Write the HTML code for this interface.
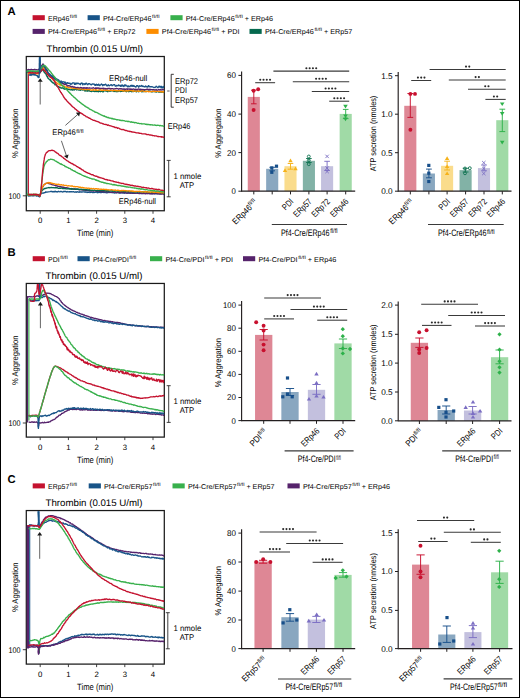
<!DOCTYPE html><html><head><meta charset="utf-8"><style>html,body{margin:0;padding:0;background:#fff}svg{display:block}text{font-family:"Liberation Sans",sans-serif;text-rendering:geometricPrecision}</style></head><body><svg width="520" height="698" viewBox="0 0 520 698"><rect width="520" height="698" fill="#fff"/><rect x="0" y="0" width="520" height="1" fill="#000"/>
<rect x="0" y="697" width="520" height="1" fill="#000"/>
<rect x="0" y="0" width="1" height="698" fill="#000"/>
<rect x="519" y="0" width="1" height="698" fill="#000"/>
<text x="7.4" y="15.2" font-size="11.3" font-weight="bold">A</text>
<text x="7.6" y="255.9" font-size="11.3" font-weight="bold">B</text>
<text x="7.4" y="483.3" font-size="11.3" font-weight="bold">C</text>
<rect x="32.6" y="15.2" width="12.2" height="5" fill="#c4122f"/>
<text x="48" y="20.5" font-size="7" textLength="21.25" lengthAdjust="spacingAndGlyphs">ERp46</text>
<text x="69.85" y="17.5" font-size="4.6" textLength="7.25" lengthAdjust="spacingAndGlyphs">fl/fl</text>
<rect x="87.6" y="15.2" width="12.2" height="5" fill="#185488"/>
<text x="103" y="20.5" font-size="7" textLength="48.44" lengthAdjust="spacingAndGlyphs">Pf4-Cre/ERp46</text>
<text x="152.05" y="17.5" font-size="4.6" textLength="7.45" lengthAdjust="spacingAndGlyphs">fl/fl</text>
<rect x="170.4" y="15.2" width="12.2" height="5" fill="#38b04c"/>
<text x="185.8" y="20.5" font-size="7" textLength="48.84" lengthAdjust="spacingAndGlyphs">Pf4-Cre/ERp46</text>
<text x="235.26" y="17.5" font-size="4.6" textLength="7.51" lengthAdjust="spacingAndGlyphs">fl/fl</text>
<text x="242.77" y="20.5" font-size="7" textLength="30.23" lengthAdjust="spacingAndGlyphs">&#160;+&#160;ERp46</text>
<rect x="32.6" y="28.9" width="12.2" height="5" fill="#56236c"/>
<text x="48" y="34.2" font-size="7" textLength="49.01" lengthAdjust="spacingAndGlyphs">Pf4-Cre/ERp46</text>
<text x="97.63" y="31.2" font-size="4.6" textLength="7.54" lengthAdjust="spacingAndGlyphs">fl/fl</text>
<text x="105.16" y="34.2" font-size="7" textLength="30.34" lengthAdjust="spacingAndGlyphs">&#160;+&#160;ERp72</text>
<rect x="146.4" y="28.9" width="12.2" height="5" fill="#fd8d00"/>
<text x="161.8" y="34.2" font-size="7" textLength="49.17" lengthAdjust="spacingAndGlyphs">Pf4-Cre/ERp46</text>
<text x="211.59" y="31.2" font-size="4.6" textLength="7.56" lengthAdjust="spacingAndGlyphs">fl/fl</text>
<text x="219.15" y="34.2" font-size="7" textLength="20.35" lengthAdjust="spacingAndGlyphs">&#160;+&#160;PDI</text>
<rect x="249.5" y="28.9" width="12.2" height="5" fill="#05694e"/>
<text x="264.9" y="34.2" font-size="7" textLength="48.95" lengthAdjust="spacingAndGlyphs">Pf4-Cre/ERp46</text>
<text x="314.47" y="31.2" font-size="4.6" textLength="7.53" lengthAdjust="spacingAndGlyphs">fl/fl</text>
<text x="322" y="34.2" font-size="7" textLength="30.3" lengthAdjust="spacingAndGlyphs">&#160;+&#160;ERp57</text>
<rect x="32.7" y="256.2" width="12.2" height="5" fill="#c4122f"/>
<text x="48.1" y="261.5" font-size="7" textLength="11.67" lengthAdjust="spacingAndGlyphs">PDI</text>
<text x="60.37" y="258.5" font-size="4.6" textLength="7.3" lengthAdjust="spacingAndGlyphs">fl/fl</text>
<rect x="77.5" y="256.2" width="12.2" height="5" fill="#185488"/>
<text x="92.9" y="261.5" font-size="7" textLength="35.89" lengthAdjust="spacingAndGlyphs">Pf4-Cre/PDI</text>
<text x="129.36" y="258.5" font-size="4.6" textLength="6.94" lengthAdjust="spacingAndGlyphs">fl/fl</text>
<rect x="150" y="256.2" width="12.2" height="5" fill="#38b04c"/>
<text x="165.4" y="261.5" font-size="7" textLength="39.07" lengthAdjust="spacingAndGlyphs">Pf4-Cre/PDI</text>
<text x="205.09" y="258.5" font-size="4.6" textLength="7.56" lengthAdjust="spacingAndGlyphs">fl/fl</text>
<text x="212.65" y="261.5" font-size="7" textLength="20.35" lengthAdjust="spacingAndGlyphs">&#160;+&#160;PDI</text>
<rect x="243" y="256.2" width="12.2" height="5" fill="#56236c"/>
<text x="258.4" y="261.5" font-size="7" textLength="39.18" lengthAdjust="spacingAndGlyphs">Pf4-Cre/PDI</text>
<text x="298.21" y="258.5" font-size="4.6" textLength="7.58" lengthAdjust="spacingAndGlyphs">fl/fl</text>
<text x="305.79" y="261.5" font-size="7" textLength="30.51" lengthAdjust="spacingAndGlyphs">&#160;+&#160;ERp46</text>
<rect x="32.7" y="483.4" width="12.2" height="5" fill="#c4122f"/>
<text x="48.1" y="488.7" font-size="7" textLength="21.18" lengthAdjust="spacingAndGlyphs">ERp57</text>
<text x="69.88" y="485.7" font-size="4.6" textLength="7.22" lengthAdjust="spacingAndGlyphs">fl/fl</text>
<rect x="88.7" y="483.4" width="12.2" height="5" fill="#185488"/>
<text x="104.1" y="488.7" font-size="7" textLength="48.35" lengthAdjust="spacingAndGlyphs">Pf4-Cre/ERp57</text>
<text x="153.06" y="485.7" font-size="4.6" textLength="7.44" lengthAdjust="spacingAndGlyphs">fl/fl</text>
<rect x="172.5" y="483.4" width="12.2" height="5" fill="#38b04c"/>
<text x="187.9" y="488.7" font-size="7" textLength="48.5" lengthAdjust="spacingAndGlyphs">Pf4-Cre/ERp57</text>
<text x="237.02" y="485.7" font-size="4.6" textLength="7.46" lengthAdjust="spacingAndGlyphs">fl/fl</text>
<text x="244.48" y="488.7" font-size="7" textLength="30.02" lengthAdjust="spacingAndGlyphs">&#160;+&#160;ERp57</text>
<rect x="287.5" y="483.4" width="12.2" height="5" fill="#56236c"/>
<text x="302.9" y="488.7" font-size="7" textLength="48.78" lengthAdjust="spacingAndGlyphs">Pf4-Cre/ERp57</text>
<text x="352.3" y="485.7" font-size="4.6" textLength="7.5" lengthAdjust="spacingAndGlyphs">fl/fl</text>
<text x="359.8" y="488.7" font-size="7" textLength="30.2" lengthAdjust="spacingAndGlyphs">&#160;+&#160;ERp46</text>
<rect x="26.3" y="56.5" width="138" height="154.25" fill="none" stroke="#1a1a1a" stroke-width="1.25"/>
<text x="46.6" y="52" font-size="9.6" textLength="96.4" lengthAdjust="spacingAndGlyphs">Thrombin (0.015 U/ml)</text>
<line x1="40.2" y1="210.75" x2="40.2" y2="213.75" stroke="#2b2b2b" stroke-width="0.9"/>
<text x="40.2" y="223.45" font-size="7.8" text-anchor="middle">0</text>
<line x1="68.4" y1="210.75" x2="68.4" y2="213.75" stroke="#2b2b2b" stroke-width="0.9"/>
<text x="68.4" y="223.45" font-size="7.8" text-anchor="middle">1</text>
<line x1="96.6" y1="210.75" x2="96.6" y2="213.75" stroke="#2b2b2b" stroke-width="0.9"/>
<text x="96.6" y="223.45" font-size="7.8" text-anchor="middle">2</text>
<line x1="124.8" y1="210.75" x2="124.8" y2="213.75" stroke="#2b2b2b" stroke-width="0.9"/>
<text x="124.8" y="223.45" font-size="7.8" text-anchor="middle">3</text>
<line x1="153" y1="210.75" x2="153" y2="213.75" stroke="#2b2b2b" stroke-width="0.9"/>
<text x="153" y="223.45" font-size="7.8" text-anchor="middle">4</text>
<text x="77.1" y="236.45" font-size="9.2" textLength="36.3" lengthAdjust="spacingAndGlyphs">Time (min)</text>
<text x="17.6" y="133.3" font-size="8.4" text-anchor="middle" textLength="49.5" lengthAdjust="spacingAndGlyphs" transform="rotate(-90 17.6 133.3)">% Aggregation</text>
<rect x="26.3" y="283.45" width="138" height="153.65" fill="none" stroke="#1a1a1a" stroke-width="1.25"/>
<text x="45.5" y="278.95" font-size="9.6" textLength="97" lengthAdjust="spacingAndGlyphs">Thrombin (0.015 U/ml)</text>
<line x1="40.2" y1="437.1" x2="40.2" y2="440.1" stroke="#2b2b2b" stroke-width="0.9"/>
<text x="40.2" y="449.8" font-size="7.8" text-anchor="middle">0</text>
<line x1="68.4" y1="437.1" x2="68.4" y2="440.1" stroke="#2b2b2b" stroke-width="0.9"/>
<text x="68.4" y="449.8" font-size="7.8" text-anchor="middle">1</text>
<line x1="96.6" y1="437.1" x2="96.6" y2="440.1" stroke="#2b2b2b" stroke-width="0.9"/>
<text x="96.6" y="449.8" font-size="7.8" text-anchor="middle">2</text>
<line x1="124.8" y1="437.1" x2="124.8" y2="440.1" stroke="#2b2b2b" stroke-width="0.9"/>
<text x="124.8" y="449.8" font-size="7.8" text-anchor="middle">3</text>
<line x1="153" y1="437.1" x2="153" y2="440.1" stroke="#2b2b2b" stroke-width="0.9"/>
<text x="153" y="449.8" font-size="7.8" text-anchor="middle">4</text>
<text x="77.1" y="462.8" font-size="9.2" textLength="36.3" lengthAdjust="spacingAndGlyphs">Time (min)</text>
<text x="17.6" y="360.25" font-size="8.4" text-anchor="middle" textLength="49.5" lengthAdjust="spacingAndGlyphs" transform="rotate(-90 17.6 360.25)">% Aggregation</text>
<rect x="26.3" y="510.55" width="138" height="153.55" fill="none" stroke="#1a1a1a" stroke-width="1.25"/>
<text x="45.5" y="506.05" font-size="9.6" textLength="97" lengthAdjust="spacingAndGlyphs">Thrombin (0.015 U/ml)</text>
<line x1="40.2" y1="664.1" x2="40.2" y2="667.1" stroke="#2b2b2b" stroke-width="0.9"/>
<text x="40.2" y="676.8" font-size="7.8" text-anchor="middle">0</text>
<line x1="68.4" y1="664.1" x2="68.4" y2="667.1" stroke="#2b2b2b" stroke-width="0.9"/>
<text x="68.4" y="676.8" font-size="7.8" text-anchor="middle">1</text>
<line x1="96.6" y1="664.1" x2="96.6" y2="667.1" stroke="#2b2b2b" stroke-width="0.9"/>
<text x="96.6" y="676.8" font-size="7.8" text-anchor="middle">2</text>
<line x1="124.8" y1="664.1" x2="124.8" y2="667.1" stroke="#2b2b2b" stroke-width="0.9"/>
<text x="124.8" y="676.8" font-size="7.8" text-anchor="middle">3</text>
<line x1="153" y1="664.1" x2="153" y2="667.1" stroke="#2b2b2b" stroke-width="0.9"/>
<text x="153" y="676.8" font-size="7.8" text-anchor="middle">4</text>
<text x="77.1" y="689.8" font-size="9.2" textLength="36.3" lengthAdjust="spacingAndGlyphs">Time (min)</text>
<text x="17.6" y="587.35" font-size="8.4" text-anchor="middle" textLength="49.5" lengthAdjust="spacingAndGlyphs" transform="rotate(-90 17.6 587.35)">% Aggregation</text>
<defs><clipPath id="cA"><rect x="26.3" y="57.1" width="138" height="153"/></clipPath><clipPath id="cB"><rect x="26.3" y="284.1" width="138" height="152.4"/></clipPath><clipPath id="cC"><rect x="26.3" y="511.2" width="138" height="152.3"/></clipPath></defs>
<g clip-path="url(#cA)">
<line x1="26.9" y1="71" x2="26.9" y2="195" stroke="#05694e" stroke-width="1.1"/>
<line x1="28.4" y1="72.6" x2="28.4" y2="194.6" stroke="#c4122f" stroke-width="1.1"/>
<polyline points="28.0,195.8 28.4,195.8 28.8,196.1 29.4,195.8 30.0,195.8 30.7,195.8 31.4,195.5 32.1,195.8 32.9,195.8 33.7,195.9 34.4,195.4 35.2,195.6 35.9,195.4 36.5,196.0 37.1,195.9 37.6,195.5 38.0,196.1 39.2,196.5 39.4,196.8 39.6,196.9 39.9,196.2 40.0,195.6 40.3,195.2 40.6,194.2 41.0,193.8 41.4,193.5 41.9,193.1 42.5,193.2 43.1,193.0 43.7,193.1 44.4,192.7 45.0,192.6 45.4,192.3 45.6,192.3 45.7,192.0 45.9,191.8 46.2,192.2 47.0,192.1 48.2,191.9 50.0,191.7 50.4,191.5 50.7,191.4 51.1,191.4 51.6,191.3 52.0,191.8 52.5,191.5 52.9,191.8 53.4,191.5 54.0,191.9 54.5,191.8 55.0,191.2 55.6,191.4 56.1,191.9 56.7,191.6 57.3,192.0 57.9,191.6 58.5,191.3 59.2,191.7 59.8,191.8 60.4,191.5 61.1,191.4 61.7,191.6 62.4,192.0 63.1,191.9 63.8,191.4 64.4,191.5 65.1,191.5 65.8,191.4 66.5,192.0 67.2,191.5 67.8,191.8 68.5,191.8 69.2,191.6 69.9,192.0 70.6,191.6 71.3,191.9 71.9,191.6 72.6,191.8 73.3,191.7 73.9,191.7 74.6,192.2 75.2,192.1 75.8,191.8 76.5,192.2 77.1,191.7 77.7,191.9 78.3,192.2 78.9,192.1 79.4,191.7 80.0,192.3 80.7,191.8 81.3,191.9 81.9,192.2 82.5,191.9 83.1,191.9 83.6,191.8 84.2,191.8 84.7,192.1 85.2,191.9 85.7,192.2 86.2,192.0 86.7,192.1 87.1,192.5 87.6,192.1 88.1,192.2 88.5,192.4 89.0,191.9 89.5,191.9 90.0,192.5 90.4,192.4 90.9,192.0 91.4,192.0 91.9,192.4 92.5,192.6 93.0,192.0 93.6,192.6 94.1,192.5 94.7,192.4 95.3,192.3 96.0,192.0 96.6,192.0 97.3,192.7 98.0,192.2 98.8,192.5 99.6,192.2 100.4,192.6 101.2,192.5 102.1,192.3 103.0,192.2 104.0,192.6 105.0,192.2 105.4,192.3 105.9,192.6 106.3,192.8 106.8,192.6 107.3,192.4 107.8,192.8 108.3,192.4 108.8,192.2 109.4,192.4 109.9,192.6 110.4,192.3 111.0,192.4 111.6,192.5 112.2,192.7 112.7,192.4 113.3,192.6 114.0,192.9 114.6,193.0 115.2,192.8 115.8,192.8 116.5,192.8 117.1,192.5 117.8,192.4 118.4,192.4 119.1,193.1 119.7,192.9 120.4,193.1 121.1,192.5 121.8,192.9 122.5,192.8 123.2,193.0 123.9,192.7 124.6,193.2 125.3,192.6 126.0,192.9 126.7,193.1 127.4,193.2 128.1,193.1 128.8,193.1 129.6,193.2 130.3,193.3 131.0,192.9 131.7,193.1 132.4,193.3 133.2,193.3 133.9,193.0 134.6,193.3 135.3,193.3 136.1,193.1 136.8,193.2 137.5,193.0 138.2,193.2 138.9,193.2 139.6,192.9 140.4,193.3 141.1,193.5 141.8,193.5 142.5,193.4 143.2,193.1 143.8,193.4 144.5,193.3 145.2,193.2 145.9,193.5 146.6,193.0 147.2,193.5 147.9,193.0 148.5,193.4 149.2,193.3 149.8,193.1 150.5,193.5 151.1,193.4 151.7,193.5 152.3,193.7 152.9,193.2 153.5,193.1 154.1,193.3 154.6,193.6 155.2,193.2 155.8,193.2 156.3,193.7 156.8,193.6 157.4,193.4 157.9,193.8 158.4,193.4 158.9,193.6 159.3,193.3 159.8,193.5 160.2,193.7 160.7,193.8 161.1,193.8 161.5,193.5 161.9,193.6 162.3,193.4 162.7,193.3 163.0,193.6 163.4,193.8 163.7,193.8 164.0,193.7" fill="none" stroke="#185488" stroke-width="1.35" stroke-linejoin="round" stroke-linecap="round"/>
<polyline points="28.0,195.1 28.4,195.2 28.8,195.2 29.4,194.9 30.0,194.8 30.7,195.0 31.4,194.9 32.1,195.2 32.9,195.1 33.7,195.1 34.4,195.0 35.2,195.1 35.9,194.8 36.5,195.0 37.1,194.9 37.6,195.3 38.0,194.9 39.2,195.8 39.4,196.0 39.6,196.4 39.8,195.9 40.1,195.4 40.3,195.0 40.5,193.9 40.7,193.1 41.0,192.7 41.2,192.0 41.3,191.2 41.5,191.0 41.7,190.4 41.8,189.3 42.0,188.8 42.2,188.0 42.5,187.5 42.7,187.1 43.0,186.3 43.4,186.0 43.8,185.1 44.2,184.7 44.6,184.5 45.1,183.9 45.7,183.5 46.3,183.4 47.0,183.2 47.5,183.1 47.9,183.0 48.4,183.4 48.9,183.7 49.5,183.9 50.0,183.9 50.6,184.0 51.2,184.2 51.9,184.7 52.6,184.9 53.3,184.9 54.1,185.2 55.0,185.4 55.5,185.6 55.9,185.9 56.4,185.8 56.9,185.7 57.4,186.2 57.9,186.1 58.4,186.3 58.9,186.3 59.5,186.5 60.0,186.6 60.6,186.9 61.1,186.7 61.7,187.1 62.3,187.0 62.9,187.4 63.6,187.2 64.2,187.4 64.9,187.6 65.6,187.9 66.2,187.7 67.0,188.0 67.7,188.0 68.4,188.2 69.2,188.4 70.0,188.7 70.5,188.6 71.0,188.9 71.5,188.5 72.0,189.0 72.5,188.8 73.0,188.7 73.6,189.1 74.1,189.2 74.6,188.8 75.2,189.0 75.7,189.4 76.3,189.2 76.8,189.2 77.4,189.2 78.0,189.2 78.6,189.6 79.2,189.8 79.7,189.9 80.3,189.7 80.9,189.5 81.6,189.8 82.2,190.0 82.8,190.1 83.4,190.1 84.1,189.9 84.7,190.2 85.3,190.2 86.0,190.3 86.6,190.2 87.3,190.6 88.0,190.6 88.7,190.3 89.3,190.4 90.0,190.8 90.7,190.6 91.4,190.9 92.1,190.8 92.8,190.9 93.5,191.0 94.3,190.8 95.0,190.9 95.5,190.9 96.0,191.2 96.6,191.2 97.1,191.0 97.7,191.4 98.2,191.2 98.8,191.1 99.3,191.3 99.9,191.6 100.5,191.4 101.0,191.5 101.6,191.7 102.2,191.7 102.8,191.7 103.4,191.5 104.0,191.7 104.6,191.9 105.2,191.8 105.8,191.8 106.4,191.7 107.0,191.7 107.6,192.0 108.2,191.9 108.8,191.7 109.4,192.1 110.1,192.2 110.7,192.2 111.3,192.3 111.9,192.3 112.6,192.1 113.2,192.3 113.8,192.1 114.5,192.0 115.1,192.2 115.7,192.2 116.4,192.6 117.0,192.5 117.6,192.4 118.2,192.5 118.9,192.3 119.5,192.5 120.1,192.6 120.8,192.5 121.4,192.5 122.0,192.6 122.7,192.6 123.3,192.8 123.9,192.5 124.5,192.5 125.1,192.7 125.8,192.9 126.4,193.0 127.0,192.9 127.6,193.1 128.2,192.9 128.8,192.7 129.4,193.0 130.0,193.0 130.6,192.9 131.3,193.1 131.9,193.0 132.5,193.0 133.2,193.0 133.9,193.4 134.5,192.9 135.2,193.1 135.9,193.1 136.6,193.1 137.3,193.2 138.0,193.2 138.7,193.5 139.4,193.3 140.1,193.5 140.8,193.2 141.5,193.4 142.2,193.5 142.9,193.6 143.6,193.3 144.3,193.5 145.0,193.7 145.7,193.7 146.4,193.4 147.1,193.6 147.8,193.7 148.5,193.6 149.2,193.7 149.9,193.7 150.5,193.9 151.2,193.7 151.9,193.8 152.5,193.6 153.2,193.8 153.8,193.7 154.4,193.8 155.0,193.7 155.6,193.7 156.2,193.6 156.8,193.7 157.4,193.9 157.9,193.7 158.5,193.6 159.0,194.0 159.5,193.8 160.0,194.1 160.5,194.0 160.9,193.9 161.4,194.1 161.8,194.1 162.2,193.9 162.6,193.8 163.0,194.0 163.4,194.2 163.7,194.0 164.0,194.1" fill="none" stroke="#56236c" stroke-width="1.35" stroke-linejoin="round" stroke-linecap="round"/>
<polyline points="28.0,194.7 28.4,194.9 28.8,194.9 29.4,195.0 30.0,194.6 30.7,194.6 31.4,194.5 32.1,194.6 32.9,194.9 33.7,194.5 34.4,194.7 35.2,194.5 35.9,194.6 36.5,194.7 37.1,194.9 37.6,194.8 38.0,194.5 39.2,195.2 39.4,195.7 39.6,196.2 39.8,195.9 40.0,195.4 40.1,194.8 40.3,194.1 40.5,193.5 40.7,192.7 41.0,191.9 41.3,191.7 41.7,191.0 42.0,190.7 42.4,190.2 42.9,189.7 43.4,189.2 44.0,189.0 44.4,188.7 44.8,188.4 45.1,188.6 45.5,188.4 45.9,188.4 46.4,188.1 47.1,187.9 47.9,187.9 48.8,187.5 50.0,187.8 50.4,187.7 50.8,187.5 51.2,187.5 51.7,187.7 52.1,187.6 52.6,187.7 53.1,187.8 53.5,187.7 54.0,187.6 54.6,187.8 55.1,187.7 55.6,187.7 56.2,187.7 56.7,187.9 57.3,187.7 57.9,188.1 58.5,188.3 59.1,188.0 59.7,188.3 60.4,188.4 61.0,188.0 61.7,188.1 62.4,188.5 63.1,188.6 63.8,188.5 64.5,188.3 65.3,188.5 66.0,188.8 66.8,188.8 67.6,188.8 68.4,188.5 69.2,189.0 70.0,188.7 70.5,189.0 71.0,188.6 71.4,189.2 71.9,189.0 72.4,189.1 72.9,188.8 73.4,189.1 73.9,189.1 74.4,189.1 74.9,189.0 75.4,189.3 75.9,189.1 76.4,189.1 76.9,189.0 77.4,189.4 77.9,189.1 78.4,189.2 79.0,189.1 79.5,189.5 80.0,189.5 80.6,189.5 81.1,189.2 81.7,189.5 82.2,189.5 82.8,189.4 83.3,189.3 83.9,190.0 84.5,189.5 85.1,189.6 85.6,189.7 86.2,189.9 86.8,189.6 87.4,189.9 88.1,189.9 88.7,190.2 89.3,189.7 89.9,190.0 90.6,190.1 91.2,190.4 91.9,190.2 92.5,190.2 93.2,190.3 93.9,190.2 94.6,190.0 95.2,190.3 95.9,190.6 96.6,190.6 97.4,190.3 98.1,190.6 98.8,190.7 99.6,190.4 100.3,190.6 101.1,190.5 101.8,190.5 102.6,190.6 103.4,190.6 104.2,190.7 105.0,190.5 105.5,190.8 106.0,190.6 106.5,191.0 107.0,190.9 107.5,190.6 108.1,191.1 108.6,190.8 109.2,190.9 109.7,191.0 110.3,190.9 110.9,190.9 111.5,191.0 112.1,190.8 112.7,191.3 113.3,190.9 113.9,191.3 114.5,191.0 115.2,191.0 115.8,191.1 116.5,190.9 117.1,191.0 117.8,191.2 118.4,191.2 119.1,191.5 119.8,191.6 120.5,191.1 121.1,191.4 121.8,191.2 122.5,191.6 123.2,191.3 123.9,191.7 124.6,191.5 125.3,191.3 126.0,191.2 126.7,191.4 127.4,191.8 128.1,191.4 128.8,191.6 129.6,191.5 130.3,191.5 131.0,191.8 131.7,191.5 132.4,191.8 133.1,191.8 133.8,192.0 134.6,191.8 135.3,192.0 136.0,191.8 136.7,191.9 137.4,191.9 138.1,192.1 138.8,192.1 139.5,191.7 140.2,191.7 140.9,192.0 141.6,192.2 142.3,192.0 143.0,191.9 143.6,192.3 144.3,191.9 145.0,191.8 145.6,191.8 146.3,191.8 147.0,192.3 147.6,191.9 148.2,192.3 148.9,192.4 149.5,192.5 150.1,192.4 150.7,192.2 151.4,192.3 152.0,192.5 152.5,192.4 153.1,192.2 153.7,192.5 154.3,192.1 154.8,192.2 155.4,192.7 155.9,192.4 156.4,192.2 157.0,192.6 157.5,192.4 158.0,192.1 158.5,192.2 158.9,192.3 159.4,192.4 159.9,192.7 160.3,192.3 160.7,192.7 161.1,192.7 161.5,192.5 161.9,192.8 162.3,192.7 162.7,192.6 163.0,192.4 163.4,192.6 163.7,192.8 164.0,192.6" fill="none" stroke="#05694e" stroke-width="1.35" stroke-linejoin="round" stroke-linecap="round"/>
<polyline points="28.0,194.5 28.4,194.8 28.8,194.8 29.4,194.9 30.0,194.5 30.7,194.5 31.4,194.8 32.1,194.7 32.9,194.5 33.7,194.7 34.4,194.5 35.2,194.8 35.9,194.4 36.5,194.5 37.1,194.9 37.6,194.6 38.0,194.6 39.2,195.4 39.4,196.0 39.6,195.8 39.8,195.8 40.0,195.4 40.2,194.6 40.4,194.2 40.6,193.2 40.8,192.6 41.0,191.7 41.2,191.3 41.3,191.2 41.5,190.2 41.6,189.9 41.8,188.9 42.0,188.4 42.2,187.9 42.4,187.2 42.7,186.3 43.0,186.1 43.4,185.6 43.9,184.8 44.4,184.3 44.9,184.4 45.5,183.8 46.1,183.3 46.7,183.1 47.3,182.8 48.0,183.0 48.5,182.7 49.0,182.5 49.5,183.0 50.1,182.6 50.6,182.9 51.2,182.9 51.8,183.5 52.5,183.3 53.2,183.7 54.1,183.6 55.0,184.0 55.4,184.2 55.9,184.2 56.4,184.2 56.8,184.3 57.3,184.3 57.8,184.5 58.3,184.2 58.9,184.5 59.4,184.5 59.9,184.9 60.5,185.0 61.1,184.6 61.7,184.7 62.3,185.1 62.9,185.1 63.5,184.9 64.2,185.4 64.8,185.6 65.5,185.4 66.2,185.4 66.9,185.7 67.7,186.0 68.4,185.7 69.2,185.8 70.0,185.8 70.5,186.1 71.0,186.1 71.5,186.0 72.0,186.2 72.5,186.0 73.0,186.3 73.6,186.7 74.1,186.6 74.6,186.4 75.2,186.9 75.7,186.6 76.3,186.6 76.8,186.6 77.4,186.7 78.0,186.8 78.6,186.9 79.2,187.4 79.7,187.1 80.3,187.1 80.9,187.4 81.6,187.7 82.2,187.4 82.8,187.7 83.4,187.6 84.1,187.8 84.7,187.8 85.3,188.1 86.0,188.1 86.6,188.0 87.3,188.3 88.0,188.1 88.7,188.1 89.3,188.6 90.0,188.4 90.7,188.6 91.4,188.4 92.1,188.8 92.8,188.7 93.5,188.5 94.3,189.0 95.0,188.8 95.5,188.7 96.0,188.7 96.6,188.7 97.1,188.8 97.7,189.1 98.2,188.8 98.8,189.0 99.3,189.1 99.9,189.2 100.5,189.1 101.0,189.4 101.6,189.2 102.2,189.3 102.8,189.3 103.4,189.2 104.0,189.3 104.6,189.3 105.2,189.7 105.8,189.4 106.4,189.7 107.0,189.5 107.6,189.8 108.2,189.8 108.8,189.7 109.4,190.1 110.1,189.9 110.7,189.9 111.3,189.7 111.9,189.9 112.6,189.9 113.2,190.0 113.8,190.3 114.5,190.3 115.1,189.9 115.7,190.3 116.4,190.5 117.0,190.3 117.6,190.1 118.2,190.6 118.9,190.3 119.5,190.7 120.1,190.7 120.8,190.7 121.4,190.8 122.0,190.3 122.7,190.8 123.3,190.5 123.9,190.4 124.5,190.6 125.1,190.8 125.8,190.5 126.4,190.8 127.0,191.0 127.6,190.9 128.2,190.9 128.8,190.8 129.4,191.2 130.0,190.8 130.6,191.1 131.3,191.2 131.9,190.8 132.5,191.4 133.2,191.0 133.9,191.5 134.5,191.5 135.2,191.5 135.9,191.5 136.6,191.3 137.3,191.4 138.0,191.3 138.7,191.7 139.4,191.2 140.1,191.3 140.8,191.8 141.5,191.8 142.2,191.8 142.9,192.0 143.6,191.7 144.3,191.9 145.0,191.7 145.7,192.1 146.4,191.6 147.1,191.8 147.8,192.0 148.5,192.1 149.2,191.9 149.9,192.1 150.5,192.3 151.2,192.0 151.9,191.9 152.5,191.9 153.2,192.4 153.8,192.2 154.4,192.2 155.0,192.3 155.6,192.1 156.2,192.2 156.8,192.2 157.4,192.2 157.9,192.6 158.5,192.3 159.0,192.2 159.5,192.7 160.0,192.5 160.5,192.2 160.9,192.7 161.4,192.7 161.8,192.7 162.2,192.8 162.6,192.6 163.0,192.5 163.4,192.8 163.7,192.8 164.0,192.8" fill="none" stroke="#fd8d00" stroke-width="1.35" stroke-linejoin="round" stroke-linecap="round"/>
<polyline points="27.0,194.8 27.4,194.2 27.8,194.6 28.3,194.3 28.9,194.8 29.5,194.2 30.2,194.7 30.9,194.5 31.7,194.6 32.4,194.7 33.2,194.2 33.9,194.3 34.6,194.5 35.3,194.3 36.0,194.3 36.6,194.3 37.1,194.6 37.6,194.7 38.0,194.7 39.3,194.9 39.5,196.0 39.6,196.0 39.9,195.8 40.1,195.7 40.3,194.9 40.6,193.2 40.7,193.2 40.7,192.6 40.8,192.3 40.8,192.0 40.9,191.3 40.9,190.6 41.0,190.2 41.1,189.7 41.1,188.8 41.2,188.4 41.2,187.1 41.3,186.5 41.4,185.9 41.4,185.6 41.5,184.8 41.6,184.1 41.6,183.2 41.7,182.6 41.8,182.2 41.8,181.0 41.9,180.4 42.0,179.7 42.1,179.4 42.2,178.9 42.2,178.1 42.3,177.4 42.4,176.8 42.5,175.9 42.6,175.7 42.6,174.7 42.7,173.9 42.8,173.3 42.9,172.9 43.0,172.0 43.1,171.7 43.2,170.7 43.3,170.2 43.4,169.3 43.5,169.3 43.6,168.6 43.7,167.9 43.8,167.2 43.9,166.9 44.0,166.4 44.3,165.8 44.5,165.1 44.8,164.3 45.1,163.5 45.4,162.9 45.7,162.9 46.0,162.6 46.3,161.7 46.6,161.6 47.0,161.2 47.5,161.0 48.1,160.0 48.7,159.7 49.4,159.8 50.0,159.5 50.6,159.2 51.2,159.4 51.8,159.3 52.5,159.5 53.1,159.6 53.7,159.8 54.3,160.1 55.0,160.7 55.5,161.1 56.0,161.2 56.5,161.5 57.0,161.9 57.5,162.3 58.1,162.5 58.7,162.7 59.3,163.3 60.0,163.7 60.4,164.0 60.9,164.2 61.4,163.9 61.9,164.6 62.4,164.7 62.9,165.0 63.5,165.3 64.0,165.4 64.6,165.8 65.1,166.5 65.7,166.4 66.3,167.0 66.9,167.2 67.4,167.3 68.0,167.6 68.5,168.0 69.0,168.4 69.5,168.4 70.0,168.5 70.6,168.9 71.1,169.6 71.6,169.8 72.1,169.7 72.7,170.4 73.2,170.6 73.7,170.7 74.3,171.3 74.8,171.2 75.4,171.4 75.9,171.9 76.5,172.4 77.0,172.5 77.5,172.8 78.1,173.3 78.7,173.3 79.2,173.8 79.8,173.6 80.4,174.4 80.9,174.3 81.5,174.8 82.1,175.2 82.6,175.4 83.2,175.6 83.8,175.9 84.3,176.2 84.9,176.2 85.4,176.4 86.0,176.8 86.5,177.0 87.1,177.0 87.8,177.5 88.4,177.6 89.0,177.7 89.5,178.2 90.1,178.4 90.7,178.3 91.3,178.7 91.9,179.0 92.5,179.0 93.1,179.0 93.7,179.1 94.3,179.2 95.0,179.5 95.5,180.1 96.0,179.7 96.5,180.4 97.0,180.5 97.5,180.7 98.0,180.5 98.5,181.0 99.0,181.0 99.5,181.5 100.1,181.7 100.7,181.9 101.3,182.0 101.9,182.4 102.6,182.2 103.4,182.4 104.1,183.0 105.0,182.7 105.5,183.1 105.9,183.2 106.4,183.5 107.0,183.3 107.5,183.6 108.0,183.6 108.6,183.7 109.2,183.8 109.7,183.9 110.3,184.1 110.9,184.1 111.5,184.2 112.2,184.6 112.8,184.8 113.4,184.5 114.1,185.0 114.7,184.5 115.3,184.8 116.0,185.3 116.7,185.0 117.3,185.4 118.0,185.7 118.6,185.5 119.3,185.6 119.9,185.4 120.6,185.8 121.2,185.9 121.9,186.2 122.5,186.0 123.1,186.4 123.8,186.2 124.4,186.5 125.0,186.7 125.6,186.4 126.2,187.0 126.8,186.8 127.4,186.9 128.0,187.3 128.6,187.1 129.3,187.2 129.9,187.1 130.5,187.2 131.1,187.6 131.7,187.6 132.3,187.7 132.9,187.9 133.5,187.9 134.1,187.8 134.8,188.2 135.4,188.1 136.0,188.0 136.6,188.5 137.2,188.6 137.8,188.2 138.4,188.8 139.0,188.8 139.6,188.6 140.2,188.9 140.8,189.2 141.4,188.8 142.0,189.2 142.6,189.0 143.2,189.0 143.8,189.6 144.4,189.7 145.0,189.6 145.6,189.8 146.3,189.6 147.0,189.7 147.6,189.9 148.3,190.1 149.0,190.2 149.7,190.1 150.4,190.3 151.2,190.3 151.9,190.6 152.6,190.7 153.3,190.8 154.0,190.6 154.7,190.7 155.4,191.2 156.1,190.9 156.8,191.2 157.4,190.9 158.1,191.0 158.7,191.2 159.3,191.5 159.9,191.3 160.5,191.6 161.0,191.4 161.5,191.8 162.0,191.9 162.5,191.7 162.9,191.7 163.3,191.8 163.7,192.0 164.0,191.8" fill="none" stroke="#38b04c" stroke-width="1.35" stroke-linejoin="round" stroke-linecap="round"/>
<polyline points="28.4,194.5 28.8,194.6 29.2,194.5 29.7,194.6 30.3,194.5 31.0,194.6 31.6,194.4 32.4,194.6 33.1,194.3 33.8,194.4 34.6,194.4 35.3,194.3 35.9,194.6 36.6,194.4 37.1,194.7 37.6,194.8 38.0,194.5 39.1,195.3 39.4,195.9 39.6,196.1 39.9,195.6 40.1,195.5 40.4,194.9 40.6,193.4 40.7,193.0 40.7,192.6 40.8,192.1 40.8,191.9 40.9,191.1 41.0,190.6 41.0,190.1 41.1,189.6 41.2,188.7 41.2,187.9 41.3,187.7 41.3,187.0 41.4,186.3 41.5,185.4 41.5,184.6 41.6,183.9 41.7,183.3 41.7,182.7 41.8,181.8 41.9,181.5 41.9,181.0 42.0,180.0 42.0,179.9 42.0,179.1 42.1,178.7 42.1,177.9 42.2,177.4 42.2,176.6 42.3,176.1 42.3,175.4 42.4,174.5 42.4,173.9 42.5,173.3 42.5,172.8 42.6,172.2 42.6,171.6 42.7,171.1 42.7,170.3 42.8,169.7 42.9,169.2 42.9,168.8 43.0,168.1 43.1,167.4 43.2,166.8 43.2,165.8 43.3,165.1 43.4,164.4 43.5,163.7 43.6,163.0 43.7,162.6 43.8,162.1 43.9,161.0 44.0,160.6 44.1,160.1 44.2,159.4 44.3,158.5 44.4,158.1 44.5,157.4 44.6,156.8 44.8,156.3 44.9,156.0 45.0,155.8 45.3,154.5 45.7,153.7 46.0,153.3 46.4,152.6 46.8,152.4 47.2,152.2 47.6,151.8 48.0,151.3 48.6,150.9 49.3,150.6 49.9,150.6 50.6,150.6 51.3,150.3 52.0,150.1 52.6,150.3 53.1,150.6 53.7,150.7 54.3,151.0 54.9,151.5 55.4,152.1 56.0,152.2 56.5,152.8 56.9,153.1 57.3,153.2 57.8,153.4 58.2,153.8 58.7,154.4 59.3,154.9 60.0,155.5 60.4,155.4 60.8,155.9 61.2,156.0 61.7,156.5 62.2,156.9 62.7,157.2 63.2,157.5 63.7,158.4 64.2,158.5 64.8,159.0 65.3,159.4 65.8,159.8 66.4,160.2 66.9,160.6 67.5,160.9 68.0,161.1 68.5,161.7 69.0,162.0 69.5,162.4 70.0,162.5 70.6,162.9 71.1,163.3 71.6,163.6 72.1,163.5 72.7,164.0 73.2,164.2 73.7,164.8 74.3,164.9 74.8,165.2 75.4,165.4 75.9,165.8 76.5,166.3 77.0,166.6 77.5,166.7 78.0,167.1 78.6,167.5 79.1,167.6 79.6,168.3 80.2,168.2 80.7,168.9 81.2,169.0 81.8,169.7 82.3,169.9 82.9,170.0 83.4,170.5 83.9,171.0 84.4,171.3 85.0,171.5 85.5,171.8 86.0,172.2 86.5,172.5 87.1,172.6 87.7,172.9 88.2,173.3 88.8,173.4 89.4,173.5 89.9,173.9 90.4,174.0 91.0,174.4 91.5,174.6 92.1,174.9 92.7,174.7 93.2,174.9 93.8,175.6 94.4,175.7 95.0,176.0 95.5,176.2 96.0,176.4 96.5,176.2 97.0,176.4 97.5,176.8 98.0,177.1 98.5,176.9 99.0,177.5 99.5,177.4 100.0,177.5 100.6,177.9 101.2,177.9 101.9,178.1 102.6,178.3 103.3,178.5 104.1,178.8 105.0,179.3 105.4,179.5 105.9,179.6 106.4,179.5 106.9,179.8 107.4,179.7 107.9,180.2 108.5,180.1 109.1,180.1 109.6,180.4 110.2,180.4 110.8,180.8 111.4,180.8 112.0,180.8 112.6,181.0 113.2,181.1 113.9,181.7 114.5,181.6 115.1,181.9 115.8,182.0 116.4,182.0 117.1,182.4 117.7,182.4 118.4,182.3 119.0,182.9 119.7,182.8 120.3,183.1 120.9,183.1 121.6,183.5 122.2,183.3 122.8,183.3 123.4,183.5 124.0,183.8 124.6,184.1 125.2,184.1 125.8,184.4 126.4,184.2 127.0,184.7 127.7,184.4 128.3,184.9 128.9,184.7 129.5,185.0 130.1,185.1 130.7,185.4 131.3,185.2 131.9,185.6 132.5,185.3 133.1,185.8 133.7,185.7 134.3,185.8 134.9,186.2 135.5,185.9 136.1,186.2 136.7,186.3 137.3,186.2 137.9,186.3 138.5,186.5 139.1,186.5 139.7,186.8 140.3,186.8 140.8,186.7 141.4,187.1 142.0,187.3 142.6,187.3 143.2,187.2 143.8,187.3 144.4,187.7 145.0,187.6 145.6,187.8 146.2,187.6 146.9,188.1 147.5,188.2 148.2,188.0 148.8,188.1 149.5,188.4 150.2,188.6 150.9,188.7 151.6,188.4 152.3,188.5 153.0,189.0 153.7,188.9 154.3,189.2 155.0,189.1 155.7,189.4 156.4,189.2 157.0,189.6 157.7,189.5 158.3,189.3 158.9,189.5 159.5,189.5 160.0,189.8 160.6,190.1 161.1,190.2 161.6,190.3 162.1,190.1 162.5,190.3 163.0,190.4 163.3,190.5 163.7,190.6 164.0,190.6" fill="none" stroke="#c4122f" stroke-width="1.35" stroke-linejoin="round" stroke-linecap="round"/>
<polyline points="27.0,71.4 27.3,72.0 27.8,72.0 28.2,71.8 28.8,71.5 29.4,72.2 30.0,72.2 30.7,71.9 31.4,71.9 32.1,71.6 32.8,71.4 33.5,71.8 34.3,72.1 35.0,71.5 35.7,72.3 36.4,71.6 37.0,71.6 37.6,71.4 38.1,72.5 38.6,72.1 39.0,72.3 40.0,71.6 40.7,70.4 41.1,70.2 41.3,69.8 41.6,69.0 42.0,69.9 42.4,69.4 42.8,69.5 43.2,70.8 43.6,70.5 44.1,72.1 44.5,72.3 45.0,73.1 45.3,73.2 45.6,73.8 45.9,73.9 46.2,74.2 46.5,75.7 46.8,75.5 47.1,76.7 47.5,76.5 47.9,78.0 48.3,78.4 48.7,78.8 49.2,79.3 49.6,79.5 50.0,80.1 50.4,79.7 50.8,80.6 51.2,81.4 51.7,81.1 52.1,82.4 52.6,82.8 53.1,82.7 53.6,83.1 54.1,83.6 54.6,83.9 55.1,85.0 55.6,84.7 56.1,84.6 56.5,85.0 57.0,86.1 57.5,86.7 58.1,86.4 58.6,86.7 59.1,87.1 59.6,87.5 60.0,87.1 60.5,87.8 61.1,87.9 61.6,88.2 62.2,87.8 62.8,88.0 63.5,88.3 64.2,89.2 65.0,88.6 65.5,89.0 66.0,88.7 66.5,88.5 67.0,88.5 67.6,89.5 68.1,89.5 68.7,89.1 69.3,89.5 69.9,89.5 70.5,89.8 71.1,89.9 71.7,89.3 72.4,90.0 73.0,90.0 73.7,89.6 74.3,90.0 75.0,89.5 75.6,89.4 76.2,89.3 76.9,90.1 77.5,89.2 78.2,89.2 78.8,90.1 79.4,90.1 80.0,89.8 80.6,90.3 81.1,89.4 81.7,89.7 82.2,89.8 82.7,90.0 83.2,89.7 83.6,89.7 84.1,90.1 84.6,90.8 85.0,91.0 85.5,90.8 86.0,90.5 86.5,90.3 87.0,91.2 87.6,90.8 88.1,91.1 88.7,90.3 89.3,90.6 90.0,91.4 90.7,91.4 91.5,91.5 92.3,91.2 93.1,91.0 94.0,91.3 95.0,91.6 95.4,91.0 95.9,91.3 96.3,91.0 96.8,91.6 97.3,90.7 97.8,91.5 98.3,91.8 98.8,90.7 99.3,91.4 99.9,91.4 100.4,91.7 101.0,91.4 101.5,91.0 102.1,91.2 102.7,91.8 103.2,91.8 103.8,90.8 104.4,90.8 105.0,90.8 105.6,90.7 106.2,91.2 106.9,90.8 107.5,91.7 108.1,91.5 108.7,90.8 109.4,91.3 110.0,91.0 110.7,91.2 111.3,90.9 112.0,90.8 112.6,90.9 113.3,91.1 113.9,91.5 114.6,91.3 115.2,90.7 115.9,91.5 116.6,91.7 117.2,91.5 117.9,91.6 118.5,90.6 119.2,91.2 119.9,90.7 120.5,91.5 121.2,90.8 121.8,91.4 122.5,90.9 123.1,91.4 123.8,91.0 124.4,90.6 125.1,91.0 125.7,91.0 126.3,91.7 127.0,90.9 127.6,91.2 128.2,91.2 128.8,91.7 129.4,90.7 130.0,91.3 130.6,91.2 131.3,91.5 131.9,91.8 132.5,91.0 133.2,91.5 133.9,91.3 134.5,91.3 135.2,90.7 135.9,91.6 136.6,91.9 137.3,91.1 138.0,91.1 138.7,91.9 139.4,90.9 140.1,90.8 140.8,90.8 141.5,91.7 142.2,91.7 142.9,91.3 143.6,91.5 144.3,90.8 145.0,91.6 145.7,91.4 146.4,91.5 147.1,91.3 147.8,91.4 148.5,91.2 149.2,91.0 149.9,91.4 150.5,91.2 151.2,91.8 151.9,91.9 152.5,91.8 153.2,91.5 153.8,91.3 154.4,91.5 155.0,91.6 155.6,91.8 156.2,92.2 156.8,91.2 157.4,91.6 157.9,91.7 158.5,91.9 159.0,92.2 159.5,92.0 160.0,91.9 160.5,92.0 160.9,91.9 161.4,92.2 161.8,92.0 162.2,92.0 162.6,91.5 163.0,92.3 163.4,91.7 163.7,91.9 164.0,92.2" fill="none" stroke="#05694e" stroke-width="1.35" stroke-linejoin="round" stroke-linecap="round"/>
<polyline points="28.4,73.6 28.8,72.9 29.2,72.8 29.7,73.7 30.3,73.0 31.0,73.0 31.6,73.6 32.4,73.3 33.1,73.9 33.9,73.3 34.6,74.0 35.4,73.5 36.1,73.7 36.8,74.0 37.4,73.7 38.0,73.8 38.5,73.5 39.0,72.8 39.6,73.2 40.1,72.5 40.5,71.7 40.8,71.0 41.1,70.9 41.4,70.0 41.6,69.7 41.8,69.0 42.0,68.7 42.2,67.9 42.5,67.8 43.0,67.5 43.5,67.4 43.9,68.5 44.4,68.6 45.0,69.8 45.3,70.3 45.6,70.4 45.8,70.4 46.1,71.4 46.4,71.8 46.8,71.9 47.1,72.3 47.5,73.3 47.9,73.4 48.3,74.8 48.7,74.9 49.2,75.5 49.6,75.8 50.0,76.5 50.4,77.1 50.8,77.0 51.2,77.6 51.7,78.2 52.1,78.4 52.6,79.2 53.1,79.6 53.6,80.0 54.1,80.7 54.6,81.0 55.1,81.0 55.6,82.2 56.1,82.1 56.5,82.5 57.0,82.8 57.5,83.7 58.1,84.1 58.6,84.0 59.1,84.2 59.6,84.2 60.0,85.2 60.5,84.8 61.1,85.4 61.6,85.5 62.2,85.7 62.8,85.9 63.5,86.0 64.2,86.1 65.0,86.7 65.5,87.1 66.0,87.1 66.5,86.8 67.0,87.3 67.6,86.9 68.1,87.3 68.7,87.8 69.3,87.9 69.9,87.6 70.5,88.1 71.1,87.8 71.7,87.9 72.4,88.1 73.0,88.5 73.7,88.4 74.3,88.2 75.0,88.5 75.6,88.5 76.2,88.4 76.9,88.8 77.5,88.9 78.2,88.8 78.8,89.2 79.4,88.4 80.0,88.9 80.6,89.1 81.1,88.9 81.7,88.8 82.2,89.3 82.7,89.1 83.2,89.0 83.6,88.9 84.1,89.8 84.6,89.3 85.0,89.1 85.5,89.2 86.0,89.3 86.5,89.9 87.0,89.3 87.6,89.4 88.1,89.3 88.7,89.7 89.3,89.5 90.0,89.6 90.7,90.0 91.5,90.2 92.3,90.2 93.1,89.5 94.0,89.9 95.0,90.3 95.4,89.6 95.9,89.8 96.3,90.0 96.8,90.0 97.3,90.3 97.8,90.3 98.3,90.1 98.8,89.9 99.3,89.9 99.9,89.9 100.4,89.8 101.0,90.3 101.5,89.9 102.1,90.6 102.7,90.4 103.2,89.8 103.8,90.3 104.4,90.4 105.0,89.9 105.6,90.3 106.2,89.9 106.9,90.6 107.5,89.9 108.1,90.5 108.7,90.8 109.4,90.7 110.0,90.1 110.7,90.4 111.3,90.1 112.0,90.3 112.6,90.8 113.3,90.7 113.9,90.0 114.6,90.4 115.2,90.6 115.9,90.2 116.6,90.8 117.2,90.9 117.9,90.6 118.5,90.4 119.2,90.9 119.9,90.6 120.5,90.3 121.2,90.4 121.8,90.3 122.5,90.9 123.1,90.7 123.8,90.8 124.4,91.0 125.1,91.1 125.7,90.4 126.3,90.6 127.0,91.1 127.6,91.0 128.2,90.7 128.8,90.9 129.4,90.5 130.0,90.5 130.6,90.4 131.3,90.7 131.9,90.6 132.5,90.9 133.2,91.3 133.9,90.6 134.5,91.0 135.2,91.3 135.9,91.0 136.6,91.0 137.3,91.2 138.0,90.6 138.7,91.4 139.4,91.2 140.1,91.3 140.8,91.4 141.5,90.7 142.2,90.7 142.9,90.8 143.6,91.2 144.3,91.6 145.0,91.6 145.7,91.1 146.4,91.3 147.1,91.5 147.8,91.1 148.5,91.7 149.2,91.7 149.9,91.5 150.5,91.7 151.2,91.6 151.9,91.5 152.5,91.2 153.2,91.2 153.8,91.2 154.4,91.0 155.0,91.8 155.6,91.3 156.2,91.1 156.8,91.3 157.4,91.2 157.9,91.5 158.5,91.4 159.0,91.3 159.5,91.6 160.0,91.5 160.5,91.5 160.9,91.9 161.4,91.5 161.8,91.7 162.2,92.0 162.6,92.1 163.0,91.6 163.4,91.3 163.7,92.1 164.0,91.7" fill="none" stroke="#fd8d00" stroke-width="1.35" stroke-linejoin="round" stroke-linecap="round"/>
<polyline points="26.9,70.0 27.2,70.1 27.7,70.0 28.2,69.4 28.7,69.8 29.4,69.7 30.0,69.8 30.7,69.5 31.5,69.5 32.2,69.7 33.0,69.6 33.7,69.8 34.4,69.4 35.2,69.5 35.8,70.0 36.5,69.7 37.1,69.8 37.6,69.9 38.1,69.6 38.5,69.3 39.7,69.7 40.1,69.3 40.2,69.0 40.5,68.4 40.8,68.2 41.1,67.1 41.4,66.7 41.7,65.7 42.0,65.2 42.3,64.8 42.6,64.3 43.0,64.0 43.5,64.5 43.9,65.1 44.4,65.7 45.0,66.5 45.2,67.0 45.5,67.1 45.7,67.6 46.0,68.2 46.2,69.2 46.5,69.3 46.8,69.8 47.1,70.4 47.4,71.0 47.7,71.8 48.0,72.6 48.4,73.4 48.8,73.6 49.2,74.1 49.6,74.4 50.0,74.9 50.5,75.7 50.9,75.9 51.4,76.0 51.9,76.3 52.4,77.2 52.9,77.5 53.5,78.0 54.0,77.8 54.5,78.4 55.0,79.1 55.6,79.1 56.1,79.7 56.5,79.4 57.0,80.4 57.6,80.0 58.2,80.7 58.8,80.7 59.3,81.7 59.9,81.9 60.4,82.5 61.0,82.7 61.5,83.1 62.1,83.0 62.6,83.7 63.2,83.7 63.7,83.7 64.3,84.5 64.8,84.2 65.3,84.3 65.9,84.5 66.4,85.0 66.9,85.0 67.5,85.8 68.0,86.0 68.6,85.6 69.3,85.7 70.0,86.2 70.5,86.1 71.0,86.5 71.6,86.8 72.1,86.5 72.7,86.7 73.3,87.2 73.8,86.9 74.5,86.9 75.1,87.5 75.7,87.5 76.4,87.7 77.1,87.6 77.8,87.4 78.5,87.7 79.2,87.9 80.0,87.8 80.5,87.5 81.0,87.6 81.4,87.7 81.9,88.0 82.4,87.9 82.8,87.9 83.3,88.2 83.7,87.6 84.2,88.0 84.7,87.8 85.2,88.0 85.7,88.2 86.2,87.8 86.7,88.4 87.3,87.7 87.9,88.1 88.5,88.1 89.2,87.8 89.9,88.1 90.6,88.1 91.4,88.1 92.2,88.3 93.1,87.7 94.0,88.1 95.0,88.4 95.4,87.9 95.9,88.5 96.3,88.0 96.8,88.4 97.3,88.0 97.8,88.2 98.3,88.2 98.8,88.0 99.3,88.5 99.9,88.3 100.4,88.5 101.0,88.4 101.5,88.4 102.1,88.4 102.7,88.3 103.2,88.8 103.8,88.1 104.4,88.8 105.0,88.8 105.6,88.5 106.2,88.8 106.9,88.7 107.5,88.7 108.1,88.4 108.7,88.5 109.4,88.5 110.0,88.5 110.7,89.0 111.3,88.6 112.0,88.6 112.6,88.7 113.3,89.0 113.9,88.8 114.6,88.8 115.2,88.6 115.9,88.7 116.6,88.5 117.2,88.6 117.9,88.7 118.5,89.2 119.2,88.9 119.9,88.6 120.5,88.9 121.2,88.7 121.8,89.0 122.5,89.0 123.1,89.3 123.8,88.9 124.4,89.3 125.1,88.9 125.7,89.5 126.3,89.2 127.0,88.8 127.6,89.4 128.2,89.0 128.8,89.1 129.4,88.9 130.0,89.5 130.6,88.9 131.3,89.4 131.9,89.2 132.5,89.4 133.2,89.1 133.9,88.9 134.5,89.6 135.2,89.4 135.9,89.1 136.6,89.7 137.3,89.7 138.0,89.1 138.7,89.0 139.4,89.5 140.1,89.1 140.8,89.6 141.5,89.4 142.2,89.6 142.9,89.5 143.6,89.7 144.3,89.7 145.0,89.6 145.7,89.6 146.4,89.4 147.1,89.2 147.8,89.2 148.5,89.8 149.2,89.3 149.9,89.5 150.5,89.4 151.2,89.7 151.9,89.6 152.5,89.9 153.2,89.6 153.8,89.5 154.4,89.8 155.0,89.9 155.6,90.0 156.2,89.5 156.8,90.0 157.4,90.1 157.9,90.1 158.5,89.4 159.0,89.6 159.5,89.9 160.0,90.0 160.5,89.4 160.9,89.7 161.4,89.9 161.8,90.0 162.2,89.8 162.6,89.5 163.0,89.7 163.4,89.4 163.7,89.6 164.0,89.7" fill="none" stroke="#56236c" stroke-width="1.35" stroke-linejoin="round" stroke-linecap="round"/>
<polyline points="29.5,74.9 29.9,75.2 30.4,73.9 31.1,75.5 31.8,73.9 32.6,74.8 33.4,73.8 34.1,75.1 34.8,74.0 35.5,75.1 36.0,75.2 36.8,75.7 37.4,75.6 37.9,77.0 38.3,77.6 38.6,76.1 38.9,76.8 39.0,77.4 39.1,76.3 39.2,73.9 39.2,73.3 39.2,74.1 39.3,71.9 39.3,72.7 39.3,72.3 39.3,70.4 39.3,70.1 39.3,69.4 39.3,69.1 39.4,68.1 39.4,68.4 39.4,67.7 39.4,65.8 39.4,66.2 39.4,63.9 39.4,63.2 39.4,63.6 39.5,63.1 39.5,62.5 39.5,62.1 39.5,61.2 39.5,59.5 39.5,59.8 39.5,59.6 39.6,57.6 39.6,57.9 39.6,56.9 39.6,56.5 39.9,55.2 40.1,57.5 40.1,58.5 40.1,57.3 40.1,58.5 40.2,60.0 40.2,60.2 40.2,60.4 40.2,60.6 40.2,62.1 40.2,62.1 40.2,63.6 40.2,64.5 40.2,64.8 40.2,66.3 40.2,66.4 40.2,67.3 40.3,68.7 40.3,68.3 40.3,68.8 40.3,70.2 40.3,70.4 40.4,71.8 40.4,71.0 40.5,71.5 40.5,71.2 40.6,72.1 40.8,71.6 41.0,71.4 41.2,71.2 41.4,68.9 41.6,69.7 41.8,68.2 42.0,67.6 42.3,66.4 42.5,66.1 42.9,65.7 43.4,66.0 43.9,66.2 44.4,67.1 45.0,67.9 45.3,68.4 45.6,69.9 46.0,70.2 46.3,70.4 46.7,69.8 47.1,70.8 47.5,72.0 47.9,72.8 48.3,72.8 48.8,73.8 49.2,74.8 49.6,74.0 50.1,74.6 50.5,75.7 51.0,75.3 51.5,76.4 51.9,76.2 52.4,75.8 52.9,77.0 53.4,76.7 54.0,78.4 54.5,78.8 55.0,78.6 55.5,79.6 56.0,78.6 56.6,79.4 57.1,79.2 57.6,79.3 58.2,81.1 58.7,79.9 59.3,81.9 59.9,81.4 60.5,81.9 61.1,80.9 61.7,82.8 62.2,82.7 62.8,81.6 63.3,81.8 63.9,81.9 64.5,82.7 65.1,82.0 65.6,83.4 66.2,82.9 66.8,83.4 67.5,82.6 68.1,83.4 68.7,83.1 69.4,83.5 70.0,83.1 70.6,84.3 71.1,84.0 71.7,84.1 72.3,83.2 72.8,82.9 73.4,82.8 74.0,82.8 74.6,84.4 75.2,83.1 75.8,84.3 76.4,83.1 77.1,83.8 77.8,83.1 78.5,83.3 79.2,84.1 80.0,83.9 80.5,84.6 81.0,83.2 81.4,83.3 81.9,83.0 82.4,83.3 82.8,84.8 83.3,84.0 83.7,83.9 84.2,83.6 84.7,84.5 85.2,84.3 85.7,83.4 86.2,83.2 86.7,83.5 87.3,84.7 87.9,84.6 88.5,83.7 89.2,83.7 89.9,83.9 90.6,84.6 91.4,84.8 92.2,83.9 93.1,84.1 94.0,84.0 95.0,85.3 95.4,84.6 95.9,85.4 96.3,84.1 96.8,84.8 97.3,84.7 97.8,85.4 98.3,84.4 98.8,84.2 99.3,85.3 99.9,85.6 100.4,84.8 101.0,84.5 101.5,84.0 102.1,84.7 102.7,85.7 103.2,84.6 103.8,84.8 104.4,85.1 105.0,84.5 105.6,84.2 106.2,85.0 106.9,85.9 107.5,85.8 108.1,84.7 108.7,85.7 109.4,85.8 110.0,85.3 110.7,84.9 111.3,84.7 112.0,85.7 112.6,85.6 113.3,84.8 113.9,84.7 114.6,84.6 115.2,86.0 115.9,86.2 116.6,85.5 117.2,85.7 117.9,85.9 118.5,84.9 119.2,85.6 119.9,85.5 120.5,86.3 121.2,85.0 121.8,86.3 122.5,85.0 123.1,85.9 123.8,86.5 124.4,85.0 125.1,85.8 125.7,84.9 126.3,85.9 127.0,85.9 127.6,86.8 128.2,85.9 128.8,86.7 129.4,86.4 130.0,86.6 130.6,85.7 131.3,85.3 131.9,86.3 132.5,85.4 133.2,86.4 133.9,85.5 134.5,86.4 135.2,86.7 135.9,87.1 136.6,85.7 137.3,85.6 138.0,86.1 138.7,87.2 139.4,85.8 140.1,86.3 140.8,86.1 141.5,85.5 142.2,86.5 142.9,86.0 143.6,86.4 144.3,86.9 145.0,86.8 145.7,86.0 146.4,86.8 147.1,86.6 147.8,87.1 148.5,85.6 149.2,86.2 149.9,86.9 150.5,86.7 151.2,86.7 151.9,86.7 152.5,86.9 153.2,87.2 153.8,87.4 154.4,87.3 155.0,87.5 155.6,86.9 156.2,86.2 156.8,86.6 157.4,87.5 157.9,87.3 158.5,87.1 159.0,86.2 159.5,86.2 160.0,87.2 160.5,86.8 160.9,86.3 161.4,87.8 161.8,86.4 162.2,87.8 162.6,87.2 163.0,87.8 163.4,87.5 163.7,86.4 164.0,86.5" fill="none" stroke="#185488" stroke-width="1.35" stroke-linejoin="round" stroke-linecap="round"/>
<polyline points="26.9,70.9 27.2,71.2 27.7,71.2 28.2,70.9 28.7,71.2 29.3,71.1 30.0,70.8 30.6,71.3 31.4,71.0 32.1,71.0 32.8,71.1 33.6,71.2 34.3,71.0 35.0,71.3 35.7,71.3 36.4,71.2 37.0,71.3 37.6,71.2 38.1,71.3 38.6,70.9 39.0,70.9 40.0,70.7 40.5,70.0 40.6,69.9 40.7,69.1 41.0,68.3 41.4,68.1 41.7,67.4 42.1,66.6 42.5,66.0 43.0,65.7 43.4,65.2 44.0,65.4 44.3,65.5 44.7,65.5 45.1,66.1 45.4,66.0 45.8,66.5 46.3,67.2 46.7,67.4 47.1,68.0 47.6,68.6 48.1,69.1 48.6,69.8 49.2,70.4 49.5,70.8 49.9,70.9 50.2,71.7 50.6,71.9 50.9,72.2 51.3,72.9 51.7,73.6 52.1,74.0 52.5,74.4 52.9,74.9 53.3,75.3 53.7,76.0 54.1,76.4 54.5,76.8 54.9,77.3 55.4,77.8 55.8,78.6 56.2,79.2 56.6,79.6 56.9,79.8 57.3,80.2 57.7,81.0 58.1,81.2 58.6,81.6 59.0,82.3 59.5,82.8 59.9,83.2 60.3,83.5 60.8,83.9 61.2,84.4 61.6,84.8 62.0,85.3 62.4,85.6 62.9,86.0 63.3,86.7 63.7,86.6 64.1,87.4 64.6,87.6 65.0,88.2 65.4,88.6 65.8,89.0 66.2,89.4 66.7,89.7 67.1,90.0 67.5,90.8 67.9,91.0 68.4,91.3 68.8,92.1 69.2,92.5 69.6,92.6 70.0,93.3 70.5,93.5 70.9,94.3 71.3,94.4 71.7,95.2 72.1,95.4 72.6,95.6 73.0,96.2 73.5,96.9 73.9,97.1 74.3,97.3 74.8,97.8 75.2,98.2 75.7,98.5 76.1,99.1 76.6,99.6 77.0,99.8 77.5,100.3 77.9,100.9 78.4,101.3 78.9,101.3 79.3,101.6 79.8,102.4 80.3,102.5 80.8,102.8 81.3,103.5 81.8,103.6 82.2,104.2 82.7,104.5 83.2,104.7 83.7,105.1 84.2,105.4 84.7,106.0 85.2,106.1 85.7,106.4 86.2,107.1 86.8,107.1 87.3,107.5 87.8,107.9 88.4,108.0 88.9,108.4 89.4,109.0 90.0,109.4 90.5,109.4 91.0,109.8 91.5,109.8 92.1,110.3 92.6,110.6 93.1,110.9 93.7,111.1 94.2,111.4 94.8,112.0 95.3,112.2 95.9,112.2 96.4,112.4 97.0,112.6 97.5,112.9 98.1,113.2 98.6,113.7 99.2,113.9 99.7,113.9 100.3,114.6 100.8,114.7 101.4,115.0 102.0,115.3 102.5,115.3 103.0,115.8 103.6,116.0 104.1,116.2 104.6,116.0 105.1,116.6 105.7,116.9 106.2,116.7 106.8,117.3 107.4,117.5 108.0,117.3 108.6,117.8 109.3,118.0 110.0,118.2 110.7,118.1 111.5,118.7 112.0,118.4 112.5,118.5 113.0,119.1 113.5,119.0 114.1,118.9 114.6,119.1 115.2,119.4 115.8,119.3 116.4,119.7 117.0,119.7 117.6,119.7 118.3,119.8 118.9,119.8 119.5,120.3 120.2,120.1 120.8,120.5 121.4,120.4 122.1,120.5 122.7,120.5 123.4,120.7 124.0,120.6 124.7,120.9 125.3,121.1 125.9,121.3 126.5,121.1 127.1,121.2 127.7,121.6 128.3,121.3 128.9,121.5 129.5,121.7 130.0,121.8 130.7,122.2 131.3,121.8 131.9,122.3 132.6,122.2 133.2,122.2 133.8,122.3 134.3,122.8 134.9,122.5 135.5,122.7 136.1,122.6 136.6,122.9 137.2,123.1 137.8,123.3 138.3,123.2 138.9,123.3 139.5,123.6 140.0,123.7 140.6,123.6 141.2,123.5 141.8,124.0 142.4,123.8 143.0,123.9 143.7,123.8 144.3,123.9 145.0,124.0 145.6,124.3 146.1,124.2 146.8,124.6 147.4,124.3 148.0,124.6 148.7,124.4 149.4,124.6 150.1,125.0 150.8,124.7 151.5,124.8 152.2,124.7 152.9,125.2 153.7,125.1 154.4,125.0 155.1,125.2 155.8,125.2 156.5,125.5 157.2,125.4 157.8,125.2 158.5,125.4 159.1,125.4 159.8,125.8 160.3,125.5 160.9,125.7 161.5,125.8 162.0,125.6 162.4,125.9 162.9,126.0 163.3,126.2 163.7,126.2 164.0,126.2" fill="none" stroke="#38b04c" stroke-width="1.35" stroke-linejoin="round" stroke-linecap="round"/>
<polyline points="28.4,72.7 28.8,72.5 29.2,72.5 29.7,72.7 30.3,72.4 31.0,72.8 31.6,72.9 32.4,72.5 33.1,72.9 33.9,72.8 34.6,72.9 35.4,73.1 36.1,73.1 36.8,72.8 37.4,73.0 38.0,72.9 38.5,72.9 39.0,72.4 39.9,72.5 40.5,71.6 41.0,71.0 41.4,70.6 41.8,70.2 42.1,69.9 42.5,69.3 43.0,69.6 43.5,69.4 43.9,70.2 44.4,70.5 45.0,71.2 45.4,71.4 45.7,71.8 46.1,72.3 46.6,73.1 47.0,73.7 47.5,74.3 47.9,74.9 48.4,75.2 48.8,75.9 49.2,76.1 49.7,76.8 50.2,76.9 50.6,77.5 51.1,77.5 51.5,77.8 52.0,78.2 52.5,78.4 53.0,79.0 53.3,79.6 53.6,80.1 53.8,80.1 54.1,80.7 54.4,81.2 54.7,81.9 55.0,82.5 55.3,82.5 55.6,83.3 55.9,83.6 56.2,84.5 56.6,85.2 56.9,85.7 57.3,86.3 57.7,86.7 58.0,87.1 58.2,87.6 58.5,88.0 58.8,88.6 59.1,89.5 59.4,89.7 59.7,90.5 60.0,91.0 60.4,91.5 60.7,92.1 61.0,92.6 61.4,93.0 61.7,93.6 62.0,94.1 62.4,94.5 62.7,95.0 63.1,95.8 63.4,96.4 63.8,97.1 64.1,97.4 64.4,98.0 64.8,98.3 65.1,98.8 65.4,99.4 65.8,99.5 66.2,100.0 66.7,100.7 67.1,101.1 67.5,101.7 67.9,101.9 68.4,102.4 68.8,102.8 69.2,103.5 69.6,103.6 70.0,104.0 70.5,104.7 70.9,105.0 71.3,105.1 71.7,106.0 72.1,106.1 72.6,106.7 73.0,107.0 73.5,107.4 74.0,107.7 74.4,108.0 74.9,108.8 75.4,108.9 75.8,109.3 76.3,109.6 76.8,110.2 77.3,110.8 77.8,110.9 78.3,111.4 78.7,111.7 79.2,112.0 79.8,112.5 80.3,112.9 80.8,113.3 81.3,113.2 81.8,113.6 82.3,114.0 82.8,114.2 83.4,114.7 83.9,115.1 84.4,115.3 84.9,115.7 85.5,115.8 86.0,116.6 86.6,116.8 87.1,116.8 87.7,117.2 88.3,117.7 88.8,117.7 89.4,118.3 90.0,118.3 90.5,118.8 91.1,119.1 91.6,119.3 92.2,119.7 92.7,120.0 93.3,120.3 93.9,120.1 94.4,120.5 95.0,120.6 95.6,121.1 96.2,121.1 96.8,121.3 97.3,121.5 97.9,121.7 98.5,122.0 99.1,122.2 99.7,122.6 100.2,123.0 100.8,123.1 101.4,123.1 102.0,123.3 102.6,123.8 103.2,123.7 103.8,124.1 104.5,124.4 105.1,124.4 105.7,124.5 106.3,124.5 106.9,124.8 107.5,125.3 108.1,125.0 108.7,125.2 109.3,125.6 109.8,125.6 110.4,125.9 111.0,125.9 111.5,126.1 112.2,126.3 112.8,126.7 113.4,126.9 114.0,126.7 114.6,127.3 115.2,127.5 115.8,127.5 116.4,127.5 116.9,127.6 117.5,128.3 118.1,128.0 118.7,128.2 119.4,128.4 120.0,129.0 120.6,129.2 121.1,129.3 121.7,129.5 122.3,129.6 122.9,129.4 123.6,129.7 124.2,130.0 124.8,130.2 125.4,130.5 126.1,130.6 126.7,130.5 127.3,130.8 127.9,131.2 128.4,131.2 129.0,131.1 129.5,131.3 130.0,131.7 130.7,131.5 131.3,131.6 131.8,132.1 132.3,132.1 132.8,132.0 133.3,132.1 133.8,132.1 134.3,132.4 134.9,132.3 135.7,132.6 136.5,132.9 137.0,132.9 137.5,132.8 138.0,132.8 138.5,133.0 139.1,132.9 139.7,133.4 140.3,133.3 140.9,133.4 141.5,133.5 142.1,133.8 142.8,133.8 143.4,133.9 144.1,133.9 144.8,133.9 145.4,134.0 146.1,134.2 146.8,134.6 147.4,134.6 148.1,134.5 148.7,134.6 149.4,134.8 150.0,135.1 150.6,135.0 151.2,135.2 151.9,135.1 152.6,135.6 153.3,135.6 154.0,135.6 154.7,136.0 155.4,135.9 156.1,135.9 156.8,136.2 157.5,136.5 158.2,136.4 158.9,136.7 159.5,136.6 160.1,136.6 160.8,136.8 161.3,136.6 161.9,137.2 162.4,137.0 162.9,136.9 163.3,137.1 163.7,137.3 164.0,137.5" fill="none" stroke="#c4122f" stroke-width="1.35" stroke-linejoin="round" stroke-linecap="round"/>
<line x1="39.75" y1="57" x2="39.75" y2="73.5" stroke="#185488" stroke-width="1.7"/>
<line x1="40.2" y1="104.5" x2="40.2" y2="81.3" stroke="#555" stroke-width="0.9"/>
<polygon points="40.2,78.2 42.7,81.8 37.7,81.8" fill="#1a1a1a"/>
<line x1="65.4" y1="125.4" x2="77.88" y2="114.35" stroke="#555" stroke-width="0.9"/>
<polygon points="80.2,112.3 79.16,116.56 75.85,112.81" fill="#1a1a1a"/>
<line x1="61.4" y1="140.8" x2="66.41" y2="155.66" stroke="#555" stroke-width="0.9"/>
<polygon points="67.4,158.6 63.88,155.99 68.62,154.39" fill="#1a1a1a"/>
</g>
<g clip-path="url(#cB)">
<line x1="27.5" y1="296.6" x2="27.5" y2="422.4" stroke="#56236c" stroke-width="1.3"/>
<line x1="28.9" y1="298.9" x2="28.9" y2="420.5" stroke="#38b04c" stroke-width="1.1"/>
<polyline points="29.1,422.1 29.5,422.1 30.0,422.3 30.6,422.4 31.3,422.0 32.0,421.9 32.7,422.0 33.5,422.3 34.3,421.9 35.0,422.3 35.7,422.2 36.4,421.9 36.9,422.3 37.3,422.4 37.8,422.8 38.1,423.8 38.2,424.0 38.3,424.7 38.2,426.1 38.2,426.2 38.3,426.3 38.4,426.2 38.6,425.7 38.7,425.3 38.8,424.0 39.0,423.3 39.2,423.1 39.6,422.7 40.2,423.0 41.4,422.9 41.9,422.6 42.4,422.4 43.0,422.8 43.7,422.9 44.4,422.2 45.1,422.6 45.9,422.6 46.6,422.4 47.3,422.1 47.9,422.4 48.5,422.3 49.0,421.8 49.9,421.9 50.5,421.3 51.0,420.9 51.5,420.7 52.2,420.3 52.7,420.0 53.1,419.9 53.7,419.7 54.2,419.4 54.7,419.1 55.3,418.7 55.8,418.2 56.3,417.5 56.8,417.1 57.4,417.0 57.9,416.5 58.4,416.2 58.9,415.4 59.4,415.1 60.0,415.2 60.5,414.6 61.1,414.3 61.6,413.5 62.2,413.3 62.8,413.3 63.4,412.8 64.0,412.7 64.5,411.8 65.1,411.6 65.7,411.6 66.2,411.0 66.8,411.0 67.4,410.6 68.0,410.0 68.6,409.8 69.1,410.2 69.7,409.4 70.4,409.3 71.1,409.3 72.0,409.4 72.5,409.5 73.0,409.3 73.6,409.3 74.2,409.5 74.8,409.2 75.5,409.3 76.1,409.5 76.8,409.5 77.4,409.1 78.1,409.2 78.8,409.3 79.4,409.7 80.0,409.7 80.6,410.0 81.2,409.8 81.7,409.5 82.1,409.9 82.6,410.1 83.1,409.7 83.6,409.5 84.2,409.8 84.9,409.7 85.6,409.7 86.5,409.6 87.5,409.7 87.9,410.3 88.4,409.7 88.9,410.1 89.4,409.8 89.9,409.8 90.4,410.3 90.9,409.9 91.5,409.9 92.1,410.1 92.6,410.2 93.2,410.1 93.8,410.4 94.5,410.0 95.1,410.1 95.7,410.3 96.4,410.1 97.0,410.3 97.7,410.1 98.3,409.9 99.0,409.9 99.7,410.4 100.4,410.4 101.1,410.5 101.8,410.4 102.5,410.3 103.2,410.1 103.9,410.6 104.6,410.1 105.3,410.3 106.0,410.1 106.5,410.3 107.1,410.3 107.6,410.4 108.1,410.7 108.7,410.6 109.2,410.4 109.7,410.8 110.3,410.8 110.8,410.9 111.4,410.4 111.9,410.8 112.5,411.0 113.0,410.6 113.6,410.6 114.2,411.1 114.7,410.8 115.3,410.9 115.9,411.2 116.4,410.9 117.0,410.8 117.6,410.9 118.2,411.0 118.8,411.3 119.4,411.1 120.0,411.4 120.6,411.0 121.3,411.2 121.9,411.5 122.5,411.4 123.2,411.5 123.8,411.8 124.5,411.4 125.1,411.4 125.8,411.3 126.5,411.7 127.2,411.6 127.9,411.8 128.6,411.5 129.3,411.6 130.0,411.9 130.5,412.2 131.1,411.9 131.6,412.4 132.2,412.2 132.8,412.2 133.4,412.5 134.0,412.1 134.6,412.5 135.3,412.7 135.9,412.5 136.6,412.4 137.2,412.3 137.9,412.7 138.6,412.5 139.3,412.7 140.0,412.9 140.7,413.2 141.4,413.1 142.1,413.0 142.8,413.3 143.5,413.0 144.2,413.1 144.9,413.4 145.7,413.4 146.4,413.2 147.1,413.4 147.8,413.8 148.5,413.4 149.2,413.8 149.9,413.4 150.6,414.1 151.3,414.0 152.0,413.8 152.6,414.3 153.3,414.2 154.0,413.8 154.6,414.0 155.2,414.2 155.9,414.6 156.5,414.1 157.1,414.1 157.7,414.3 158.2,414.2 158.8,414.5 159.3,414.6 159.8,414.6 160.4,414.4 160.8,414.4 161.3,415.0 161.8,414.8 162.2,414.8 162.6,414.9 163.0,415.0 163.3,415.2 163.7,415.2 164.0,415.2" fill="none" stroke="#56236c" stroke-width="1.35" stroke-linejoin="round" stroke-linecap="round"/>
<polyline points="29.1,416.0 29.5,416.1 30.0,416.1 30.6,416.7 31.3,416.1 32.0,416.2 32.7,415.4 33.5,415.7 34.3,416.1 35.0,415.7 35.7,416.2 36.4,416.3 36.9,416.0 37.3,415.9 37.5,417.2 37.7,416.9 37.9,417.3 38.0,418.8 38.1,419.7 38.1,420.5 38.2,421.4 38.2,421.3 38.2,422.0 38.2,422.9 38.2,424.7 38.2,424.5 38.2,425.2 38.2,425.7 38.2,426.3 38.2,426.8 38.2,427.5 38.3,427.5 38.3,427.8 38.4,428.4 38.4,427.3 38.5,427.7 38.5,427.2 38.6,426.4 38.6,425.7 38.7,425.2 38.7,424.2 38.8,422.9 38.8,422.2 38.9,421.2 39.0,420.6 39.0,420.5 39.1,419.1 39.2,418.0 39.2,417.9 39.3,417.8 39.4,416.9 39.8,416.3 40.3,415.9 41.4,416.0 41.8,416.6 42.3,415.8 42.9,416.0 43.5,416.0 44.2,415.7 44.8,415.3 45.5,415.2 46.2,416.2 47.0,415.7 47.7,415.9 48.3,415.2 49.0,415.5 49.6,415.3 50.2,414.8 50.8,414.4 51.4,414.2 52.0,413.6 52.6,413.5 53.2,413.7 53.8,412.8 54.4,413.3 55.0,412.7 55.6,412.6 56.2,412.6 56.8,412.2 57.4,411.4 58.0,411.3 58.6,410.8 59.2,410.6 59.8,411.5 60.4,410.9 61.0,411.2 61.6,410.8 62.1,410.0 62.7,410.6 63.3,410.4 63.9,409.7 64.5,409.1 65.1,409.2 65.7,408.9 66.2,409.0 66.7,408.5 67.2,409.1 67.8,409.3 68.3,408.2 68.9,408.8 69.6,408.5 70.3,408.3 71.1,408.7 72.0,408.1 72.5,408.6 73.0,407.6 73.5,408.7 74.0,407.8 74.5,407.6 75.1,408.6 75.7,408.5 76.3,408.4 76.9,408.6 77.5,408.1 78.1,407.8 78.7,408.1 79.4,408.9 80.0,409.0 80.7,408.1 81.4,408.4 82.0,408.4 82.7,409.0 83.4,408.0 84.1,409.0 84.8,408.4 85.4,408.7 86.1,408.3 86.8,408.3 87.5,409.3 88.1,408.8 88.6,409.4 89.2,409.3 89.8,409.2 90.3,408.5 90.9,409.1 91.5,409.6 92.1,409.1 92.7,408.6 93.2,408.8 93.8,409.8 94.4,409.8 95.0,409.0 95.6,409.1 96.2,409.6 96.8,409.4 97.4,409.1 98.1,410.1 98.7,409.7 99.3,409.4 100.0,409.1 100.6,409.7 101.2,410.0 101.9,409.4 102.6,409.3 103.2,410.1 103.9,410.4 104.6,409.8 105.3,409.9 106.0,410.2 106.5,410.1 107.1,409.6 107.6,409.8 108.1,409.7 108.7,409.8 109.2,409.7 109.7,410.0 110.3,409.9 110.8,410.6 111.4,410.0 111.9,410.8 112.5,410.6 113.0,410.0 113.6,409.9 114.2,410.4 114.7,410.3 115.3,410.4 115.9,409.9 116.4,410.4 117.0,410.7 117.6,410.4 118.2,410.2 118.8,411.0 119.4,410.3 120.0,411.1 120.6,410.8 121.3,410.0 121.9,410.5 122.5,410.2 123.2,411.0 123.8,410.6 124.5,410.2 125.1,411.3 125.8,411.1 126.5,410.9 127.2,410.9 127.9,410.4 128.6,411.5 129.3,410.7 130.0,411.0 130.5,411.0 131.1,411.0 131.6,410.5 132.2,411.6 132.8,411.2 133.4,411.1 134.0,411.7 134.6,411.7 135.3,411.6 135.9,411.9 136.6,411.3 137.2,411.0 137.9,411.3 138.6,411.7 139.3,412.0 140.0,412.0 140.7,411.9 141.4,411.9 142.1,412.0 142.8,412.0 143.5,411.4 144.2,412.0 144.9,411.8 145.7,411.6 146.4,412.3 147.1,412.6 147.8,412.0 148.5,412.5 149.2,412.5 149.9,412.6 150.6,412.9 151.3,412.8 152.0,412.1 152.6,412.8 153.3,412.5 154.0,412.6 154.6,413.0 155.2,412.4 155.9,413.0 156.5,413.5 157.1,412.5 157.7,413.4 158.2,413.3 158.8,413.0 159.3,413.5 159.8,412.7 160.4,412.8 160.8,413.9 161.3,413.4 161.8,412.9 162.2,412.9 162.6,413.3 163.0,413.5 163.3,414.0 163.7,413.1 164.0,413.7" fill="none" stroke="#185488" stroke-width="1.35" stroke-linejoin="round" stroke-linecap="round"/>
<polyline points="29.1,415.5 29.5,415.5 30.0,415.7 30.6,415.7 31.3,415.7 32.1,415.4 32.9,415.7 33.6,415.4 34.4,415.3 35.2,415.1 35.9,415.4 36.5,415.2 37.1,415.3 37.5,415.6 38.4,416.6 38.3,417.2 38.5,416.5 38.6,415.9 38.8,415.3 39.0,414.7 39.2,414.0 39.3,413.5 39.5,413.1 39.6,412.5 39.8,412.0 40.0,411.2 40.2,410.7 40.3,410.0 40.5,409.5 40.8,408.8 41.0,408.0 41.1,407.5 41.3,407.0 41.4,406.4 41.6,406.2 41.7,405.5 41.9,405.0 42.1,404.4 42.3,403.5 42.4,402.8 42.6,402.3 42.8,402.0 43.0,401.3 43.1,400.5 43.3,400.1 43.5,399.2 43.7,398.9 43.8,397.8 44.0,397.6 44.2,397.2 44.3,396.3 44.5,395.7 44.7,394.9 44.8,394.4 45.0,393.8 45.2,393.3 45.3,392.5 45.5,392.1 45.7,391.4 45.8,391.1 46.0,390.4 46.2,389.7 46.3,389.6 46.5,388.6 46.7,388.2 46.8,387.8 47.0,387.2 47.2,386.7 47.4,385.8 47.5,385.4 47.7,384.3 47.9,384.1 48.1,383.2 48.3,382.6 48.4,382.2 48.6,381.6 48.8,380.8 49.0,380.2 49.2,379.6 49.3,379.4 49.5,378.6 49.7,377.9 49.8,377.5 50.0,376.7 50.2,376.2 50.5,375.6 50.7,375.2 50.9,374.5 51.1,373.7 51.3,373.2 51.5,372.3 51.7,372.1 51.9,371.7 52.1,370.7 52.3,370.7 52.5,370.3 52.8,369.1 53.1,368.7 53.4,368.3 53.7,367.3 53.9,367.1 54.2,366.9 54.9,366.4 55.6,366.0 56.1,366.3 56.6,366.4 57.3,366.7 58.0,366.9 58.5,367.2 59.0,367.4 59.6,367.6 60.2,367.9 60.8,368.2 61.4,368.6 62.0,369.0 62.5,369.3 63.1,369.4 63.6,369.9 64.1,370.5 64.6,370.5 65.3,371.3 66.0,371.7 66.4,371.8 66.9,371.9 67.4,372.6 67.9,373.0 68.4,373.0 68.9,373.5 69.5,373.9 70.1,374.2 70.6,374.3 71.2,374.7 71.8,375.4 72.4,375.7 73.0,376.1 73.5,376.2 74.0,376.8 74.5,377.1 75.0,377.2 75.5,377.8 76.1,377.7 76.6,378.2 77.2,378.5 77.7,379.1 78.2,379.4 78.8,379.3 79.3,379.9 79.9,379.9 80.4,380.5 81.0,380.8 81.5,380.9 82.1,380.8 82.6,381.2 83.2,381.3 83.7,381.7 84.3,381.6 84.8,381.9 85.4,382.1 85.9,382.7 86.5,382.7 87.1,383.1 87.6,383.3 88.2,383.3 88.8,383.6 89.4,383.6 90.0,383.9 90.5,383.8 91.0,384.1 91.5,384.1 92.0,384.5 92.5,384.9 93.0,385.1 93.5,385.1 94.0,384.9 94.5,385.6 95.1,385.5 95.7,385.8 96.3,385.8 96.9,386.2 97.6,386.2 98.4,386.3 99.1,386.7 100.0,386.8 100.5,387.0 100.9,387.1 101.4,387.6 101.9,387.7 102.4,387.6 102.9,388.0 103.5,387.8 104.0,388.5 104.6,388.3 105.2,388.6 105.8,388.7 106.4,389.2 107.0,389.1 107.6,389.1 108.2,389.7 108.8,389.7 109.5,389.7 110.1,390.2 110.7,390.5 111.4,390.6 112.0,390.8 112.6,390.8 113.3,390.9 113.9,391.0 114.5,391.6 115.2,391.4 115.8,391.7 116.4,392.1 117.0,391.9 117.6,392.6 118.2,392.5 118.8,392.5 119.4,393.0 120.0,393.1 120.6,392.9 121.2,393.3 121.8,393.7 122.5,393.6 123.1,393.8 123.7,394.3 124.3,394.1 124.9,394.3 125.6,394.4 126.2,394.8 126.8,395.0 127.4,395.1 128.1,395.1 128.7,395.3 129.3,395.9 129.9,396.0 130.5,396.3 131.1,396.0 131.7,396.7 132.3,396.7 132.9,396.8 133.4,397.1 134.0,396.8 134.6,397.2 135.1,397.2 135.7,397.2 136.2,397.7 136.7,397.4 137.2,397.9 137.7,397.7 138.2,398.1 138.7,397.7 139.5,398.1 140.3,398.5 141.0,398.2 141.7,398.3 142.3,398.2 142.9,398.2 143.5,398.1 144.1,397.9 144.6,397.9 145.2,398.1 145.8,397.7 146.3,397.9 146.9,397.9 147.4,397.8 148.0,397.7 148.7,397.6 149.3,397.4 150.0,397.2 150.6,396.9 151.2,396.8 151.8,396.9 152.4,396.9 153.1,396.9 153.8,396.5 154.5,396.8 155.2,396.6 155.9,396.5 156.6,396.2 157.4,396.6 158.1,396.5 158.7,396.4 159.4,395.9 160.1,395.8 160.7,396.3 161.3,396.0 161.8,396.1 162.4,395.7 162.8,395.9 163.3,395.5 163.7,395.4 164.0,395.7" fill="none" stroke="#c4122f" stroke-width="1.35" stroke-linejoin="round" stroke-linecap="round"/>
<polyline points="29.1,416.0 29.5,416.1 30.0,416.2 30.6,415.8 31.3,416.1 32.1,416.2 32.9,416.2 33.6,415.7 34.4,416.0 35.2,416.0 35.9,415.9 36.5,416.2 37.1,416.0 37.5,416.0 38.4,417.0 38.3,417.1 38.5,416.6 38.6,416.0 38.8,415.5 39.0,414.4 39.2,413.9 39.3,413.5 39.5,412.8 39.6,412.6 39.8,412.1 40.0,411.4 40.2,410.9 40.3,409.9 40.5,409.2 40.8,409.1 41.0,407.9 41.1,407.4 41.3,407.3 41.4,406.7 41.6,405.8 41.7,405.3 41.9,404.7 42.1,404.1 42.3,403.4 42.4,403.1 42.6,402.3 42.8,401.7 43.0,401.0 43.1,400.3 43.3,399.6 43.5,399.5 43.7,398.8 43.8,398.1 44.0,397.3 44.2,396.7 44.3,396.1 44.5,395.6 44.7,394.9 44.8,394.4 45.0,393.8 45.2,393.2 45.3,392.9 45.5,392.2 45.7,391.6 45.8,391.0 46.0,390.5 46.2,390.1 46.3,389.2 46.5,388.5 46.7,388.1 46.8,387.5 47.0,387.2 47.2,386.2 47.4,386.0 47.5,384.9 47.7,384.6 47.9,383.9 48.1,383.2 48.3,382.9 48.4,382.2 48.6,381.3 48.8,380.9 49.0,380.4 49.2,379.4 49.3,378.9 49.5,378.6 49.7,378.2 49.8,377.5 50.0,377.0 50.2,376.3 50.5,375.5 50.7,375.2 50.9,374.6 51.1,373.7 51.3,372.8 51.5,372.4 51.7,372.1 51.9,371.3 52.1,370.7 52.3,370.3 52.5,370.1 52.8,369.3 53.1,368.4 53.4,368.1 53.7,367.7 53.9,367.4 54.2,367.0 54.9,366.2 55.6,366.4 56.1,366.6 56.6,366.8 57.3,367.1 58.0,367.6 58.4,367.8 58.8,368.4 59.2,368.7 59.7,369.2 60.1,369.4 60.6,369.8 61.1,370.4 61.5,371.1 62.0,371.5 62.4,371.7 62.8,372.2 63.1,373.1 63.5,373.0 63.8,373.9 64.2,374.3 64.6,374.6 65.0,375.3 65.5,375.6 66.0,375.7 66.4,376.6 66.8,376.7 67.3,377.4 67.7,377.7 68.2,377.7 68.7,378.0 69.2,378.4 69.7,379.3 70.3,379.7 70.8,379.7 71.3,380.1 71.9,380.6 72.4,381.3 73.0,381.6 73.5,382.1 74.0,382.5 74.5,382.7 75.0,383.1 75.5,383.0 76.1,383.3 76.6,384.2 77.2,384.4 77.7,384.6 78.2,384.8 78.8,385.3 79.3,385.6 79.9,386.0 80.4,386.3 81.0,386.5 81.5,386.7 82.1,387.1 82.6,387.4 83.2,387.7 83.7,388.2 84.3,388.3 84.8,389.0 85.4,389.1 85.9,389.3 86.5,389.7 87.1,389.7 87.6,389.9 88.2,390.2 88.8,390.6 89.4,390.9 90.0,391.2 90.5,391.4 91.0,392.0 91.4,391.8 91.9,392.3 92.3,392.5 92.8,392.7 93.2,393.2 93.7,393.1 94.2,393.3 94.7,393.6 95.2,394.4 95.7,394.2 96.3,394.4 97.0,395.2 97.6,395.2 98.4,395.7 99.2,395.6 100.0,396.2 100.4,395.9 100.9,396.1 101.4,396.6 101.9,396.6 102.4,396.9 102.9,396.8 103.4,397.3 104.0,396.9 104.5,397.4 105.1,397.3 105.7,397.5 106.3,398.1 106.9,398.0 107.5,398.4 108.1,398.2 108.7,398.6 109.4,398.9 110.0,398.9 110.7,398.8 111.3,399.2 111.9,399.6 112.6,399.7 113.2,399.6 113.9,399.7 114.5,399.7 115.1,400.3 115.8,400.1 116.4,400.3 117.0,400.3 117.6,400.6 118.2,400.8 118.8,401.0 119.4,401.0 120.0,401.3 120.6,401.7 121.2,401.4 121.7,401.6 122.3,402.0 123.0,402.4 123.6,402.5 124.2,402.5 124.8,402.4 125.4,403.0 125.9,403.2 126.5,403.3 127.1,403.3 127.7,403.3 128.2,403.6 128.8,403.9 129.3,404.1 129.9,404.0 130.4,404.1 131.0,404.2 131.5,404.5 132.1,404.6 132.7,404.6 133.2,404.8 133.8,405.3 134.4,405.0 135.0,405.2 135.5,405.3 136.2,405.8 136.8,405.6 137.4,406.1 138.0,406.3 138.7,406.4 139.3,406.5 140.0,406.3 140.5,406.6 141.1,406.9 141.7,406.7 142.3,407.1 142.9,407.4 143.5,407.5 144.2,407.3 144.8,407.3 145.5,407.4 146.2,407.7 146.8,408.0 147.5,408.0 148.2,408.4 148.9,408.5 149.6,408.6 150.3,408.8 151.0,408.7 151.7,409.0 152.4,409.0 153.1,409.1 153.8,409.1 154.5,409.6 155.2,409.8 155.9,409.4 156.5,410.0 157.1,409.7 157.8,410.0 158.4,410.1 159.0,410.6 159.6,410.4 160.1,410.5 160.6,410.6 161.2,410.6 161.6,410.7 162.1,410.7 162.5,410.7 163.0,411.1 163.3,411.3 163.7,411.3 164.0,411.2" fill="none" stroke="#38b04c" stroke-width="1.35" stroke-linejoin="round" stroke-linecap="round"/>
<polyline points="27.5,296.6 27.9,296.7 28.4,296.7 28.9,296.8 29.6,296.5 30.3,296.8 31.0,296.7 31.7,296.8 32.4,296.8 33.1,296.8 33.7,296.5 34.2,296.5 35.1,296.6 35.8,296.3 36.4,296.2 36.9,295.8 37.5,296.0 38.1,295.7 38.6,296.3 39.2,296.4 40.0,296.2 40.5,296.3 41.0,295.9 41.6,295.7 42.3,295.4 43.0,295.0 43.6,294.7 44.2,294.3 44.8,294.4 45.3,293.8 46.0,293.5 46.6,293.2 47.0,293.4 47.5,293.1 48.2,293.2 48.7,293.4 49.2,293.3 49.8,293.5 50.4,293.7 51.0,293.9 51.6,294.3 52.2,294.7 52.8,294.8 53.4,295.2 54.0,295.5 54.6,295.8 55.2,296.1 55.9,296.4 56.5,296.6 57.0,297.0 57.6,297.5 58.0,297.7 58.6,298.2 59.0,298.5 59.3,299.0 59.6,299.3 60.0,300.1 60.3,300.5 60.6,300.6 60.9,301.3 61.2,301.6 61.5,302.4 61.9,302.6 62.4,303.1 63.0,304.0 63.4,304.2 63.8,304.3 64.2,304.8 64.7,305.4 65.1,305.5 65.6,306.1 66.2,306.3 66.7,306.8 67.2,307.1 67.8,307.4 68.3,307.9 68.9,308.3 69.4,308.7 70.0,309.0 70.5,309.2 71.0,309.6 71.6,309.8 72.1,310.3 72.6,310.3 73.1,310.8 73.7,310.8 74.2,311.2 74.8,311.4 75.4,311.7 76.0,312.0 76.6,312.3 77.2,312.3 77.8,312.9 78.5,313.1 79.0,313.0 79.5,313.5 80.1,313.7 80.6,313.8 81.2,314.2 81.7,314.1 82.3,314.4 82.9,314.5 83.5,315.0 84.1,315.0 84.7,315.2 85.3,315.7 85.9,315.6 86.5,315.9 87.1,316.2 87.7,316.1 88.2,316.6 88.8,316.7 89.4,316.8 90.0,317.1 90.6,317.3 91.2,317.2 91.8,317.7 92.5,317.7 93.1,318.0 93.7,318.1 94.4,318.4 95.0,318.5 95.6,318.5 96.2,318.6 96.9,318.9 97.5,319.0 98.1,319.1 98.7,319.4 99.3,319.5 99.9,319.6 100.4,319.9 101.0,319.7 101.5,320.0 102.2,320.1 102.9,320.3 103.5,320.6 104.1,320.6 104.7,320.4 105.3,320.8 105.8,320.8 106.4,320.9 107.0,321.1 107.5,321.0 108.1,321.3 108.7,321.2 109.4,321.3 110.0,321.5 110.6,321.4 111.2,321.6 111.8,322.0 112.4,321.7 113.0,321.9 113.6,322.1 114.3,322.1 114.9,322.3 115.5,322.4 116.2,322.5 116.8,322.5 117.5,322.5 118.1,322.5 118.7,322.9 119.4,322.7 120.0,323.0 120.6,323.0 121.2,323.3 121.8,323.3 122.4,323.3 123.0,323.6 123.5,323.6 124.1,323.8 124.7,323.9 125.3,324.2 125.9,324.3 126.5,324.3 127.1,324.5 127.8,324.6 128.5,324.9 129.2,324.8 130.0,325.1 130.5,324.9 131.0,325.0 131.5,325.3 132.1,325.2 132.6,325.2 133.2,325.3 133.7,325.4 134.3,325.4 134.9,325.6 135.4,325.9 136.0,325.6 136.6,325.7 137.2,325.8 137.9,325.8 138.5,326.1 139.1,325.9 139.7,326.0 140.4,326.1 141.0,326.0 141.7,326.2 142.3,326.2 143.0,326.3 143.6,326.3 144.3,326.6 145.0,326.5 145.6,326.6 146.1,326.5 146.8,326.4 147.4,326.5 148.0,326.7 148.7,326.5 149.4,326.6 150.1,327.0 150.8,326.7 151.5,326.7 152.2,327.0 152.9,326.8 153.7,327.0 154.4,327.0 155.1,327.0 155.8,326.9 156.5,327.2 157.2,327.0 157.8,327.3 158.5,327.4 159.1,327.1 159.8,327.4 160.3,327.4 160.9,327.1 161.5,327.2 162.0,327.5 162.4,327.5 162.9,327.2 163.3,327.3 163.7,327.5 164.0,327.2" fill="none" stroke="#56236c" stroke-width="1.35" stroke-linejoin="round" stroke-linecap="round"/>
<polyline points="30.0,300.1 30.4,300.7 30.9,300.8 31.5,300.8 32.1,300.7 32.8,300.9 33.6,300.1 34.4,300.8 35.1,300.5 35.9,300.9 36.6,300.6 37.3,300.7 37.9,300.6 38.4,300.5 38.8,300.6 39.2,300.4 39.5,299.4 39.6,299.3 39.6,298.9 39.6,297.8 39.5,296.9 39.4,296.5 39.3,295.9 39.3,294.8 39.3,294.0 39.3,294.0 39.3,293.0 39.4,292.9 39.4,291.6 39.4,291.3 39.4,290.4 39.4,290.2 39.4,288.7 39.4,288.7 39.4,287.6 39.4,286.9 39.4,286.1 39.5,285.8 39.5,285.6 39.5,285.2 39.5,284.7 39.5,284.1 39.6,282.3 39.8,284.0 39.8,284.5 39.8,284.6 39.8,285.7 39.9,285.4 39.9,286.2 39.9,286.8 39.9,287.4 39.9,288.0 39.9,288.9 39.9,289.8 40.0,291.0 40.0,291.4 40.0,292.2 40.0,292.6 40.0,293.1 40.1,294.1 40.1,294.8 40.1,294.8 40.2,295.8 40.2,295.7 40.4,297.6 40.8,297.6 41.3,297.4 41.7,297.3 42.3,297.5 42.9,296.9 43.5,296.1 44.2,296.7 44.8,296.1 45.4,296.2 46.0,296.1 46.7,296.6 47.4,297.1 48.2,297.8 48.7,297.4 49.2,297.9 49.7,297.8 50.3,298.6 50.8,298.6 51.4,299.0 51.9,299.2 52.5,300.0 53.0,300.5 53.5,300.0 54.0,300.6 54.7,300.6 55.2,301.5 55.8,301.9 56.3,301.5 56.8,302.3 57.4,302.3 58.0,302.9 58.4,303.3 58.8,303.5 59.2,304.2 59.7,304.3 60.1,305.0 60.5,305.3 61.0,305.8 61.5,306.1 62.0,306.7 62.5,306.9 63.0,307.8 63.5,308.0 64.0,308.3 64.4,309.0 65.0,308.7 65.5,309.3 66.0,309.7 66.6,310.0 67.1,310.4 67.7,310.3 68.2,311.1 68.8,311.2 69.4,310.9 70.0,311.7 70.5,311.9 71.0,312.5 71.6,312.6 72.1,312.8 72.6,313.0 73.1,313.3 73.7,313.3 74.2,313.6 74.8,313.9 75.4,313.7 76.0,314.4 76.6,314.6 77.2,314.8 77.8,315.2 78.5,315.5 79.0,315.5 79.5,315.8 80.1,315.7 80.6,316.6 81.2,316.5 81.7,316.7 82.3,316.9 82.9,316.5 83.5,316.8 84.1,317.2 84.7,317.4 85.3,317.6 85.9,317.8 86.5,318.1 87.1,318.4 87.7,318.5 88.2,318.4 88.8,319.0 89.4,319.1 90.0,319.4 90.6,318.7 91.2,319.4 91.7,319.2 92.3,319.9 92.8,320.1 93.4,320.0 93.9,319.8 94.5,320.5 95.0,320.3 95.6,320.6 96.2,320.2 96.7,320.3 97.4,321.0 98.0,321.2 98.6,320.9 99.3,320.7 100.0,321.1 100.7,321.7 101.5,321.2 102.0,321.8 102.5,321.5 103.0,322.1 103.5,321.7 104.1,322.3 104.6,322.0 105.2,321.6 105.7,322.1 106.3,322.2 106.9,322.0 107.5,322.0 108.1,322.5 108.7,322.8 109.3,322.9 109.9,322.6 110.5,322.5 111.2,322.9 111.8,323.2 112.4,322.8 113.0,323.5 113.7,323.7 114.3,323.2 114.9,323.1 115.6,323.5 116.2,323.2 116.9,324.0 117.5,323.8 118.1,323.7 118.8,324.2 119.4,324.2 120.0,324.2 120.6,323.7 121.2,324.0 121.7,324.1 122.3,324.6 122.9,324.1 123.5,324.0 124.1,324.4 124.7,324.3 125.2,324.7 125.8,324.5 126.4,324.4 127.0,324.9 127.6,325.2 128.2,325.1 128.8,325.0 129.4,324.6 130.0,324.8 130.6,325.3 131.2,325.6 131.8,325.2 132.4,325.7 133.0,325.0 133.6,325.2 134.2,325.3 134.8,325.7 135.5,325.5 136.1,325.8 136.7,325.3 137.4,325.9 138.0,326.0 138.7,325.6 139.3,325.6 140.0,325.9 140.6,326.0 141.1,326.1 141.7,326.6 142.3,325.9 143.0,326.4 143.6,326.3 144.3,326.5 144.9,326.2 145.6,326.7 146.3,326.8 147.0,326.2 147.7,326.5 148.4,326.3 149.1,326.9 149.8,327.1 150.5,326.8 151.2,327.4 151.9,327.3 152.6,327.2 153.2,326.8 153.9,327.0 154.6,327.5 155.3,327.3 155.9,327.1 156.6,326.9 157.2,327.7 157.8,327.3 158.4,327.2 159.0,327.6 159.6,327.8 160.1,327.8 160.7,327.3 161.2,328.1 161.7,327.7 162.1,327.9 162.6,327.7 163.0,327.8 163.3,327.6 163.7,328.2 164.0,327.7" fill="none" stroke="#185488" stroke-width="1.35" stroke-linejoin="round" stroke-linecap="round"/>
<polyline points="29.1,299.0 29.4,298.6 29.9,299.0 30.4,299.2 31.0,299.2 31.6,299.0 32.3,299.1 33.0,298.9 33.7,299.1 34.5,298.8 35.2,299.3 35.9,299.2 36.7,298.9 37.3,299.0 38.0,299.2 38.6,298.9 39.1,299.2 39.6,299.1 40.0,298.9 40.6,297.9 41.0,297.3 41.2,296.9 41.4,296.2 41.4,295.8 41.4,295.2 41.4,294.3 41.5,293.7 41.6,293.2 42.0,291.8 42.3,291.4 42.6,290.6 43.0,290.4 43.5,290.2 44.1,291.3 44.7,292.3 45.0,292.1 45.3,293.0 45.6,293.2 46.0,294.0 46.3,294.5 46.7,295.7 47.0,296.2 47.3,296.8 47.6,296.8 47.9,297.6 48.2,298.1 48.5,298.5 48.9,299.5 49.2,300.1 49.4,300.3 49.5,301.1 49.7,301.4 49.8,301.7 50.0,302.5 50.1,302.6 50.3,303.5 50.4,304.2 50.6,304.4 50.8,305.6 51.0,305.8 51.2,306.9 51.4,307.4 51.7,307.9 52.0,309.4 52.2,309.1 52.4,309.7 52.6,310.5 52.8,310.8 53.0,311.5 53.3,312.0 53.5,312.6 53.8,313.1 54.0,313.5 54.3,314.0 54.5,315.0 54.8,315.3 55.1,316.0 55.4,316.9 55.6,316.8 55.9,317.6 56.2,318.4 56.5,318.6 56.8,319.7 57.1,320.0 57.4,320.6 57.6,321.0 57.9,322.2 58.2,322.1 58.5,323.3 58.8,323.7 59.0,324.4 59.3,324.8 59.6,325.0 59.9,325.8 60.2,326.6 60.4,326.4 60.7,327.6 61.0,328.1 61.3,328.2 61.6,329.4 61.9,329.4 62.2,329.7 62.5,330.5 62.8,331.2 63.1,331.4 63.4,332.4 63.7,332.8 64.0,333.2 64.3,334.1 64.6,334.5 64.9,335.3 65.2,335.8 65.6,336.3 65.9,336.8 66.2,337.3 66.5,337.5 66.9,337.7 67.2,338.5 67.6,339.2 67.9,340.0 68.3,340.2 68.6,340.7 69.0,340.8 69.3,341.8 69.7,341.8 70.1,342.4 70.4,342.8 70.8,343.8 71.2,344.5 71.5,344.7 71.9,344.8 72.3,345.8 72.7,345.8 73.0,346.7 73.4,347.1 73.8,347.8 74.2,347.6 74.6,348.1 75.0,348.6 75.4,348.9 75.8,350.0 76.3,350.2 76.7,350.3 77.1,351.0 77.6,351.1 78.0,352.2 78.4,352.2 78.9,352.3 79.3,353.3 79.7,353.4 80.2,354.1 80.6,354.6 81.1,354.4 81.6,355.1 82.0,355.9 82.5,355.7 83.0,356.1 83.5,356.8 84.0,356.7 84.6,357.6 85.1,358.0 85.6,358.5 86.2,358.8 86.7,358.9 87.1,359.1 87.6,359.4 88.1,359.8 88.6,360.4 89.1,360.0 89.6,360.6 90.1,360.9 90.6,361.0 91.1,361.3 91.7,362.1 92.2,362.2 92.7,362.6 93.3,362.5 93.8,363.0 94.4,363.0 94.9,363.3 95.5,363.5 96.1,364.2 96.6,364.6 97.2,364.6 97.8,365.1 98.4,364.7 99.0,365.3 99.6,365.3 100.2,365.8 100.9,365.8 101.5,366.0 102.0,366.7 102.6,366.6 103.1,366.5 103.7,366.8 104.2,366.8 104.8,367.4 105.4,367.2 106.0,367.7 106.5,367.6 107.1,367.8 107.7,367.8 108.3,367.9 109.0,367.6 109.6,368.3 110.2,368.3 110.8,368.1 111.4,368.4 112.0,368.9 112.7,368.7 113.3,368.7 113.9,368.8 114.5,368.5 115.1,369.0 115.7,369.0 116.4,369.3 117.0,369.1 117.6,369.1 118.2,369.7 118.8,369.3 119.4,369.4 120.0,369.7 120.6,370.2 121.1,370.1 121.7,369.7 122.3,369.8 123.0,370.2 123.6,370.0 124.2,370.2 124.8,370.2 125.4,370.9 126.0,371.0 126.6,371.1 127.2,371.1 127.7,370.7 128.3,370.9 128.9,371.5 129.5,370.9 130.0,371.4 130.6,371.7 131.2,371.4 131.8,371.6 132.4,371.9 133.0,372.0 133.5,371.7 134.2,372.3 134.8,371.8 135.4,371.9 136.0,372.1 136.6,372.1 137.3,372.4 137.9,372.4 138.6,372.8 139.3,373.0 140.0,373.0 140.5,373.1 141.1,372.7 141.7,373.1 142.3,373.3 142.9,373.4 143.5,373.1 144.2,373.6 144.8,373.2 145.5,373.7 146.2,373.6 146.8,373.2 147.5,373.9 148.2,373.9 148.9,373.7 149.6,374.1 150.3,374.1 151.0,374.1 151.7,374.2 152.4,374.2 153.1,373.8 153.8,374.2 154.5,373.8 155.2,374.3 155.9,374.0 156.5,374.5 157.1,374.7 157.8,374.2 158.4,374.6 159.0,374.4 159.6,375.0 160.1,374.7 160.6,374.4 161.2,374.9 161.6,374.8 162.1,374.8 162.5,374.8 163.0,374.6 163.3,374.6 163.7,375.1 164.0,374.7" fill="none" stroke="#38b04c" stroke-width="1.35" stroke-linejoin="round" stroke-linecap="round"/>
<polyline points="30.3,300.9 30.8,301.0 31.5,301.1 32.3,301.3 33.1,301.4 33.8,301.3 34.3,300.9 34.5,300.5 34.6,300.1 34.6,299.5 34.6,298.8 34.6,298.1 34.6,297.4 34.5,296.7 34.5,296.0 34.5,295.4 34.5,294.8 34.6,294.3 34.9,293.6 35.4,293.1 35.9,292.7 36.3,292.2 36.7,291.4 36.8,290.9 36.9,290.3 37.0,289.7 37.1,289.0 37.1,288.3 37.2,287.5 37.2,286.8 37.3,286.1 37.3,285.4 37.4,284.9 37.4,284.4 37.5,284.0 37.9,282.9 38.2,284.0 38.2,284.4 38.3,284.8 38.3,285.4 38.4,286.1 38.4,286.8 38.5,287.5 38.5,288.3 38.6,289.1 38.6,289.8 38.7,290.6 38.7,291.4 38.8,292.0 38.8,292.7 38.9,293.2 38.9,293.7 39.0,294.0 39.5,294.7 40.0,293.0 40.1,292.6 40.2,292.1 40.3,291.6 40.4,290.9 40.5,290.3 40.6,289.5 40.8,288.8 40.9,288.1 41.0,287.3 41.1,286.6 41.2,286.0 41.3,285.4 41.4,284.8 41.5,284.4 41.6,284.0 41.8,283.0 42.2,284.0 42.3,284.3 42.5,284.7 42.7,285.2 42.9,285.8 43.1,286.4 43.3,287.0 43.6,287.7 43.8,288.3 44.0,289.0 44.3,289.6 44.5,290.2 44.7,290.8 44.9,291.4 45.1,292.0 45.3,292.5 45.5,293.1 45.8,293.6 46.0,294.2 46.2,294.7 46.4,295.3 46.6,295.9 46.8,296.5 47.0,297.6 47.2,297.5 47.3,298.8 47.5,297.7 47.6,299.9 47.8,299.6 47.9,300.8 48.1,300.3 48.2,301.3 48.4,301.7 48.6,302.5 48.7,304.1 48.9,304.1 49.1,306.0 49.2,305.6 49.4,305.3 49.6,306.9 49.7,307.2 49.9,306.7 50.0,308.3 50.2,307.5 50.4,309.0 50.5,309.9 50.7,310.9 50.9,312.1 51.1,311.8 51.2,310.9 51.4,312.7 51.6,312.7 51.8,314.7 52.1,315.7 52.3,314.3 52.5,316.6 52.6,315.9 52.8,316.1 53.0,317.3 53.1,317.8 53.3,318.0 53.5,318.5 53.7,319.5 53.9,320.7 54.1,320.0 54.3,321.1 54.5,321.3 54.7,323.2 54.9,322.6 55.1,324.5 55.3,323.2 55.5,326.0 55.7,325.5 55.9,327.4 56.1,327.6 56.3,328.3 56.6,326.8 56.8,329.3 57.0,329.3 57.2,330.8 57.4,330.5 57.6,330.5 57.9,332.5 58.1,333.3 58.3,331.9 58.5,332.3 58.8,333.6 59.0,334.8 59.2,334.1 59.5,335.7 59.7,336.2 59.9,337.4 60.2,336.3 60.4,336.9 60.7,338.4 60.9,339.6 61.2,339.7 61.4,340.6 61.7,339.9 61.9,339.8 62.2,342.0 62.5,342.4 62.7,341.3 63.0,341.9 63.3,344.1 63.7,344.6 64.1,343.9 64.4,344.6 64.8,345.5 65.2,345.0 65.6,346.2 66.0,346.5 66.4,346.5 66.8,348.2 67.2,349.7 67.6,347.9 68.0,350.0 68.4,350.2 68.8,349.7 69.2,351.1 69.6,351.8 70.0,350.9 70.4,351.7 70.8,352.6 71.3,352.6 71.7,352.4 72.2,353.4 72.6,354.6 73.1,354.7 73.5,354.4 73.9,354.7 74.4,354.7 74.8,356.4 75.3,357.0 75.8,356.0 76.3,357.3 76.8,356.3 77.3,356.9 77.9,358.4 78.5,358.2 79.0,358.6 79.5,357.9 80.0,359.4 80.5,359.6 81.0,359.2 81.6,360.6 82.1,359.8 82.7,360.5 83.3,360.1 83.9,362.4 84.5,361.9 85.1,363.1 85.7,361.9 86.3,363.3 86.8,363.3 87.4,362.0 88.0,364.5 88.6,363.7 89.2,363.5 89.7,363.8 90.3,363.8 90.8,365.3 91.4,364.7 92.0,364.9 92.6,365.1 93.1,366.0 93.6,365.9 94.1,365.1 94.6,366.2 95.1,367.3 95.7,365.9 96.2,367.3 96.7,367.4 97.3,366.6 97.9,368.1 98.5,366.3 99.2,366.4 99.9,367.1 100.7,366.5 101.5,366.6 102.0,367.4 102.4,367.9 102.9,368.3 103.5,369.1 104.0,368.5 104.5,368.5 105.1,367.2 105.6,367.4 106.2,368.8 106.8,368.3 107.4,370.4 108.0,370.0 108.6,368.4 109.2,368.3 109.9,370.5 110.5,371.0 111.1,370.5 111.8,368.9 112.4,371.2 113.0,370.8 113.7,371.4 114.3,371.0 115.0,371.2 115.6,371.9 116.2,370.8 116.9,370.3 117.5,370.4 118.1,371.1 118.7,372.3 119.4,372.6 120.0,371.6 120.5,371.2 121.1,371.1 121.7,371.7 122.3,373.3 122.9,371.3 123.5,373.0 124.1,373.9 124.7,373.0 125.3,373.6 125.8,372.0 126.4,373.2 127.0,374.0 127.5,372.6 128.1,373.1 128.7,373.8 129.2,374.8 129.8,374.3 130.3,374.6 130.9,374.4 131.5,373.9 132.0,375.8 132.6,375.4 133.2,373.8 133.7,376.3 134.3,375.9 134.9,374.3 135.5,376.2 136.1,376.9 136.7,375.4 137.4,376.2 138.0,375.1 138.7,375.7 139.3,375.6 140.0,375.7 140.5,376.1 141.1,376.1 141.7,377.1 142.3,377.5 142.9,378.4 143.5,378.6 144.2,376.2 144.8,378.5 145.5,377.1 146.2,377.6 146.8,379.2 147.5,377.3 148.2,379.5 148.9,377.9 149.6,379.8 150.3,378.3 151.0,378.9 151.7,377.8 152.4,380.0 153.1,380.1 153.8,378.9 154.5,380.3 155.2,380.6 155.9,380.7 156.5,379.1 157.1,381.4 157.8,379.9 158.4,379.6 159.0,379.5 159.6,381.9 160.1,380.5 160.6,380.0 161.2,382.1 161.6,380.3 162.1,380.5 162.5,381.6 163.0,380.5 163.3,382.6 163.7,380.5 164.0,381.7" fill="none" stroke="#c4122f" stroke-width="1.35" stroke-linejoin="round" stroke-linecap="round"/>
<line x1="40.4" y1="328.2" x2="40.4" y2="304.9" stroke="#555" stroke-width="0.9"/>
<polygon points="40.4,301.8 42.9,305.4 37.9,305.4" fill="#1a1a1a"/>
</g>
<g clip-path="url(#cC)">
<line x1="27.8" y1="525.8" x2="27.8" y2="648.5" stroke="#56236c" stroke-width="2.4"/>
<line x1="29.7" y1="524.7" x2="29.7" y2="646" stroke="#185488" stroke-width="1.1"/>
<polyline points="29.5,646.1 29.9,645.6 30.3,645.7 30.9,645.6 31.5,646.0 32.2,645.9 32.9,646.0 33.7,645.2 34.4,645.5 35.2,645.1 35.9,645.3 36.5,645.6 37.1,645.2 37.6,645.5 38.0,646.1 38.4,646.5 38.6,646.8 38.8,647.8 38.9,648.8 39.0,649.0 39.0,650.5 39.0,651.2 38.9,651.6 38.9,652.0 38.9,653.1 39.0,652.7 39.1,652.3 39.2,651.9 39.2,652.1 39.3,651.1 39.3,650.5 39.4,649.6 39.5,648.6 39.6,648.2 39.7,646.9 39.8,646.5 40.0,646.3 40.4,645.7 40.9,645.9 41.4,645.8 42.1,646.1 43.0,645.6 43.5,645.7 44.0,645.8 44.6,645.6 45.2,645.7 45.8,645.6 46.5,645.7 47.2,646.0 47.9,645.7 48.6,645.6 49.3,645.4 50.0,645.3 50.6,645.8 51.1,645.4 51.7,645.2 52.3,644.6 53.0,644.9 53.6,644.2 54.2,644.2 54.8,644.5 55.5,644.0 56.1,643.7 56.7,643.6 57.3,643.5 57.9,643.2 58.5,642.5 59.1,642.0 59.7,642.0 60.3,641.7 60.9,641.3 61.4,641.7 62.0,641.3 62.6,640.5 63.1,640.5 63.7,640.0 64.3,640.2 64.8,639.5 65.4,639.0 66.0,638.8 66.6,638.8 67.2,638.3 67.7,638.4 68.3,638.5 68.8,637.8 69.4,637.5 70.0,638.0 70.6,637.4 71.2,636.8 71.8,636.6 72.4,636.5 73.1,636.8 73.8,636.8 74.3,636.3 74.8,635.8 75.4,636.0 75.9,636.4 76.5,635.8 77.0,636.1 77.6,635.9 78.1,635.0 78.7,635.5 79.3,635.3 79.9,635.1 80.5,634.7 81.2,634.9 81.8,634.3 82.5,634.5 83.2,634.5 83.9,634.9 84.6,634.7 85.1,634.2 85.7,634.3 86.2,634.0 86.8,634.7 87.4,634.7 88.0,634.1 88.6,634.5 89.3,634.4 89.9,634.0 90.5,634.6 91.2,634.4 91.8,634.7 92.5,634.5 93.1,634.0 93.8,634.4 94.4,634.1 95.1,635.0 95.7,634.9 96.4,634.9 97.0,634.5 97.6,634.3 98.2,635.0 98.8,635.1 99.4,634.3 100.0,634.7 100.7,634.3 101.3,634.9 101.9,634.9 102.4,634.3 103.0,634.6 103.5,634.6 104.0,634.3 104.5,634.8 105.0,634.4 105.5,634.2 106.0,634.4 106.6,634.6 107.1,634.1 107.7,634.1 108.3,634.7 109.0,634.4 109.7,634.2 110.4,634.3 111.2,633.9 112.1,634.0 113.0,634.2 113.5,634.4 113.9,634.1 114.4,634.1 114.9,634.0 115.4,634.5 115.9,634.2 116.5,634.8 117.0,634.8 117.6,634.1 118.1,634.3 118.7,634.7 119.3,634.3 119.9,634.3 120.5,635.1 121.1,634.8 121.7,634.7 122.3,635.0 122.9,635.1 123.6,634.6 124.2,634.5 124.8,634.9 125.5,634.9 126.1,635.0 126.8,635.3 127.4,635.3 128.1,635.6 128.7,634.9 129.4,635.2 130.1,635.2 130.7,635.7 131.4,635.2 132.0,635.2 132.7,635.4 133.3,635.5 133.9,635.4 134.6,635.4 135.2,636.0 135.8,635.7 136.4,636.1 137.1,635.8 137.7,635.4 138.3,636.3 138.8,636.2 139.4,636.4 140.0,636.4 140.6,636.4 141.3,635.8 142.0,636.1 142.6,635.9 143.3,636.1 144.0,635.9 144.7,636.2 145.4,636.8 146.1,636.2 146.8,636.7 147.5,636.5 148.2,636.5 148.9,637.1 149.6,637.1 150.3,636.8 151.0,637.0 151.7,636.5 152.3,636.7 153.0,637.4 153.7,637.1 154.3,637.1 155.0,637.3 155.6,636.8 156.3,637.3 156.9,637.3 157.5,637.6 158.1,637.0 158.7,637.8 159.2,637.1 159.8,637.2 160.3,637.6 160.8,637.7 161.3,637.4 161.7,637.3 162.2,638.0 162.6,637.5 163.0,637.8 163.3,637.9 163.7,637.7 164.0,637.9" fill="none" stroke="#185488" stroke-width="1.35" stroke-linejoin="round" stroke-linecap="round"/>
<polyline points="29.5,640.5 29.9,640.9 30.3,640.5 30.9,640.6 31.5,640.6 32.2,640.5 32.9,640.2 33.7,640.1 34.4,639.7 35.2,639.9 35.9,639.9 36.5,640.2 37.1,640.2 37.6,640.6 38.0,640.8 38.2,641.0 38.4,641.9 38.6,642.4 38.7,642.8 38.8,643.4 38.9,644.4 38.9,645.3 39.0,646.3 39.0,647.0 39.0,647.8 39.0,648.7 39.0,649.4 38.9,649.9 38.9,650.6 38.9,651.7 38.9,652.1 38.9,652.1 39.0,652.7 39.0,652.5 39.0,652.2 39.1,652.4 39.1,651.9 39.2,651.7 39.2,651.1 39.2,650.1 39.3,649.7 39.3,649.1 39.3,648.4 39.4,647.3 39.4,646.6 39.5,645.9 39.5,644.7 39.6,644.4 39.6,643.6 39.7,642.4 39.7,642.1 39.8,641.3 39.9,640.7 40.0,640.6 40.3,639.8 40.6,639.0 41.0,638.5 41.5,638.6 42.1,638.5 43.0,638.3 43.4,637.9 43.9,637.3 44.4,637.7 45.0,637.3 45.6,636.7 46.2,636.6 46.8,636.3 47.5,636.4 48.1,635.9 48.8,636.0 49.4,635.4 50.1,635.4 50.7,635.0 51.3,634.5 51.8,634.2 52.3,634.4 52.8,634.1 53.3,633.2 53.7,633.2 54.2,633.0 54.6,632.5 54.9,632.1 55.3,631.3 55.7,631.1 56.0,630.5 56.4,630.3 56.8,629.6 57.2,629.2 57.6,628.7 58.0,627.9 58.4,627.7 58.7,626.9 59.1,626.5 59.4,626.4 59.8,625.6 60.2,625.3 60.5,624.7 60.9,624.0 61.3,623.7 61.7,623.4 62.0,622.5 62.4,622.0 62.8,621.4 63.3,620.9 63.7,620.8 64.1,620.2 64.6,619.9 65.0,619.3 65.4,619.0 65.8,618.1 66.2,617.7 66.7,617.3 67.1,616.9 67.6,616.8 68.0,615.9 68.5,615.6 68.9,614.9 69.4,614.5 69.9,614.4 70.4,614.0 70.8,613.5 71.3,613.3 71.8,612.9 72.3,612.6 72.8,612.0 73.3,611.4 73.8,611.0 74.3,611.0 74.8,610.3 75.3,609.9 75.8,610.0 76.3,609.4 76.8,609.4 77.3,608.8 77.8,608.7 78.3,608.1 78.8,608.1 79.3,607.8 79.9,607.5 80.4,607.2 81.0,607.2 81.5,607.0 82.1,606.5 82.7,606.2 83.3,606.1 84.0,606.1 84.6,605.7 85.1,605.7 85.6,605.2 86.2,605.4 86.7,605.0 87.3,604.9 87.9,605.0 88.5,604.7 89.1,604.7 89.7,604.3 90.3,604.4 90.9,604.1 91.5,604.1 92.2,603.9 92.8,604.1 93.4,603.9 94.0,603.6 94.7,603.7 95.3,603.5 95.9,603.4 96.5,603.2 97.1,603.2 97.7,602.8 98.3,603.2 98.9,602.9 99.4,603.0 100.0,602.8 100.7,602.3 101.3,602.3 101.9,602.7 102.5,602.5 103.0,602.6 103.6,602.5 104.1,602.1 104.7,602.5 105.2,602.2 105.8,602.3 106.3,602.1 106.9,601.9 107.4,602.0 108.0,602.0 108.6,601.9 109.3,601.9 109.9,602.0 110.6,601.9 111.4,601.8 112.2,602.2 113.0,601.9 113.5,601.9 114.0,602.2 114.5,602.1 115.0,602.0 115.6,601.9 116.2,602.2 116.7,601.9 117.3,602.0 118.0,602.0 118.6,602.3 119.2,601.9 119.8,602.1 120.5,602.1 121.1,601.8 121.8,601.9 122.4,602.3 123.1,602.3 123.8,602.0 124.4,602.0 125.1,602.4 125.8,602.3 126.4,602.4 127.1,602.5 127.8,602.1 128.4,602.3 129.1,602.6 129.7,602.2 130.3,602.2 131.0,602.6 131.6,602.6 132.2,602.5 132.8,602.3 133.3,602.7 133.9,602.4 134.5,602.7 135.0,602.5 135.5,602.5 136.0,602.8 136.8,602.7 137.5,602.8 138.3,602.9 139.0,603.0 139.6,603.1 140.3,603.3 140.9,603.0 141.5,603.5 142.1,603.4 142.7,603.7 143.3,603.5 143.8,603.9 144.4,603.7 144.9,604.1 145.5,604.2 146.0,604.2 146.6,604.3 147.1,604.7 147.7,604.5 148.2,604.4 148.8,604.7 149.4,604.6 150.0,605.2 150.6,605.3 151.3,605.1 151.9,605.5 152.6,605.3 153.3,605.9 154.0,605.8 154.7,605.7 155.4,606.2 156.1,606.0 156.8,606.7 157.5,606.8 158.2,606.8 158.9,606.7 159.5,607.2 160.2,606.9 160.8,607.1 161.3,607.3 161.9,607.3 162.4,607.9 162.9,607.9 163.3,608.0 163.7,608.0 164.0,607.8" fill="none" stroke="#38b04c" stroke-width="1.35" stroke-linejoin="round" stroke-linecap="round"/>
<polyline points="29.0,645.2 29.4,645.3 29.9,645.5 30.4,645.0 31.1,645.0 31.8,644.8 32.6,644.8 33.4,644.7 34.1,644.8 34.9,645.0 35.6,645.3 36.3,645.2 36.9,645.0 37.4,645.1 37.8,645.4 38.3,645.6 38.6,646.1 38.7,647.5 38.7,648.1 38.6,648.5 38.6,649.0 38.6,649.2 38.7,649.6 38.7,648.6 38.8,648.2 38.9,647.7 39.0,646.2 39.1,645.8 39.4,645.3 39.8,645.2 40.2,644.3 40.8,644.1 41.4,643.9 42.1,643.5 43.0,643.6 43.5,643.6 44.0,643.2 44.5,642.8 45.1,643.2 45.7,643.1 46.3,642.9 47.0,642.6 47.6,642.8 48.3,642.5 48.9,642.2 49.6,641.9 50.2,641.4 50.8,641.2 51.2,641.1 51.6,640.7 52.0,640.1 52.4,640.1 52.8,639.7 53.2,638.8 53.7,638.4 54.1,638.0 54.5,637.4 54.9,637.5 55.3,636.9 55.7,636.3 56.1,636.2 56.5,635.2 56.9,634.6 57.3,634.0 57.7,633.6 58.1,633.5 58.5,632.8 58.8,631.9 59.2,631.7 59.5,630.9 59.9,630.8 60.2,630.0 60.6,629.5 60.9,629.3 61.2,628.9 61.6,628.2 61.9,627.4 62.2,627.1 62.6,626.3 62.9,625.5 63.3,625.2 63.6,624.9 63.9,624.3 64.3,623.5 64.6,623.4 65.0,622.9 65.3,622.0 65.7,622.0 66.0,621.0 66.4,620.4 66.8,620.2 67.1,620.0 67.5,619.3 67.9,618.8 68.2,618.3 68.6,617.7 69.0,617.2 69.3,616.8 69.7,616.5 70.1,616.3 70.4,615.3 70.8,615.0 71.2,615.0 71.6,614.4 72.0,613.5 72.5,613.3 72.9,613.0 73.3,612.7 73.8,611.7 74.2,611.9 74.6,611.4 75.0,610.6 75.4,610.3 75.9,610.1 76.3,609.2 76.7,609.1 77.2,608.6 77.6,607.8 78.0,607.5 78.5,607.1 79.0,606.5 79.4,606.6 79.9,605.7 80.4,605.3 80.9,605.1 81.4,604.7 81.9,604.2 82.4,603.8 82.9,603.6 83.5,603.6 84.0,602.7 84.6,603.0 85.1,602.8 85.6,602.4 86.2,602.3 86.7,601.8 87.3,602.0 87.9,601.7 88.5,601.5 89.1,601.2 89.7,600.9 90.3,601.1 90.9,601.0 91.5,600.4 92.2,600.5 92.8,600.6 93.4,600.3 94.0,600.2 94.7,600.1 95.3,599.9 95.9,600.0 96.5,600.1 97.1,600.1 97.7,600.1 98.3,599.8 98.9,599.7 99.4,600.2 100.0,599.9 100.7,599.9 101.3,599.8 101.9,599.5 102.5,599.6 103.0,599.4 103.6,599.5 104.1,599.6 104.7,599.0 105.2,599.5 105.8,599.0 106.3,598.9 106.9,599.0 107.4,599.3 108.0,599.5 108.6,599.6 109.3,599.1 109.9,599.3 110.6,599.7 111.4,599.7 112.2,599.7 113.0,599.4 113.5,599.5 114.0,599.5 114.5,599.6 115.0,599.8 115.6,600.1 116.2,600.1 116.7,599.9 117.3,600.0 118.0,600.2 118.6,600.6 119.2,600.5 119.8,600.8 120.5,600.8 121.1,601.1 121.8,600.9 122.4,600.9 123.1,601.1 123.8,601.5 124.4,601.2 125.1,601.3 125.8,601.9 126.4,601.7 127.1,602.0 127.8,601.8 128.4,601.8 129.1,602.0 129.7,602.3 130.3,602.1 131.0,602.4 131.6,603.0 132.2,602.8 132.8,602.6 133.3,603.2 133.9,603.0 134.5,603.0 135.0,603.4 135.5,603.5 136.0,603.4 136.8,603.8 137.5,604.0 138.3,603.8 139.0,604.0 139.6,603.8 140.3,604.3 140.9,604.2 141.5,604.6 142.1,604.7 142.7,604.5 143.3,604.9 143.8,605.2 144.4,604.7 144.9,605.2 145.5,605.1 146.0,605.5 146.6,605.0 147.1,605.4 147.7,605.3 148.2,605.5 148.8,606.0 149.4,605.9 150.0,605.9 150.6,606.5 151.3,606.0 151.9,606.1 152.6,606.7 153.3,606.7 154.0,607.1 154.7,607.0 155.4,607.5 156.1,607.2 156.8,607.3 157.5,607.9 158.2,607.9 158.9,607.7 159.5,607.8 160.2,608.0 160.8,608.6 161.3,608.7 161.9,608.4 162.4,609.0 162.9,609.1 163.3,609.1 163.7,609.2 164.0,609.2" fill="none" stroke="#c4122f" stroke-width="1.35" stroke-linejoin="round" stroke-linecap="round"/>
<polyline points="27.7,647.0 28.1,646.9 28.5,646.8 29.1,647.4 29.7,647.0 30.4,647.1 31.1,646.9 31.9,646.7 32.6,647.0 33.4,646.8 34.1,647.0 34.9,646.9 35.6,647.0 36.2,646.7 36.7,646.6 37.2,646.7 37.6,647.3 38.1,647.2 38.4,648.2 38.5,648.8 38.4,649.1 38.3,650.4 38.2,650.5 38.1,651.8 38.1,652.3 38.3,652.8 38.4,653.9 38.6,654.2 38.8,653.4 38.9,653.2 39.1,651.7 39.1,651.8 39.0,651.0 38.9,650.6 38.7,649.1 38.7,648.6 38.8,648.1 39.1,647.6 39.6,646.7 40.0,647.1 40.4,647.0 40.8,646.4 41.4,646.2 41.9,646.6 42.6,646.3 43.2,646.4 43.9,646.3 44.6,646.2 45.3,645.8 46.0,645.9 46.7,646.1 47.4,646.3 48.1,646.0 48.7,646.2 49.4,645.9 50.0,646.1 50.6,645.8 51.2,645.4 51.7,645.1 52.3,645.0 52.9,644.8 53.4,645.3 54.0,645.2 54.5,644.9 55.1,644.2 55.6,644.5 56.2,643.9 56.8,644.3 57.4,644.0 58.0,643.8 58.7,643.5 59.3,643.2 60.0,643.3 60.5,643.2 61.0,642.4 61.6,642.4 62.1,642.4 62.7,642.2 63.2,641.7 63.8,641.5 64.4,641.7 65.0,640.9 65.6,640.6 66.2,640.8 66.8,640.2 67.4,640.5 68.0,639.8 68.6,640.0 69.3,639.4 69.9,639.5 70.4,639.2 71.0,639.0 71.6,638.4 72.2,638.2 72.7,637.9 73.3,637.9 73.8,638.1 74.5,637.5 75.1,637.5 75.8,637.6 76.4,637.2 77.0,637.2 77.6,637.1 78.2,637.4 78.7,636.9 79.3,637.5 79.9,637.2 80.5,637.2 81.1,637.1 81.7,637.0 82.3,637.4 82.9,637.3 83.6,637.3 84.3,636.6 85.0,637.1 85.5,637.4 86.1,637.1 86.6,637.0 87.2,637.2 87.8,636.8 88.4,637.3 89.0,637.3 89.6,636.8 90.2,637.2 90.8,637.3 91.4,637.1 92.1,637.4 92.7,637.7 93.3,637.7 94.0,637.3 94.6,637.2 95.2,637.8 95.8,637.6 96.5,637.9 97.1,637.9 97.7,637.5 98.3,637.8 98.9,637.6 99.4,638.0 100.0,638.0 100.6,637.6 101.3,637.8 101.8,637.9 102.4,637.7 102.9,637.6 103.5,637.9 104.0,637.6 104.5,637.9 105.0,638.3 105.5,638.2 106.0,637.6 106.6,638.2 107.1,638.1 107.7,638.1 108.3,637.6 109.0,638.2 109.7,637.8 110.4,638.3 111.2,638.0 112.1,638.0 113.0,637.9 113.5,638.5 113.9,638.0 114.4,638.6 114.9,638.3 115.4,638.1 115.9,638.5 116.5,638.4 117.0,638.1 117.6,638.7 118.1,638.3 118.7,638.2 119.3,638.8 119.9,638.8 120.5,638.6 121.1,638.5 121.7,638.8 122.3,638.9 122.9,639.0 123.6,638.9 124.2,639.0 124.8,639.1 125.5,638.8 126.1,638.8 126.8,639.1 127.4,639.3 128.1,639.4 128.7,639.5 129.4,639.2 130.1,639.5 130.7,639.1 131.4,639.3 132.0,639.1 132.7,639.8 133.3,639.9 133.9,639.7 134.6,639.8 135.2,639.6 135.8,640.0 136.4,639.4 137.1,639.7 137.7,639.7 138.3,640.2 138.8,639.7 139.4,639.7 140.0,639.7 140.6,640.3 141.3,639.9 142.0,640.4 142.6,640.0 143.3,640.5 144.0,640.0 144.7,640.6 145.4,640.7 146.1,640.7 146.8,640.6 147.5,640.8 148.2,640.9 148.9,640.9 149.6,640.4 150.3,640.9 151.0,640.9 151.7,640.6 152.3,640.5 153.0,641.1 153.7,640.8 154.3,640.9 155.0,641.3 155.6,641.0 156.3,640.8 156.9,641.2 157.5,641.1 158.1,641.0 158.7,641.3 159.2,641.5 159.8,641.0 160.3,641.5 160.8,641.5 161.3,641.3 161.7,641.1 162.2,641.5 162.6,641.2 163.0,641.2 163.3,641.7 163.7,641.3 164.0,641.2" fill="none" stroke="#56236c" stroke-width="1.35" stroke-linejoin="round" stroke-linecap="round"/>
<polyline points="27.7,525.7 28.1,525.8 28.5,525.6 29.0,525.7 29.6,525.6 30.3,525.5 30.9,525.6 31.7,525.5 32.4,525.6 33.2,525.8 33.9,525.5 34.6,525.8 35.3,525.5 36.0,525.9 36.6,525.8 37.2,525.6 37.6,525.9 38.0,525.9 39.0,526.4 39.0,527.0 39.3,526.9 39.5,526.6 39.8,525.8 40.1,525.3 40.5,524.9 41.0,524.2 41.3,523.4 41.5,522.9 41.8,522.7 42.1,522.0 42.5,521.5 42.8,521.1 43.2,520.5 43.5,519.9 43.9,519.5 44.3,518.9 44.6,518.5 45.0,518.1 45.5,517.6 46.0,517.0 46.6,517.1 47.2,516.8 47.7,516.3 48.3,516.2 48.9,515.8 49.4,515.9 50.0,515.9 50.6,515.6 51.1,515.7 51.7,515.9 52.2,515.6 52.8,515.9 53.4,515.9 54.2,516.2 55.0,516.7 55.4,516.7 55.9,516.5 56.4,517.1 56.9,517.2 57.4,517.3 58.0,517.3 58.6,517.5 59.1,517.6 59.7,518.1 60.3,518.0 60.9,518.7 61.5,518.5 62.2,519.0 62.8,519.2 63.4,519.4 64.0,519.6 64.6,520.0 65.1,520.2 65.6,520.7 66.1,520.8 66.6,521.0 67.1,521.3 67.6,521.5 68.1,521.6 68.6,521.8 69.1,522.6 69.6,522.8 70.2,522.7 70.7,523.3 71.2,523.7 71.8,524.1 72.3,524.0 72.9,524.4 73.5,524.9 74.1,525.4 74.8,525.6 75.4,526.3 75.8,526.6 76.3,526.7 76.7,527.2 77.2,527.3 77.6,527.9 78.1,528.0 78.6,528.3 79.0,528.6 79.5,529.2 80.0,529.6 80.5,529.5 81.0,530.2 81.5,530.7 82.0,531.0 82.6,531.1 83.1,531.5 83.6,532.2 84.1,532.2 84.6,533.0 85.1,533.0 85.7,533.5 86.2,533.9 86.7,534.3 87.2,534.6 87.7,535.1 88.3,535.4 88.8,535.9 89.3,536.1 89.8,536.4 90.3,536.5 90.8,537.2 91.3,537.2 91.9,537.6 92.4,537.8 92.9,538.4 93.5,538.7 94.0,539.2 94.5,539.6 95.1,540.0 95.6,540.3 96.1,540.6 96.6,540.8 97.2,540.9 97.7,541.6 98.2,542.1 98.8,542.1 99.3,542.7 99.8,542.8 100.4,543.1 100.9,543.6 101.4,543.5 102.0,544.0 102.5,544.4 103.0,544.4 103.6,544.9 104.1,545.1 104.6,545.3 105.1,545.7 105.7,546.1 106.2,546.3 106.8,546.5 107.4,546.8 108.0,546.9 108.5,547.2 109.1,547.2 109.7,547.7 110.2,547.9 110.8,548.1 111.4,548.4 111.9,548.7 112.5,548.7 113.1,549.0 113.7,549.0 114.2,549.0 114.8,549.4 115.4,549.5 116.0,549.6 116.6,549.5 117.2,549.9 117.8,549.9 118.4,550.2 119.0,550.5 119.6,550.3 120.2,550.3 120.9,550.5 121.5,550.8 122.0,551.1 122.6,550.8 123.1,551.1 123.7,551.1 124.2,551.3 124.8,551.4 125.4,551.5 125.9,551.4 126.5,551.8 127.0,551.8 127.6,551.9 128.2,551.6 128.8,551.9 129.3,551.8 129.9,551.8 130.5,552.3 131.1,552.2 131.7,552.2 132.3,552.4 132.9,552.5 133.5,552.3 134.1,552.2 134.8,552.7 135.4,552.5 136.0,552.6 136.7,552.5 137.3,552.7 138.0,553.0 138.6,553.1 139.3,552.7 140.0,552.8 140.5,553.3 141.1,553.1 141.7,553.3 142.3,553.3 142.9,553.3 143.5,553.3 144.2,553.6 144.8,553.6 145.5,553.4 146.2,553.4 146.9,553.9 147.6,553.9 148.2,554.0 148.9,554.0 149.7,554.1 150.4,554.0 151.1,554.1 151.8,554.2 152.5,554.2 153.2,554.6 153.8,554.6 154.5,554.6 155.2,554.4 155.9,554.9 156.5,554.9 157.2,554.9 157.8,555.1 158.4,555.1 159.0,555.0 159.6,555.0 160.1,555.2 160.6,555.1 161.2,555.0 161.6,555.1 162.1,555.1 162.5,555.4 163.0,555.3 163.3,555.7 163.7,555.7 164.0,555.4" fill="none" stroke="#56236c" stroke-width="1.35" stroke-linejoin="round" stroke-linecap="round"/>
<polyline points="29.5,525.0 29.9,524.7 30.4,525.0 31.0,525.4 31.7,525.0 32.4,525.5 33.2,525.7 34.0,526.2 34.8,525.5 35.6,525.6 36.3,525.7 36.9,526.0 37.4,525.8 37.8,524.7 38.0,525.0 38.1,524.3 38.2,524.2 38.3,523.6 38.4,522.3 38.5,522.4 38.5,521.3 38.5,520.3 38.5,519.9 38.5,518.8 38.5,518.6 38.5,517.7 38.4,516.5 38.4,515.9 38.4,515.4 38.3,514.9 38.3,513.8 38.2,513.0 38.2,512.7 38.2,511.9 38.2,511.6 38.2,511.7 38.2,510.7 38.5,509.0 38.8,511.2 38.8,511.1 38.8,511.4 38.9,512.0 38.9,512.9 38.9,513.6 38.9,514.2 38.9,514.3 39.0,515.2 39.0,515.8 39.0,516.9 39.0,517.5 39.0,518.6 39.0,519.3 39.1,520.1 39.1,520.4 39.1,521.5 39.1,521.8 39.2,522.6 39.2,523.9 39.2,523.9 39.2,524.3 39.3,525.5 39.3,525.5 39.4,526.0 39.4,526.6 39.8,527.9 40.3,526.2 41.0,525.6 41.4,524.8 41.8,525.1 42.3,524.3 42.8,523.7 43.4,523.5 43.9,523.3 44.5,522.5 45.0,522.4 45.6,522.4 46.1,522.1 46.7,521.8 47.3,521.3 47.9,521.3 48.5,520.6 49.2,520.7 49.8,520.6 50.4,520.4 51.0,520.3 51.6,520.4 52.3,521.3 53.0,520.8 53.6,520.8 54.3,521.2 55.0,521.4 55.5,521.6 56.0,521.7 56.5,521.1 57.0,521.3 57.5,521.6 58.0,521.6 58.6,522.0 59.2,521.9 59.9,522.7 60.6,522.4 61.5,523.2 61.9,523.3 62.4,523.2 62.9,523.0 63.4,523.0 63.9,524.0 64.4,524.1 65.0,523.8 65.5,523.6 66.1,524.4 66.7,524.2 67.3,524.5 67.9,525.2 68.5,525.3 69.1,525.4 69.8,525.0 70.4,525.7 71.0,525.9 71.6,526.2 72.3,525.9 72.9,526.9 73.5,526.5 74.2,526.7 74.8,527.5 75.4,527.9 75.9,528.2 76.4,527.8 76.9,528.3 77.4,528.8 77.9,529.2 78.4,529.6 78.9,529.3 79.4,530.2 79.9,530.1 80.4,530.5 80.9,530.7 81.5,531.4 82.0,531.5 82.5,532.2 83.0,532.2 83.5,532.4 84.0,533.0 84.6,533.3 85.1,533.7 85.6,534.7 86.1,534.7 86.7,535.3 87.2,535.4 87.7,536.1 88.2,536.0 88.7,536.3 89.3,536.5 89.8,536.8 90.3,537.7 90.8,537.7 91.3,538.2 91.9,538.8 92.4,538.7 92.9,538.8 93.5,539.6 94.0,540.0 94.5,540.5 95.1,540.4 95.6,540.4 96.1,541.3 96.6,541.7 97.2,541.4 97.7,542.4 98.2,542.8 98.8,542.4 99.3,543.2 99.8,543.1 100.4,543.8 100.9,543.8 101.4,544.5 102.0,544.5 102.5,545.0 103.0,545.5 103.6,545.9 104.1,545.9 104.6,545.9 105.1,546.3 105.7,546.7 106.2,546.9 106.8,547.0 107.4,548.0 108.0,547.7 108.5,547.6 109.1,548.1 109.7,548.8 110.2,549.0 110.8,548.9 111.4,548.8 111.9,549.2 112.5,550.0 113.1,549.5 113.7,549.6 114.2,550.1 114.8,549.9 115.4,550.9 116.0,551.0 116.6,550.6 117.2,551.4 117.8,551.7 118.4,551.7 119.0,551.8 119.6,551.4 120.2,551.7 120.9,552.1 121.5,552.0 122.0,552.7 122.6,552.5 123.1,552.9 123.7,552.8 124.2,553.4 124.8,553.0 125.4,553.6 125.9,553.8 126.5,553.7 127.0,553.3 127.6,554.2 128.2,553.7 128.8,553.7 129.3,554.5 129.9,554.1 130.5,554.1 131.1,554.9 131.7,555.1 132.3,554.7 132.9,554.8 133.5,555.3 134.1,555.4 134.8,555.1 135.4,555.0 136.0,555.2 136.7,555.5 137.3,555.3 138.0,556.1 138.6,555.9 139.3,556.1 140.0,556.0 140.5,556.2 141.1,556.5 141.7,556.8 142.3,556.8 142.9,556.6 143.5,557.0 144.2,556.6 144.8,557.0 145.5,556.7 146.2,557.4 146.9,557.0 147.6,556.7 148.2,557.5 148.9,557.0 149.7,557.7 150.4,557.8 151.1,557.9 151.8,557.2 152.5,557.5 153.2,557.3 153.8,557.4 154.5,557.8 155.2,558.0 155.9,557.6 156.5,558.2 157.2,558.0 157.8,557.9 158.4,558.4 159.0,558.2 159.6,558.2 160.1,558.8 160.6,558.5 161.2,558.4 161.6,558.6 162.1,559.0 162.5,558.3 163.0,558.9 163.3,559.1 163.7,558.9 164.0,558.4" fill="none" stroke="#185488" stroke-width="1.35" stroke-linejoin="round" stroke-linecap="round"/>
<polyline points="29.0,528.7 29.4,528.8 29.8,528.8 30.4,528.7 31.0,528.8 31.6,528.7 32.3,528.5 33.1,528.7 33.8,528.5 34.5,528.5 35.3,528.6 35.9,529.0 36.6,528.7 37.1,528.8 37.6,529.0 38.0,529.0 38.9,529.3 39.0,529.3 39.3,529.3 39.6,528.8 40.0,528.7 40.5,527.5 41.0,526.9 41.3,526.7 41.5,526.2 41.8,525.7 42.1,525.3 42.5,524.4 42.8,524.2 43.2,523.7 43.5,522.6 43.9,522.2 44.3,521.7 44.6,521.3 45.0,521.0 45.5,520.4 46.0,520.3 46.6,520.1 47.2,519.8 47.7,519.5 48.3,518.9 48.9,519.1 49.4,519.0 50.0,518.9 50.6,518.9 51.2,518.7 51.9,519.2 52.5,519.0 53.1,519.5 53.8,519.6 54.4,520.1 55.0,520.2 55.4,520.7 55.9,521.3 56.3,521.3 56.7,521.9 57.1,522.3 57.5,522.6 58.0,523.1 58.4,523.3 58.9,524.0 59.4,525.0 60.0,525.7 60.3,525.8 60.6,526.1 60.9,526.9 61.2,527.0 61.5,527.6 61.8,527.6 62.1,528.2 62.5,529.0 62.8,529.4 63.2,530.0 63.5,530.3 63.9,531.2 64.2,531.2 64.6,531.8 64.9,532.6 65.3,533.1 65.6,533.8 66.0,534.2 66.3,534.9 66.7,535.5 67.0,535.8 67.4,536.2 67.7,536.8 68.0,537.4 68.3,538.3 68.6,538.8 68.9,539.1 69.2,539.4 69.5,540.4 69.8,540.4 70.1,541.0 70.4,541.9 70.7,542.2 71.0,542.8 71.3,543.3 71.6,543.7 71.9,544.3 72.1,544.8 72.4,545.3 72.7,545.9 73.0,546.5 73.3,547.3 73.6,547.8 73.9,548.5 74.2,549.0 74.5,549.4 74.8,549.9 75.1,550.0 75.4,550.5 75.8,551.6 76.1,552.2 76.5,552.4 76.9,553.3 77.2,553.9 77.6,554.0 77.9,554.4 78.3,555.0 78.7,555.5 79.0,556.0 79.4,556.8 79.7,557.1 80.1,558.0 80.5,558.3 80.8,558.8 81.2,559.4 81.5,559.8 81.9,560.4 82.3,560.4 82.6,561.1 83.0,561.5 83.4,562.3 83.9,562.5 84.3,562.9 84.7,563.4 85.2,564.1 85.6,564.4 86.0,564.6 86.5,565.6 86.9,565.5 87.3,566.1 87.8,566.7 88.2,567.2 88.6,567.3 89.1,567.8 89.5,568.3 89.9,568.2 90.4,569.0 90.8,569.4 91.4,569.6 91.9,569.8 92.5,570.3 93.0,571.0 93.6,570.9 94.1,571.2 94.7,571.5 95.2,572.1 95.8,572.4 96.3,572.5 96.9,573.0 97.4,573.4 98.0,573.8 98.5,574.1 99.1,573.9 99.6,574.5 100.1,574.3 100.6,574.7 101.1,575.1 101.6,575.0 102.1,575.7 102.7,576.0 103.3,576.1 103.9,576.3 104.6,576.5 105.4,576.9 106.2,577.0 106.7,577.1 107.1,577.4 107.6,577.7 108.1,577.8 108.6,577.6 109.1,578.2 109.7,578.2 110.2,578.2 110.8,578.8 111.4,578.7 112.0,578.8 112.6,578.8 113.2,579.5 113.8,579.7 114.4,579.8 115.0,579.7 115.7,579.9 116.3,580.4 116.9,580.6 117.6,580.6 118.2,580.6 118.9,580.7 119.5,580.9 120.2,581.4 120.8,581.5 121.5,581.8 122.0,581.6 122.6,581.9 123.1,581.7 123.7,582.1 124.2,581.9 124.8,582.2 125.4,582.0 125.9,582.6 126.5,582.5 127.0,582.7 127.6,582.9 128.2,582.7 128.8,582.8 129.3,583.3 129.9,583.1 130.5,583.2 131.1,583.6 131.7,583.4 132.3,583.5 132.9,583.5 133.5,583.4 134.1,583.8 134.8,584.1 135.4,584.2 136.0,584.3 136.7,584.2 137.3,584.3 138.0,584.4 138.6,584.4 139.3,584.5 140.0,584.7 140.5,584.6 141.1,584.5 141.7,584.9 142.3,584.7 142.9,584.7 143.5,585.0 144.2,585.0 144.8,585.0 145.5,585.3 146.2,585.1 146.9,585.2 147.6,585.3 148.2,585.5 148.9,585.6 149.7,585.9 150.4,585.9 151.1,586.1 151.8,586.0 152.5,585.8 153.2,586.3 153.8,586.2 154.5,586.5 155.2,586.1 155.9,586.5 156.5,586.7 157.2,586.6 157.8,586.6 158.4,586.9 159.0,586.7 159.6,586.8 160.1,586.8 160.6,587.2 161.2,586.9 161.6,587.3 162.1,586.9 162.5,587.3 163.0,587.2 163.3,587.3 163.7,587.0 164.0,587.3" fill="none" stroke="#38b04c" stroke-width="1.35" stroke-linejoin="round" stroke-linecap="round"/>
<polyline points="28.0,525.7 28.4,525.8 28.8,525.8 29.4,525.7 30.0,525.8 30.7,525.7 31.4,525.5 32.2,525.7 32.9,525.5 33.7,525.5 34.5,525.6 35.2,525.9 35.9,525.7 36.5,525.7 37.1,525.9 37.6,526.0 38.0,525.8 39.0,526.3 38.9,527.2 39.0,527.4 39.3,527.6 39.6,526.7 40.0,526.4 40.5,525.9 41.0,525.1 41.3,524.6 41.5,524.3 41.9,523.5 42.2,523.3 42.5,522.8 42.9,521.8 43.2,521.3 43.6,520.8 43.9,520.3 44.3,519.9 44.7,519.3 45.0,519.1 45.5,518.7 46.0,518.2 46.5,517.8 47.0,517.1 47.5,517.1 48.0,516.9 48.6,516.6 49.2,516.6 49.8,516.4 50.4,516.7 51.0,516.5 51.7,516.8 52.4,516.9 53.1,517.2 53.7,517.2 54.4,517.6 55.0,518.1 55.5,518.1 56.0,518.6 56.5,518.8 56.9,519.0 57.4,519.2 57.8,519.3 58.3,519.8 58.8,520.5 59.4,521.1 60.0,521.5 60.3,521.8 60.6,522.4 60.9,522.6 61.2,523.1 61.6,523.2 61.9,523.7 62.3,524.4 62.6,524.8 63.0,525.4 63.3,525.7 63.7,526.5 64.0,526.5 64.4,527.2 64.8,527.9 65.2,528.4 65.5,529.0 65.9,529.5 66.3,530.2 66.6,530.8 67.0,531.1 67.3,531.5 67.7,532.2 68.0,532.7 68.3,533.5 68.6,534.0 68.9,534.4 69.2,534.6 69.5,535.5 69.8,535.7 70.1,536.2 70.4,537.1 70.7,537.4 71.0,538.0 71.3,538.5 71.6,538.9 71.9,539.5 72.1,540.1 72.4,540.6 72.7,541.2 73.0,541.8 73.3,542.5 73.6,543.0 73.9,543.7 74.2,544.3 74.5,544.7 74.8,545.2 75.1,545.4 75.4,546.0 75.7,546.9 76.0,547.5 76.4,547.8 76.7,548.6 77.0,549.1 77.3,549.3 77.6,549.8 77.9,550.3 78.2,550.9 78.6,551.4 78.9,552.1 79.2,552.5 79.5,553.4 79.8,553.7 80.1,554.2 80.5,554.8 80.8,555.2 81.1,555.9 81.4,556.0 81.7,556.6 82.0,557.2 82.4,557.8 82.7,558.0 83.0,558.4 83.4,558.9 83.8,559.7 84.2,560.1 84.5,560.4 84.9,561.3 85.3,561.3 85.7,562.0 86.1,562.6 86.5,563.1 86.9,563.4 87.3,563.9 87.7,564.4 88.1,564.5 88.5,565.3 88.9,565.7 89.2,566.0 89.6,566.2 90.0,566.7 90.4,567.4 90.8,567.5 91.2,567.9 91.7,568.4 92.1,569.1 92.5,569.5 92.9,569.9 93.4,570.5 93.8,571.0 94.2,571.6 94.7,572.0 95.1,572.1 95.5,572.7 95.9,572.8 96.4,573.4 96.8,573.9 97.2,574.1 97.6,574.8 98.1,575.2 98.5,575.5 99.0,575.9 99.5,576.2 99.9,576.7 100.4,577.0 100.8,577.2 101.2,577.7 101.7,578.1 102.1,578.3 102.6,578.3 103.1,579.1 103.6,579.2 104.2,579.5 104.8,580.2 105.5,580.4 106.2,580.7 106.6,580.8 107.0,581.5 107.5,581.7 107.9,581.9 108.3,582.0 108.8,582.3 109.3,582.9 109.8,583.2 110.3,583.3 110.8,583.4 111.3,583.7 111.8,584.0 112.4,584.7 112.9,585.0 113.4,585.3 114.0,585.4 114.6,585.9 115.1,585.9 115.7,586.4 116.3,586.5 116.8,586.9 117.4,587.0 118.0,587.7 118.6,587.9 119.2,588.2 119.7,588.6 120.3,588.6 120.9,588.8 121.5,589.4 122.0,589.4 122.6,589.6 123.1,590.1 123.6,590.1 124.2,590.3 124.7,590.4 125.2,590.5 125.8,591.0 126.3,591.3 126.9,591.5 127.4,591.7 128.0,591.7 128.5,591.9 129.1,592.1 129.6,592.3 130.2,592.5 130.8,592.7 131.4,592.8 131.9,592.8 132.5,593.3 133.1,593.2 133.7,593.4 134.3,593.7 134.9,593.8 135.5,593.9 136.1,594.3 136.8,594.2 137.4,594.5 138.0,594.6 138.7,595.0 139.3,595.2 140.0,595.5 140.5,595.6 141.1,595.8 141.6,595.9 142.2,595.8 142.8,596.3 143.4,596.3 144.1,596.7 144.7,596.4 145.4,596.9 146.0,597.2 146.7,597.1 147.3,597.3 148.0,597.6 148.7,597.6 149.4,597.8 150.1,597.9 150.8,598.3 151.5,598.2 152.1,598.6 152.8,598.4 153.5,598.9 154.2,598.9 154.8,599.2 155.5,599.0 156.1,599.4 156.8,599.8 157.4,599.6 158.0,599.6 158.6,600.0 159.1,599.9 159.7,600.1 160.2,600.4 160.7,600.4 161.2,600.7 161.7,600.8 162.2,600.7 162.6,600.9 163.0,601.2 163.4,600.8 163.7,601.2 164.0,601.2" fill="none" stroke="#c4122f" stroke-width="1.35" stroke-linejoin="round" stroke-linecap="round"/>
<polygon points="37.7,511 39.3,511 39.1,525 38.1,525" fill="#185488"/>
<line x1="39.7" y1="558.8" x2="39.7" y2="535.1" stroke="#555" stroke-width="0.9"/>
<polygon points="39.7,532 42.2,535.6 37.2,535.6" fill="#1a1a1a"/>
</g>
<line x1="22.8" y1="195.8" x2="26.3" y2="195.8" stroke="#2b2b2b" stroke-width="0.9"/>
<text x="20.6" y="198.7" font-size="8.2" text-anchor="end" textLength="12" lengthAdjust="spacingAndGlyphs">100</text>
<line x1="22.8" y1="423" x2="26.3" y2="423" stroke="#2b2b2b" stroke-width="0.9"/>
<text x="20.6" y="425.9" font-size="8.2" text-anchor="end" textLength="12" lengthAdjust="spacingAndGlyphs">100</text>
<line x1="22.8" y1="649.7" x2="26.3" y2="649.7" stroke="#2b2b2b" stroke-width="0.9"/>
<text x="20.6" y="652.6" font-size="8.2" text-anchor="end" textLength="12" lengthAdjust="spacingAndGlyphs">100</text>
<text x="109" y="80.9" font-size="8.2" textLength="38.3" lengthAdjust="spacingAndGlyphs">ERp46-null</text>
<line x1="167.2" y1="91" x2="169.6" y2="91" stroke="#2b2b2b" stroke-width="0.8"/>
<path d="M173.8,74.3 H171.2 V107.2 H173.8" fill="none" stroke="#231f20" stroke-width="0.9"/>
<text x="175" y="83.8" font-size="8.4" textLength="23" lengthAdjust="spacingAndGlyphs">ERp72</text>
<text x="175" y="93.3" font-size="8.4" textLength="11.9" lengthAdjust="spacingAndGlyphs">PDI</text>
<text x="175" y="103.1" font-size="8.4" textLength="23" lengthAdjust="spacingAndGlyphs">ERp57</text>
<text x="167.7" y="128.9" font-size="8.4" textLength="22.7" lengthAdjust="spacingAndGlyphs">ERp46</text>
<text x="52.3" y="135.1" font-size="8.3" textLength="23.4" lengthAdjust="spacingAndGlyphs">ERp46</text>
<text x="76.3" y="132.5" font-size="5.4" textLength="7.2" lengthAdjust="spacingAndGlyphs">fl/fl</text>
<text x="118.8" y="204.2" font-size="8.2" textLength="37.2" lengthAdjust="spacingAndGlyphs">ERp46-null</text>
<line x1="168.7" y1="160.4" x2="168.7" y2="196.8" stroke="#2b2b2b" stroke-width="0.9"/>
<line x1="166.7" y1="160.4" x2="170.7" y2="160.4" stroke="#2b2b2b" stroke-width="0.9"/>
<line x1="166.7" y1="196.8" x2="170.7" y2="196.8" stroke="#2b2b2b" stroke-width="0.9"/>
<text x="173.5" y="178.5" font-size="8.2" textLength="27.8" lengthAdjust="spacingAndGlyphs">1 nmole</text>
<text x="179.7" y="187.9" font-size="8.2" textLength="14.4" lengthAdjust="spacingAndGlyphs">ATP</text>
<line x1="168.7" y1="385.7" x2="168.7" y2="422.4" stroke="#2b2b2b" stroke-width="0.9"/>
<line x1="166.7" y1="385.7" x2="170.7" y2="385.7" stroke="#2b2b2b" stroke-width="0.9"/>
<line x1="166.7" y1="422.4" x2="170.7" y2="422.4" stroke="#2b2b2b" stroke-width="0.9"/>
<text x="173.5" y="403.95" font-size="8.2" textLength="27.8" lengthAdjust="spacingAndGlyphs">1 nmole</text>
<text x="179.7" y="413.35" font-size="8.2" textLength="14.4" lengthAdjust="spacingAndGlyphs">ATP</text>
<line x1="167.8" y1="612.7" x2="167.8" y2="648.8" stroke="#2b2b2b" stroke-width="0.9"/>
<line x1="165.8" y1="612.7" x2="169.8" y2="612.7" stroke="#2b2b2b" stroke-width="0.9"/>
<line x1="165.8" y1="648.8" x2="169.8" y2="648.8" stroke="#2b2b2b" stroke-width="0.9"/>
<text x="173.5" y="630.65" font-size="8.2" textLength="27.8" lengthAdjust="spacingAndGlyphs">1 nmole</text>
<text x="179.7" y="640.05" font-size="8.2" textLength="14.4" lengthAdjust="spacingAndGlyphs">ATP</text>
<line x1="241.6" y1="71.5" x2="241.6" y2="191.75" stroke="#231f20" stroke-width="1.15"/>
<line x1="238.4" y1="191.2" x2="241.6" y2="191.2" stroke="#231f20" stroke-width="1"/>
<text x="235.9" y="194.15" font-size="8.3" text-anchor="end" textLength="4.3" lengthAdjust="spacingAndGlyphs">0</text>
<line x1="238.4" y1="152.6" x2="241.6" y2="152.6" stroke="#231f20" stroke-width="1"/>
<text x="235.9" y="155.55" font-size="8.3" text-anchor="end" textLength="8.9" lengthAdjust="spacingAndGlyphs">20</text>
<line x1="238.4" y1="114.1" x2="241.6" y2="114.1" stroke="#231f20" stroke-width="1"/>
<text x="235.9" y="117.05" font-size="8.3" text-anchor="end" textLength="8.9" lengthAdjust="spacingAndGlyphs">40</text>
<line x1="238.4" y1="75.4" x2="241.6" y2="75.4" stroke="#231f20" stroke-width="1"/>
<text x="235.9" y="78.35" font-size="8.3" text-anchor="end" textLength="8.9" lengthAdjust="spacingAndGlyphs">60</text>
<text x="220.7" y="133.2" font-size="8.4" text-anchor="middle" textLength="49.3" lengthAdjust="spacingAndGlyphs" transform="rotate(-90 220.7 133.2)">% Aggregation</text>
<rect x="247.75" y="96.9" width="12.1" height="94.3" fill="#de8795"/>
<rect x="266.15" y="168.8" width="12.1" height="22.4" fill="#89a7c0"/>
<rect x="284.45" y="166.2" width="12.1" height="25" fill="#fadc8c"/>
<rect x="302.85" y="160.8" width="12.1" height="30.4" fill="#82b2a6"/>
<rect x="321.05" y="166.2" width="12.1" height="25" fill="#c3c0de"/>
<rect x="339.65" y="113.9" width="12.1" height="77.3" fill="#a0daa6"/>
<line x1="253.8" y1="90.2" x2="253.8" y2="103.8" stroke="#c8102e" stroke-width="0.95"/>
<line x1="251" y1="90.2" x2="256.6" y2="90.2" stroke="#c8102e" stroke-width="0.95"/>
<line x1="251" y1="103.8" x2="256.6" y2="103.8" stroke="#c8102e" stroke-width="0.95"/>
<circle cx="253.6" cy="90.8" r="1.95" fill="#c8102e"/>
<circle cx="258.2" cy="89.2" r="1.95" fill="#c8102e"/>
<circle cx="253.6" cy="110" r="1.95" fill="#c8102e"/>
<line x1="272.2" y1="167.3" x2="272.2" y2="170.8" stroke="#174f8a" stroke-width="0.95"/>
<line x1="269.4" y1="167.3" x2="275" y2="167.3" stroke="#174f8a" stroke-width="0.95"/>
<line x1="269.4" y1="170.8" x2="275" y2="170.8" stroke="#174f8a" stroke-width="0.95"/>
<rect x="274.9" y="164.6" width="3.2" height="3.2" fill="#174f8a"/>
<rect x="270.2" y="166.3" width="3.2" height="3.2" fill="#174f8a"/>
<rect x="270.2" y="170.7" width="3.2" height="3.2" fill="#174f8a"/>
<line x1="290.5" y1="163.5" x2="290.5" y2="169.2" stroke="#f6b21a" stroke-width="0.95"/>
<line x1="287.7" y1="163.5" x2="293.3" y2="163.5" stroke="#f6b21a" stroke-width="0.95"/>
<line x1="287.7" y1="169.2" x2="293.3" y2="169.2" stroke="#f6b21a" stroke-width="0.95"/>
<polygon points="290.5,158.5 292.7,162.2 288.3,162.2" fill="#f6b21a"/>
<polygon points="285,168.3 287.2,172 282.8,172" fill="#f6b21a"/>
<polygon points="295.5,166.5 297.7,170.2 293.3,170.2" fill="#f6b21a"/>
<line x1="308.9" y1="158.5" x2="308.9" y2="162.5" stroke="#137553" stroke-width="0.95"/>
<line x1="306.1" y1="158.5" x2="311.7" y2="158.5" stroke="#137553" stroke-width="0.95"/>
<line x1="306.1" y1="162.5" x2="311.7" y2="162.5" stroke="#137553" stroke-width="0.95"/>
<circle cx="308.8" cy="156.5" r="1.45" fill="none" stroke="#137553" stroke-width="0.95"/>
<circle cx="308.8" cy="160.4" r="1.45" fill="none" stroke="#137553" stroke-width="0.95"/>
<circle cx="308.8" cy="164.2" r="1.45" fill="none" stroke="#137553" stroke-width="0.95"/>
<line x1="327.1" y1="161.3" x2="327.1" y2="170.5" stroke="#7b6ec3" stroke-width="0.95"/>
<line x1="324.3" y1="161.3" x2="329.9" y2="161.3" stroke="#7b6ec3" stroke-width="0.95"/>
<line x1="324.3" y1="170.5" x2="329.9" y2="170.5" stroke="#7b6ec3" stroke-width="0.95"/>
<line x1="325.4" y1="154.7" x2="328.8" y2="158.1" stroke="#7b6ec3" stroke-width="0.9"/>
<line x1="325.4" y1="158.1" x2="328.8" y2="154.7" stroke="#7b6ec3" stroke-width="0.9"/>
<line x1="325.4" y1="166.4" x2="328.8" y2="169.8" stroke="#7b6ec3" stroke-width="0.9"/>
<line x1="325.4" y1="169.8" x2="328.8" y2="166.4" stroke="#7b6ec3" stroke-width="0.9"/>
<line x1="325.4" y1="169.8" x2="328.8" y2="173.2" stroke="#7b6ec3" stroke-width="0.9"/>
<line x1="325.4" y1="173.2" x2="328.8" y2="169.8" stroke="#7b6ec3" stroke-width="0.9"/>
<line x1="345.7" y1="109.4" x2="345.7" y2="118.6" stroke="#2db14a" stroke-width="0.95"/>
<line x1="342.9" y1="109.4" x2="348.5" y2="109.4" stroke="#2db14a" stroke-width="0.95"/>
<line x1="342.9" y1="118.6" x2="348.5" y2="118.6" stroke="#2db14a" stroke-width="0.95"/>
<polygon points="345.5,108.5 347.8,104.8 343.2,104.8" fill="#2db14a"/>
<polygon points="345.5,118.1 347.8,114.4 343.2,114.4" fill="#2db14a"/>
<polygon points="345.5,121.3 347.8,117.6 343.2,117.6" fill="#2db14a"/>
<line x1="241.6" y1="191.2" x2="355.2" y2="191.2" stroke="#231f20" stroke-width="1.2"/>
<line x1="253.8" y1="191.2" x2="253.8" y2="194.4" stroke="#231f20" stroke-width="1"/>
<line x1="272.2" y1="191.2" x2="272.2" y2="194.4" stroke="#231f20" stroke-width="1"/>
<line x1="290.5" y1="191.2" x2="290.5" y2="194.4" stroke="#231f20" stroke-width="1"/>
<line x1="308.9" y1="191.2" x2="308.9" y2="194.4" stroke="#231f20" stroke-width="1"/>
<line x1="327.1" y1="191.2" x2="327.1" y2="194.4" stroke="#231f20" stroke-width="1"/>
<line x1="345.7" y1="191.2" x2="345.7" y2="194.4" stroke="#231f20" stroke-width="1"/>
<line x1="273.4" y1="71.1" x2="349.2" y2="71.1" stroke="#3a3a3a" stroke-width="1.05"/>
<circle cx="306.39" cy="68.2" r="1.05" fill="#2a2a2a"/>
<circle cx="309.66" cy="68.2" r="1.05" fill="#2a2a2a"/>
<circle cx="312.93" cy="68.2" r="1.05" fill="#2a2a2a"/>
<circle cx="316.2" cy="68.2" r="1.05" fill="#2a2a2a"/>
<line x1="255.2" y1="82.7" x2="275.1" y2="82.7" stroke="#3a3a3a" stroke-width="1.05"/>
<circle cx="260.25" cy="79.8" r="1.05" fill="#2a2a2a"/>
<circle cx="263.51" cy="79.8" r="1.05" fill="#2a2a2a"/>
<circle cx="266.78" cy="79.8" r="1.05" fill="#2a2a2a"/>
<circle cx="270.05" cy="79.8" r="1.05" fill="#2a2a2a"/>
<line x1="292.8" y1="81.7" x2="349.2" y2="81.7" stroke="#3a3a3a" stroke-width="1.05"/>
<circle cx="316.1" cy="78.8" r="1.05" fill="#2a2a2a"/>
<circle cx="319.37" cy="78.8" r="1.05" fill="#2a2a2a"/>
<circle cx="322.63" cy="78.8" r="1.05" fill="#2a2a2a"/>
<circle cx="325.9" cy="78.8" r="1.05" fill="#2a2a2a"/>
<line x1="311.8" y1="91.4" x2="349.2" y2="91.4" stroke="#3a3a3a" stroke-width="1.05"/>
<circle cx="325.6" cy="88.5" r="1.05" fill="#2a2a2a"/>
<circle cx="328.87" cy="88.5" r="1.05" fill="#2a2a2a"/>
<circle cx="332.13" cy="88.5" r="1.05" fill="#2a2a2a"/>
<circle cx="335.4" cy="88.5" r="1.05" fill="#2a2a2a"/>
<line x1="329.2" y1="101.2" x2="349.2" y2="101.2" stroke="#3a3a3a" stroke-width="1.05"/>
<circle cx="334.3" cy="98.3" r="1.05" fill="#2a2a2a"/>
<circle cx="337.56" cy="98.3" r="1.05" fill="#2a2a2a"/>
<circle cx="340.83" cy="98.3" r="1.05" fill="#2a2a2a"/>
<circle cx="344.1" cy="98.3" r="1.05" fill="#2a2a2a"/>
<g transform="translate(257.7 203.1) rotate(-45)">
<text x="-7.4" y="0" font-size="8.8" text-anchor="end" textLength="23.5" lengthAdjust="spacingAndGlyphs">ERp46</text>
<text x="0" y="-3.4" font-size="5.6" text-anchor="end" textLength="7.4" lengthAdjust="spacingAndGlyphs">fl/fl</text>
</g>
<g transform="translate(294 202.2) rotate(-45)">
<text x="0" y="0" font-size="8.8" text-anchor="end" textLength="12" lengthAdjust="spacingAndGlyphs">PDI</text>
</g>
<g transform="translate(312.4 202.2) rotate(-45)">
<text x="0" y="0" font-size="8.8" text-anchor="end" textLength="22" lengthAdjust="spacingAndGlyphs">ERp57</text>
</g>
<g transform="translate(330.6 202.2) rotate(-45)">
<text x="0" y="0" font-size="8.8" text-anchor="end" textLength="22" lengthAdjust="spacingAndGlyphs">ERp72</text>
</g>
<g transform="translate(349.2 202.2) rotate(-45)">
<text x="0" y="0" font-size="8.8" text-anchor="end" textLength="22" lengthAdjust="spacingAndGlyphs">ERp46</text>
</g>
<line x1="271.8" y1="224.5" x2="347" y2="224.5" stroke="#3a3a3a" stroke-width="1.2"/>
<text x="281.1" y="236.2" font-size="9.4" textLength="48.4" lengthAdjust="spacingAndGlyphs">Pf4-Cre/ERp46</text>
<text x="330.2" y="232.8" font-size="6.5" textLength="7.4" lengthAdjust="spacingAndGlyphs">fl/fl</text>
<line x1="398.2" y1="72" x2="398.2" y2="191.75" stroke="#231f20" stroke-width="1.15"/>
<line x1="395" y1="191.2" x2="398.2" y2="191.2" stroke="#231f20" stroke-width="1"/>
<text x="392.6" y="194.15" font-size="8.3" text-anchor="end" textLength="11.4" lengthAdjust="spacingAndGlyphs">0.0</text>
<line x1="395" y1="152.7" x2="398.2" y2="152.7" stroke="#231f20" stroke-width="1"/>
<text x="392.6" y="155.65" font-size="8.3" text-anchor="end" textLength="11.4" lengthAdjust="spacingAndGlyphs">0.5</text>
<line x1="395" y1="114.2" x2="398.2" y2="114.2" stroke="#231f20" stroke-width="1"/>
<text x="392.6" y="117.15" font-size="8.3" text-anchor="end" textLength="11.4" lengthAdjust="spacingAndGlyphs">1.0</text>
<line x1="395" y1="75.7" x2="398.2" y2="75.7" stroke="#231f20" stroke-width="1"/>
<text x="392.6" y="78.65" font-size="8.3" text-anchor="end" textLength="11.4" lengthAdjust="spacingAndGlyphs">1.5</text>
<text x="376.2" y="133.5" font-size="8.4" text-anchor="middle" textLength="75.6" lengthAdjust="spacingAndGlyphs" transform="rotate(-90 376.2 133.5)">ATP secretion (nmoles)</text>
<rect x="404.25" y="105.8" width="12.1" height="85.4" fill="#de8795"/>
<rect x="422.85" y="173.5" width="12.1" height="17.7" fill="#89a7c0"/>
<rect x="441.05" y="165.8" width="12.1" height="25.4" fill="#fadc8c"/>
<rect x="459.55" y="170.1" width="12.1" height="21.1" fill="#82b2a6"/>
<rect x="477.95" y="168.1" width="12.1" height="23.1" fill="#c3c0de"/>
<rect x="496.25" y="120.2" width="12.1" height="71" fill="#a0daa6"/>
<line x1="410.3" y1="93.5" x2="410.3" y2="117.4" stroke="#c8102e" stroke-width="0.95"/>
<line x1="407.4" y1="93.5" x2="413.2" y2="93.5" stroke="#c8102e" stroke-width="0.95"/>
<line x1="407.4" y1="117.4" x2="413.2" y2="117.4" stroke="#c8102e" stroke-width="0.95"/>
<circle cx="410.4" cy="93.9" r="1.95" fill="#c8102e"/>
<circle cx="415" cy="93.9" r="1.95" fill="#c8102e"/>
<circle cx="410.4" cy="129.7" r="1.95" fill="#c8102e"/>
<line x1="428.9" y1="169.1" x2="428.9" y2="177.8" stroke="#174f8a" stroke-width="0.95"/>
<line x1="426" y1="169.1" x2="431.8" y2="169.1" stroke="#174f8a" stroke-width="0.95"/>
<line x1="426" y1="177.8" x2="431.8" y2="177.8" stroke="#174f8a" stroke-width="0.95"/>
<rect x="427.2" y="163.8" width="3.2" height="3.2" fill="#174f8a"/>
<rect x="427.2" y="171.6" width="3.2" height="3.2" fill="#174f8a"/>
<rect x="427.2" y="179.9" width="3.2" height="3.2" fill="#174f8a"/>
<line x1="447.1" y1="161.2" x2="447.1" y2="170" stroke="#f6b21a" stroke-width="0.95"/>
<line x1="444.2" y1="161.2" x2="450" y2="161.2" stroke="#f6b21a" stroke-width="0.95"/>
<line x1="444.2" y1="170" x2="450" y2="170" stroke="#f6b21a" stroke-width="0.95"/>
<polygon points="447.1,156.2 449.3,159.9 444.9,159.9" fill="#f6b21a"/>
<polygon points="447.1,164.4 449.3,168.1 444.9,168.1" fill="#f6b21a"/>
<polygon points="447.1,171.4 449.3,175.1 444.9,175.1" fill="#f6b21a"/>
<line x1="465.6" y1="168.3" x2="465.6" y2="172" stroke="#137553" stroke-width="0.95"/>
<line x1="462.7" y1="168.3" x2="468.5" y2="168.3" stroke="#137553" stroke-width="0.95"/>
<line x1="462.7" y1="172" x2="468.5" y2="172" stroke="#137553" stroke-width="0.95"/>
<circle cx="465" cy="168.5" r="1.45" fill="none" stroke="#137553" stroke-width="0.95"/>
<circle cx="469.8" cy="168.2" r="1.45" fill="none" stroke="#137553" stroke-width="0.95"/>
<circle cx="465" cy="173.3" r="1.45" fill="none" stroke="#137553" stroke-width="0.95"/>
<line x1="484" y1="165" x2="484" y2="170.8" stroke="#7b6ec3" stroke-width="0.95"/>
<line x1="481.1" y1="165" x2="486.9" y2="165" stroke="#7b6ec3" stroke-width="0.95"/>
<line x1="481.1" y1="170.8" x2="486.9" y2="170.8" stroke="#7b6ec3" stroke-width="0.95"/>
<line x1="482.1" y1="161" x2="485.5" y2="164.4" stroke="#7b6ec3" stroke-width="0.9"/>
<line x1="482.1" y1="164.4" x2="485.5" y2="161" stroke="#7b6ec3" stroke-width="0.9"/>
<line x1="482.1" y1="166.8" x2="485.5" y2="170.2" stroke="#7b6ec3" stroke-width="0.9"/>
<line x1="482.1" y1="170.2" x2="485.5" y2="166.8" stroke="#7b6ec3" stroke-width="0.9"/>
<line x1="482.1" y1="171.8" x2="485.5" y2="175.2" stroke="#7b6ec3" stroke-width="0.9"/>
<line x1="482.1" y1="175.2" x2="485.5" y2="171.8" stroke="#7b6ec3" stroke-width="0.9"/>
<line x1="502.3" y1="109.2" x2="502.3" y2="131.6" stroke="#2db14a" stroke-width="0.95"/>
<line x1="499.4" y1="109.2" x2="505.2" y2="109.2" stroke="#2db14a" stroke-width="0.95"/>
<line x1="499.4" y1="131.6" x2="505.2" y2="131.6" stroke="#2db14a" stroke-width="0.95"/>
<polygon points="502.2,106.1 504.5,102.4 499.9,102.4" fill="#2db14a"/>
<polygon points="502.2,115.7 504.5,112 499.9,112" fill="#2db14a"/>
<polygon points="502.2,144.4 504.5,140.7 499.9,140.7" fill="#2db14a"/>
<line x1="398.2" y1="191.2" x2="511.5" y2="191.2" stroke="#231f20" stroke-width="1.2"/>
<line x1="410.3" y1="191.2" x2="410.3" y2="194.4" stroke="#231f20" stroke-width="1"/>
<line x1="428.9" y1="191.2" x2="428.9" y2="194.4" stroke="#231f20" stroke-width="1"/>
<line x1="447.1" y1="191.2" x2="447.1" y2="194.4" stroke="#231f20" stroke-width="1"/>
<line x1="465.6" y1="191.2" x2="465.6" y2="194.4" stroke="#231f20" stroke-width="1"/>
<line x1="484" y1="191.2" x2="484" y2="194.4" stroke="#231f20" stroke-width="1"/>
<line x1="502.3" y1="191.2" x2="502.3" y2="194.4" stroke="#231f20" stroke-width="1"/>
<line x1="429.6" y1="69.5" x2="505.7" y2="69.5" stroke="#3a3a3a" stroke-width="1.05"/>
<circle cx="466.01" cy="66.6" r="1.05" fill="#2a2a2a"/>
<circle cx="469.28" cy="66.6" r="1.05" fill="#2a2a2a"/>
<line x1="411.2" y1="80.5" x2="431.2" y2="80.5" stroke="#3a3a3a" stroke-width="1.05"/>
<circle cx="417.93" cy="77.6" r="1.05" fill="#2a2a2a"/>
<circle cx="421.2" cy="77.6" r="1.05" fill="#2a2a2a"/>
<circle cx="424.47" cy="77.6" r="1.05" fill="#2a2a2a"/>
<line x1="448.8" y1="80" x2="505.7" y2="80" stroke="#3a3a3a" stroke-width="1.05"/>
<circle cx="475.62" cy="77.1" r="1.05" fill="#2a2a2a"/>
<circle cx="478.88" cy="77.1" r="1.05" fill="#2a2a2a"/>
<line x1="468" y1="89.2" x2="505.7" y2="89.2" stroke="#3a3a3a" stroke-width="1.05"/>
<circle cx="485.22" cy="86.3" r="1.05" fill="#2a2a2a"/>
<circle cx="488.49" cy="86.3" r="1.05" fill="#2a2a2a"/>
<line x1="485.4" y1="99.4" x2="505.7" y2="99.4" stroke="#3a3a3a" stroke-width="1.05"/>
<circle cx="493.91" cy="96.5" r="1.05" fill="#2a2a2a"/>
<circle cx="497.18" cy="96.5" r="1.05" fill="#2a2a2a"/>
<g transform="translate(414.2 203.1) rotate(-45)">
<text x="-7.4" y="0" font-size="8.8" text-anchor="end" textLength="23.5" lengthAdjust="spacingAndGlyphs">ERp46</text>
<text x="0" y="-3.4" font-size="5.6" text-anchor="end" textLength="7.4" lengthAdjust="spacingAndGlyphs">fl/fl</text>
</g>
<g transform="translate(450.6 202.2) rotate(-45)">
<text x="0" y="0" font-size="8.8" text-anchor="end" textLength="12" lengthAdjust="spacingAndGlyphs">PDI</text>
</g>
<g transform="translate(469.1 202.2) rotate(-45)">
<text x="0" y="0" font-size="8.8" text-anchor="end" textLength="22" lengthAdjust="spacingAndGlyphs">ERp57</text>
</g>
<g transform="translate(487.5 202.2) rotate(-45)">
<text x="0" y="0" font-size="8.8" text-anchor="end" textLength="22" lengthAdjust="spacingAndGlyphs">ERp72</text>
</g>
<g transform="translate(505.8 202.2) rotate(-45)">
<text x="0" y="0" font-size="8.8" text-anchor="end" textLength="22" lengthAdjust="spacingAndGlyphs">ERp46</text>
</g>
<line x1="428" y1="224.5" x2="503.7" y2="224.5" stroke="#3a3a3a" stroke-width="1.2"/>
<text x="438" y="236.2" font-size="9.4" textLength="48.6" lengthAdjust="spacingAndGlyphs">Pf4-Cre/ERp46</text>
<text x="486.9" y="233.6" font-size="6.5" textLength="7.7" lengthAdjust="spacingAndGlyphs">fl/fl</text>
<line x1="241.6" y1="301" x2="241.6" y2="421.15" stroke="#231f20" stroke-width="1.15"/>
<line x1="238.4" y1="420.6" x2="241.6" y2="420.6" stroke="#231f20" stroke-width="1"/>
<text x="235.9" y="423.55" font-size="8.3" text-anchor="end" textLength="4.3" lengthAdjust="spacingAndGlyphs">0</text>
<line x1="238.4" y1="397.5" x2="241.6" y2="397.5" stroke="#231f20" stroke-width="1"/>
<text x="235.9" y="400.45" font-size="8.3" text-anchor="end" textLength="8.9" lengthAdjust="spacingAndGlyphs">20</text>
<line x1="238.4" y1="374.4" x2="241.6" y2="374.4" stroke="#231f20" stroke-width="1"/>
<text x="235.9" y="377.35" font-size="8.3" text-anchor="end" textLength="8.9" lengthAdjust="spacingAndGlyphs">40</text>
<line x1="238.4" y1="351.3" x2="241.6" y2="351.3" stroke="#231f20" stroke-width="1"/>
<text x="235.9" y="354.25" font-size="8.3" text-anchor="end" textLength="8.9" lengthAdjust="spacingAndGlyphs">60</text>
<line x1="238.4" y1="328.2" x2="241.6" y2="328.2" stroke="#231f20" stroke-width="1"/>
<text x="235.9" y="331.15" font-size="8.3" text-anchor="end" textLength="8.9" lengthAdjust="spacingAndGlyphs">80</text>
<line x1="238.4" y1="305.1" x2="241.6" y2="305.1" stroke="#231f20" stroke-width="1"/>
<text x="235.9" y="308.05" font-size="8.3" text-anchor="end" textLength="12.8" lengthAdjust="spacingAndGlyphs">100</text>
<text x="220.7" y="362.6" font-size="8.4" text-anchor="middle" textLength="49.3" lengthAdjust="spacingAndGlyphs" transform="rotate(-90 220.7 362.6)">% Aggregation</text>
<rect x="255.05" y="334.9" width="17.3" height="85.7" fill="#de8795"/>
<rect x="281.35" y="392" width="17.3" height="28.6" fill="#89a7c0"/>
<rect x="307.85" y="389.8" width="17.3" height="30.8" fill="#c3c0de"/>
<rect x="334.35" y="343.4" width="17.3" height="77.2" fill="#a0daa6"/>
<line x1="263.7" y1="329.5" x2="263.7" y2="340" stroke="#c8102e" stroke-width="0.95"/>
<line x1="259.6" y1="329.5" x2="267.8" y2="329.5" stroke="#c8102e" stroke-width="0.95"/>
<line x1="259.6" y1="340" x2="267.8" y2="340" stroke="#c8102e" stroke-width="0.95"/>
<circle cx="256.2" cy="322.3" r="1.95" fill="#c8102e"/>
<circle cx="263.6" cy="325.8" r="1.95" fill="#c8102e"/>
<circle cx="263.6" cy="330.5" r="1.95" fill="#c8102e"/>
<circle cx="263.6" cy="344.6" r="1.95" fill="#c8102e"/>
<circle cx="263.6" cy="350.3" r="1.95" fill="#c8102e"/>
<line x1="290" y1="388.5" x2="290" y2="395.5" stroke="#174f8a" stroke-width="0.95"/>
<line x1="285.9" y1="388.5" x2="294.1" y2="388.5" stroke="#174f8a" stroke-width="0.95"/>
<line x1="285.9" y1="395.5" x2="294.1" y2="395.5" stroke="#174f8a" stroke-width="0.95"/>
<rect x="285.9" y="376.4" width="3.2" height="3.2" fill="#174f8a"/>
<rect x="281.2" y="395.2" width="3.2" height="3.2" fill="#174f8a"/>
<rect x="285.9" y="392.4" width="3.2" height="3.2" fill="#174f8a"/>
<rect x="290.6" y="395.2" width="3.2" height="3.2" fill="#174f8a"/>
<line x1="316.5" y1="384.5" x2="316.5" y2="394.3" stroke="#7b6ec3" stroke-width="0.95"/>
<line x1="312.4" y1="384.5" x2="320.6" y2="384.5" stroke="#7b6ec3" stroke-width="0.95"/>
<line x1="312.4" y1="394.3" x2="320.6" y2="394.3" stroke="#7b6ec3" stroke-width="0.95"/>
<polygon points="316.5,371.7 318.7,375.4 314.3,375.4" fill="#7b6ec3"/>
<polygon points="316.5,380.7 318.7,384.4 314.3,384.4" fill="#7b6ec3"/>
<polygon points="309,396.9 311.2,400.6 306.8,400.6" fill="#7b6ec3"/>
<polygon points="316.5,393.9 318.7,397.6 314.3,397.6" fill="#7b6ec3"/>
<polygon points="323.5,394.9 325.7,398.6 321.3,398.6" fill="#7b6ec3"/>
<line x1="343" y1="339" x2="343" y2="348.5" stroke="#2db14a" stroke-width="0.95"/>
<line x1="338.9" y1="339" x2="347.1" y2="339" stroke="#2db14a" stroke-width="0.95"/>
<line x1="338.9" y1="348.5" x2="347.1" y2="348.5" stroke="#2db14a" stroke-width="0.95"/>
<polygon points="342.8,327.05 344.95,329.2 342.8,331.35 340.65,329.2" fill="#2db14a"/>
<polygon points="342.8,334.05 344.95,336.2 342.8,338.35 340.65,336.2" fill="#2db14a"/>
<polygon points="342.8,346.35 344.95,348.5 342.8,350.65 340.65,348.5" fill="#2db14a"/>
<polygon points="350,346.85 352.15,349 350,351.15 347.85,349" fill="#2db14a"/>
<polygon points="342.8,351.25 344.95,353.4 342.8,355.55 340.65,353.4" fill="#2db14a"/>
<line x1="241.6" y1="420.6" x2="355.2" y2="420.6" stroke="#231f20" stroke-width="1.2"/>
<line x1="263.7" y1="420.6" x2="263.7" y2="423.8" stroke="#231f20" stroke-width="1"/>
<line x1="290" y1="420.6" x2="290" y2="423.8" stroke="#231f20" stroke-width="1"/>
<line x1="316.5" y1="420.6" x2="316.5" y2="423.8" stroke="#231f20" stroke-width="1"/>
<line x1="343" y1="420.6" x2="343" y2="423.8" stroke="#231f20" stroke-width="1"/>
<line x1="264.2" y1="298" x2="321" y2="298" stroke="#3a3a3a" stroke-width="1.05"/>
<circle cx="287.7" cy="295.1" r="1.05" fill="#2a2a2a"/>
<circle cx="290.97" cy="295.1" r="1.05" fill="#2a2a2a"/>
<circle cx="294.24" cy="295.1" r="1.05" fill="#2a2a2a"/>
<circle cx="297.5" cy="295.1" r="1.05" fill="#2a2a2a"/>
<line x1="290.5" y1="309.5" x2="347.2" y2="309.5" stroke="#3a3a3a" stroke-width="1.05"/>
<circle cx="313.95" cy="306.6" r="1.05" fill="#2a2a2a"/>
<circle cx="317.22" cy="306.6" r="1.05" fill="#2a2a2a"/>
<circle cx="320.49" cy="306.6" r="1.05" fill="#2a2a2a"/>
<circle cx="323.75" cy="306.6" r="1.05" fill="#2a2a2a"/>
<line x1="264.2" y1="318.9" x2="294" y2="318.9" stroke="#3a3a3a" stroke-width="1.05"/>
<circle cx="274.2" cy="316" r="1.05" fill="#2a2a2a"/>
<circle cx="277.47" cy="316" r="1.05" fill="#2a2a2a"/>
<circle cx="280.74" cy="316" r="1.05" fill="#2a2a2a"/>
<circle cx="284" cy="316" r="1.05" fill="#2a2a2a"/>
<line x1="317.2" y1="320.2" x2="347.2" y2="320.2" stroke="#3a3a3a" stroke-width="1.05"/>
<circle cx="327.3" cy="317.3" r="1.05" fill="#2a2a2a"/>
<circle cx="330.56" cy="317.3" r="1.05" fill="#2a2a2a"/>
<circle cx="333.83" cy="317.3" r="1.05" fill="#2a2a2a"/>
<circle cx="337.1" cy="317.3" r="1.05" fill="#2a2a2a"/>
<g transform="translate(267.6 432.5) rotate(-45)">
<text x="-7.4" y="0" font-size="8.8" text-anchor="end" textLength="13" lengthAdjust="spacingAndGlyphs">PDI</text>
<text x="0" y="-3.4" font-size="5.6" text-anchor="end" textLength="7.4" lengthAdjust="spacingAndGlyphs">fl/fl</text>
</g>
<g transform="translate(320 431.6) rotate(-45)">
<text x="0" y="0" font-size="8.8" text-anchor="end" textLength="22" lengthAdjust="spacingAndGlyphs">ERp46</text>
</g>
<g transform="translate(346.5 431.6) rotate(-45)">
<text x="0" y="0" font-size="8.8" text-anchor="end" textLength="12" lengthAdjust="spacingAndGlyphs">PDI</text>
</g>
<line x1="284.6" y1="450.8" x2="353.6" y2="450.8" stroke="#3a3a3a" stroke-width="1.2"/>
<text x="297.8" y="462.3" font-size="9.4" textLength="37.8" lengthAdjust="spacingAndGlyphs">Pf4-Cre/PDI</text>
<text x="336.2" y="459.5" font-size="6.5" textLength="4.6" lengthAdjust="spacingAndGlyphs">fl/fl</text>
<line x1="398.2" y1="301.5" x2="398.2" y2="421.35" stroke="#231f20" stroke-width="1.15"/>
<line x1="395" y1="420.8" x2="398.2" y2="420.8" stroke="#231f20" stroke-width="1"/>
<text x="392.6" y="423.75" font-size="8.3" text-anchor="end" textLength="11.4" lengthAdjust="spacingAndGlyphs">0.0</text>
<line x1="395" y1="392" x2="398.2" y2="392" stroke="#231f20" stroke-width="1"/>
<text x="392.6" y="394.95" font-size="8.3" text-anchor="end" textLength="11.4" lengthAdjust="spacingAndGlyphs">0.5</text>
<line x1="395" y1="363.1" x2="398.2" y2="363.1" stroke="#231f20" stroke-width="1"/>
<text x="392.6" y="366.05" font-size="8.3" text-anchor="end" textLength="11.4" lengthAdjust="spacingAndGlyphs">1.0</text>
<line x1="395" y1="334.3" x2="398.2" y2="334.3" stroke="#231f20" stroke-width="1"/>
<text x="392.6" y="337.25" font-size="8.3" text-anchor="end" textLength="11.4" lengthAdjust="spacingAndGlyphs">1.5</text>
<line x1="395" y1="305.1" x2="398.2" y2="305.1" stroke="#231f20" stroke-width="1"/>
<text x="392.6" y="308.05" font-size="8.3" text-anchor="end" textLength="11.4" lengthAdjust="spacingAndGlyphs">2.0</text>
<text x="376.2" y="362.4" font-size="8.4" text-anchor="middle" textLength="75.8" lengthAdjust="spacingAndGlyphs" transform="rotate(-90 376.2 362.4)">ATP secretion (nmoles)</text>
<rect x="410.75" y="342.8" width="17.3" height="78" fill="#de8795"/>
<rect x="437.55" y="410" width="17.3" height="10.8" fill="#89a7c0"/>
<rect x="463.95" y="410.5" width="17.3" height="10.3" fill="#c3c0de"/>
<rect x="490.95" y="357.2" width="17.3" height="63.6" fill="#a0daa6"/>
<line x1="419.4" y1="338" x2="419.4" y2="347.4" stroke="#c8102e" stroke-width="0.95"/>
<line x1="415.3" y1="338" x2="423.5" y2="338" stroke="#c8102e" stroke-width="0.95"/>
<line x1="415.3" y1="347.4" x2="423.5" y2="347.4" stroke="#c8102e" stroke-width="0.95"/>
<circle cx="419.2" cy="332.3" r="1.95" fill="#c8102e"/>
<circle cx="426.6" cy="330.3" r="1.95" fill="#c8102e"/>
<circle cx="419.2" cy="349.5" r="1.95" fill="#c8102e"/>
<circle cx="426.6" cy="348" r="1.95" fill="#c8102e"/>
<circle cx="419.2" cy="353" r="1.95" fill="#c8102e"/>
<line x1="446.2" y1="406" x2="446.2" y2="414" stroke="#174f8a" stroke-width="0.95"/>
<line x1="442.1" y1="406" x2="450.3" y2="406" stroke="#174f8a" stroke-width="0.95"/>
<line x1="442.1" y1="414" x2="450.3" y2="414" stroke="#174f8a" stroke-width="0.95"/>
<rect x="444.4" y="398.1" width="3.2" height="3.2" fill="#174f8a"/>
<rect x="437.2" y="405.8" width="3.2" height="3.2" fill="#174f8a"/>
<rect x="452.1" y="409.4" width="3.2" height="3.2" fill="#174f8a"/>
<rect x="444.4" y="410.8" width="3.2" height="3.2" fill="#174f8a"/>
<rect x="444.4" y="415.4" width="3.2" height="3.2" fill="#174f8a"/>
<line x1="472.6" y1="406.5" x2="472.6" y2="414" stroke="#7b6ec3" stroke-width="0.95"/>
<line x1="468.5" y1="406.5" x2="476.7" y2="406.5" stroke="#7b6ec3" stroke-width="0.95"/>
<line x1="468.5" y1="414" x2="476.7" y2="414" stroke="#7b6ec3" stroke-width="0.95"/>
<polygon points="473,399.9 475.2,403.6 470.8,403.6" fill="#7b6ec3"/>
<polygon points="465.7,405.3 467.9,409 463.5,409" fill="#7b6ec3"/>
<polygon points="480.1,408.9 482.3,412.6 477.9,412.6" fill="#7b6ec3"/>
<polygon points="473,411.3 475.2,415 470.8,415" fill="#7b6ec3"/>
<polygon points="473,414.9 475.2,418.6 470.8,418.6" fill="#7b6ec3"/>
<line x1="499.6" y1="350" x2="499.6" y2="363.8" stroke="#2db14a" stroke-width="0.95"/>
<line x1="495.5" y1="350" x2="503.7" y2="350" stroke="#2db14a" stroke-width="0.95"/>
<line x1="495.5" y1="363.8" x2="503.7" y2="363.8" stroke="#2db14a" stroke-width="0.95"/>
<polygon points="499.5,332.15 501.65,334.3 499.5,336.45 497.35,334.3" fill="#2db14a"/>
<polygon points="499.5,347.55 501.65,349.7 499.5,351.85 497.35,349.7" fill="#2db14a"/>
<polygon points="499.5,359.15 501.65,361.3 499.5,363.45 497.35,361.3" fill="#2db14a"/>
<polygon points="499.5,365.15 501.65,367.3 499.5,369.45 497.35,367.3" fill="#2db14a"/>
<polygon points="499.5,370.45 501.65,372.6 499.5,374.75 497.35,372.6" fill="#2db14a"/>
<line x1="398.2" y1="420.8" x2="511.5" y2="420.8" stroke="#231f20" stroke-width="1.2"/>
<line x1="419.4" y1="420.8" x2="419.4" y2="424" stroke="#231f20" stroke-width="1"/>
<line x1="446.2" y1="420.8" x2="446.2" y2="424" stroke="#231f20" stroke-width="1"/>
<line x1="472.6" y1="420.8" x2="472.6" y2="424" stroke="#231f20" stroke-width="1"/>
<line x1="499.6" y1="420.8" x2="499.6" y2="424" stroke="#231f20" stroke-width="1"/>
<line x1="421.2" y1="304.3" x2="478" y2="304.3" stroke="#3a3a3a" stroke-width="1.05"/>
<circle cx="444.7" cy="301.4" r="1.05" fill="#2a2a2a"/>
<circle cx="447.97" cy="301.4" r="1.05" fill="#2a2a2a"/>
<circle cx="451.24" cy="301.4" r="1.05" fill="#2a2a2a"/>
<circle cx="454.5" cy="301.4" r="1.05" fill="#2a2a2a"/>
<line x1="448.2" y1="315.4" x2="505" y2="315.4" stroke="#3a3a3a" stroke-width="1.05"/>
<circle cx="471.7" cy="312.5" r="1.05" fill="#2a2a2a"/>
<circle cx="474.97" cy="312.5" r="1.05" fill="#2a2a2a"/>
<circle cx="478.24" cy="312.5" r="1.05" fill="#2a2a2a"/>
<circle cx="481.5" cy="312.5" r="1.05" fill="#2a2a2a"/>
<line x1="422" y1="325.4" x2="451.5" y2="325.4" stroke="#3a3a3a" stroke-width="1.05"/>
<circle cx="431.85" cy="322.5" r="1.05" fill="#2a2a2a"/>
<circle cx="435.12" cy="322.5" r="1.05" fill="#2a2a2a"/>
<circle cx="438.38" cy="322.5" r="1.05" fill="#2a2a2a"/>
<circle cx="441.65" cy="322.5" r="1.05" fill="#2a2a2a"/>
<line x1="475" y1="326" x2="505" y2="326" stroke="#3a3a3a" stroke-width="1.05"/>
<circle cx="485.1" cy="323.1" r="1.05" fill="#2a2a2a"/>
<circle cx="488.37" cy="323.1" r="1.05" fill="#2a2a2a"/>
<circle cx="491.63" cy="323.1" r="1.05" fill="#2a2a2a"/>
<circle cx="494.9" cy="323.1" r="1.05" fill="#2a2a2a"/>
<g transform="translate(423.3 432.5) rotate(-45)">
<text x="-7.4" y="0" font-size="8.8" text-anchor="end" textLength="13" lengthAdjust="spacingAndGlyphs">PDI</text>
<text x="0" y="-3.4" font-size="5.6" text-anchor="end" textLength="7.4" lengthAdjust="spacingAndGlyphs">fl/fl</text>
</g>
<g transform="translate(476.1 431.6) rotate(-45)">
<text x="0" y="0" font-size="8.8" text-anchor="end" textLength="22" lengthAdjust="spacingAndGlyphs">ERp46</text>
</g>
<g transform="translate(503.1 431.6) rotate(-45)">
<text x="0" y="0" font-size="8.8" text-anchor="end" textLength="12" lengthAdjust="spacingAndGlyphs">PDI</text>
</g>
<line x1="442.2" y1="450.8" x2="511" y2="450.8" stroke="#3a3a3a" stroke-width="1.2"/>
<text x="455.2" y="462.3" font-size="9.4" textLength="37.9" lengthAdjust="spacingAndGlyphs">Pf4-Cre/PDI</text>
<text x="493.7" y="458.9" font-size="6.5" textLength="5.2" lengthAdjust="spacingAndGlyphs">fl/fl</text>
<line x1="241.6" y1="529.2" x2="241.6" y2="649.15" stroke="#231f20" stroke-width="1.15"/>
<line x1="238.4" y1="648.6" x2="241.6" y2="648.6" stroke="#231f20" stroke-width="1"/>
<text x="235.9" y="651.55" font-size="8.3" text-anchor="end" textLength="4.3" lengthAdjust="spacingAndGlyphs">0</text>
<line x1="238.4" y1="620" x2="241.6" y2="620" stroke="#231f20" stroke-width="1"/>
<text x="235.9" y="622.95" font-size="8.3" text-anchor="end" textLength="8.9" lengthAdjust="spacingAndGlyphs">20</text>
<line x1="238.4" y1="591.1" x2="241.6" y2="591.1" stroke="#231f20" stroke-width="1"/>
<text x="235.9" y="594.05" font-size="8.3" text-anchor="end" textLength="8.9" lengthAdjust="spacingAndGlyphs">40</text>
<line x1="238.4" y1="562" x2="241.6" y2="562" stroke="#231f20" stroke-width="1"/>
<text x="235.9" y="564.95" font-size="8.3" text-anchor="end" textLength="8.9" lengthAdjust="spacingAndGlyphs">60</text>
<line x1="238.4" y1="533.1" x2="241.6" y2="533.1" stroke="#231f20" stroke-width="1"/>
<text x="235.9" y="536.05" font-size="8.3" text-anchor="end" textLength="8.9" lengthAdjust="spacingAndGlyphs">80</text>
<text x="220.7" y="590.8" font-size="8.4" text-anchor="middle" textLength="49.3" lengthAdjust="spacingAndGlyphs" transform="rotate(-90 220.7 590.8)">% Aggregation</text>
<rect x="254.45" y="561.5" width="17.3" height="87.1" fill="#de8795"/>
<rect x="281.35" y="617.2" width="17.3" height="31.4" fill="#89a7c0"/>
<rect x="307.75" y="619.6" width="17.3" height="29" fill="#c3c0de"/>
<rect x="334.35" y="574.9" width="17.3" height="73.7" fill="#a0daa6"/>
<line x1="263.1" y1="560.3" x2="263.1" y2="563.2" stroke="#c8102e" stroke-width="0.95"/>
<line x1="259" y1="560.3" x2="267.2" y2="560.3" stroke="#c8102e" stroke-width="0.95"/>
<line x1="259" y1="563.2" x2="267.2" y2="563.2" stroke="#c8102e" stroke-width="0.95"/>
<circle cx="256.2" cy="562" r="1.95" fill="#c8102e"/>
<circle cx="263.2" cy="559.2" r="1.95" fill="#c8102e"/>
<circle cx="270.4" cy="562" r="1.95" fill="#c8102e"/>
<line x1="290" y1="613.6" x2="290" y2="621.2" stroke="#174f8a" stroke-width="0.95"/>
<line x1="285.9" y1="613.6" x2="294.1" y2="613.6" stroke="#174f8a" stroke-width="0.95"/>
<line x1="285.9" y1="621.2" x2="294.1" y2="621.2" stroke="#174f8a" stroke-width="0.95"/>
<rect x="288.2" y="608.1" width="3.2" height="3.2" fill="#174f8a"/>
<rect x="281.5" y="621.3" width="3.2" height="3.2" fill="#174f8a"/>
<rect x="295.2" y="618.4" width="3.2" height="3.2" fill="#174f8a"/>
<line x1="316.4" y1="616.4" x2="316.4" y2="622.5" stroke="#7b6ec3" stroke-width="0.95"/>
<line x1="312.3" y1="616.4" x2="320.5" y2="616.4" stroke="#7b6ec3" stroke-width="0.95"/>
<line x1="312.3" y1="622.5" x2="320.5" y2="622.5" stroke="#7b6ec3" stroke-width="0.95"/>
<polygon points="316.7,612.4 318.9,616.1 314.5,616.1" fill="#7b6ec3"/>
<polygon points="308.8,618.7 311,622.4 306.6,622.4" fill="#7b6ec3"/>
<polygon points="324,617.9 326.2,621.6 321.8,621.6" fill="#7b6ec3"/>
<line x1="343" y1="572.6" x2="343" y2="577.2" stroke="#2db14a" stroke-width="0.95"/>
<line x1="338.9" y1="572.6" x2="347.1" y2="572.6" stroke="#2db14a" stroke-width="0.95"/>
<line x1="338.9" y1="577.2" x2="347.1" y2="577.2" stroke="#2db14a" stroke-width="0.95"/>
<polygon points="342.8,568.15 344.95,570.3 342.8,572.45 340.65,570.3" fill="#2db14a"/>
<polygon points="335.7,575.85 337.85,578 335.7,580.15 333.55,578" fill="#2db14a"/>
<polygon points="346.5,574.45 348.65,576.6 346.5,578.75 344.35,576.6" fill="#2db14a"/>
<line x1="241.6" y1="648.6" x2="355.2" y2="648.6" stroke="#231f20" stroke-width="1.2"/>
<line x1="263.1" y1="648.6" x2="263.1" y2="651.8" stroke="#231f20" stroke-width="1"/>
<line x1="290" y1="648.6" x2="290" y2="651.8" stroke="#231f20" stroke-width="1"/>
<line x1="316.4" y1="648.6" x2="316.4" y2="651.8" stroke="#231f20" stroke-width="1"/>
<line x1="343" y1="648.6" x2="343" y2="651.8" stroke="#231f20" stroke-width="1"/>
<line x1="259.6" y1="532" x2="316.6" y2="532" stroke="#3a3a3a" stroke-width="1.05"/>
<circle cx="283.2" cy="529.1" r="1.05" fill="#2a2a2a"/>
<circle cx="286.47" cy="529.1" r="1.05" fill="#2a2a2a"/>
<circle cx="289.74" cy="529.1" r="1.05" fill="#2a2a2a"/>
<circle cx="293" cy="529.1" r="1.05" fill="#2a2a2a"/>
<line x1="286.2" y1="543.4" x2="343.1" y2="543.4" stroke="#3a3a3a" stroke-width="1.05"/>
<circle cx="309.75" cy="540.5" r="1.05" fill="#2a2a2a"/>
<circle cx="313.01" cy="540.5" r="1.05" fill="#2a2a2a"/>
<circle cx="316.28" cy="540.5" r="1.05" fill="#2a2a2a"/>
<circle cx="319.55" cy="540.5" r="1.05" fill="#2a2a2a"/>
<line x1="259.6" y1="552" x2="290" y2="552" stroke="#3a3a3a" stroke-width="1.05"/>
<circle cx="269.9" cy="549.1" r="1.05" fill="#2a2a2a"/>
<circle cx="273.17" cy="549.1" r="1.05" fill="#2a2a2a"/>
<circle cx="276.44" cy="549.1" r="1.05" fill="#2a2a2a"/>
<circle cx="279.7" cy="549.1" r="1.05" fill="#2a2a2a"/>
<line x1="312.6" y1="562.3" x2="342.6" y2="562.3" stroke="#3a3a3a" stroke-width="1.05"/>
<circle cx="322.7" cy="559.4" r="1.05" fill="#2a2a2a"/>
<circle cx="325.97" cy="559.4" r="1.05" fill="#2a2a2a"/>
<circle cx="329.24" cy="559.4" r="1.05" fill="#2a2a2a"/>
<circle cx="332.5" cy="559.4" r="1.05" fill="#2a2a2a"/>
<g transform="translate(267 660.5) rotate(-45)">
<text x="-7.4" y="0" font-size="8.8" text-anchor="end" textLength="23.5" lengthAdjust="spacingAndGlyphs">ERp57</text>
<text x="0" y="-3.4" font-size="5.6" text-anchor="end" textLength="7.4" lengthAdjust="spacingAndGlyphs">fl/fl</text>
</g>
<g transform="translate(319.9 659.6) rotate(-45)">
<text x="0" y="0" font-size="8.8" text-anchor="end" textLength="22" lengthAdjust="spacingAndGlyphs">ERp46</text>
</g>
<g transform="translate(346.5 659.6) rotate(-45)">
<text x="0" y="0" font-size="8.8" text-anchor="end" textLength="22" lengthAdjust="spacingAndGlyphs">ERp57</text>
</g>
<line x1="278" y1="679" x2="351.3" y2="679" stroke="#3a3a3a" stroke-width="1.2"/>
<text x="285.4" y="690.1" font-size="9.4" textLength="47.8" lengthAdjust="spacingAndGlyphs">Pf4-Cre/ERp57</text>
<text x="333.8" y="687" font-size="6.5" textLength="8.4" lengthAdjust="spacingAndGlyphs">fl/fl</text>
<line x1="398.2" y1="529.2" x2="398.2" y2="649.15" stroke="#231f20" stroke-width="1.15"/>
<line x1="395" y1="648.6" x2="398.2" y2="648.6" stroke="#231f20" stroke-width="1"/>
<text x="392.6" y="651.55" font-size="8.3" text-anchor="end" textLength="11.4" lengthAdjust="spacingAndGlyphs">0.0</text>
<line x1="395" y1="610.4" x2="398.2" y2="610.4" stroke="#231f20" stroke-width="1"/>
<text x="392.6" y="613.35" font-size="8.3" text-anchor="end" textLength="11.4" lengthAdjust="spacingAndGlyphs">0.5</text>
<line x1="395" y1="571.5" x2="398.2" y2="571.5" stroke="#231f20" stroke-width="1"/>
<text x="392.6" y="574.45" font-size="8.3" text-anchor="end" textLength="11.4" lengthAdjust="spacingAndGlyphs">1.0</text>
<line x1="395" y1="532.6" x2="398.2" y2="532.6" stroke="#231f20" stroke-width="1"/>
<text x="392.6" y="535.55" font-size="8.3" text-anchor="end" textLength="11.4" lengthAdjust="spacingAndGlyphs">1.5</text>
<text x="376.2" y="591" font-size="8.4" text-anchor="middle" textLength="75.8" lengthAdjust="spacingAndGlyphs" transform="rotate(-90 376.2 591)">ATP secretion (nmoles)</text>
<rect x="412.05" y="564.6" width="17.1" height="84" fill="#de8795"/>
<rect x="438.25" y="634.5" width="17.1" height="14.1" fill="#89a7c0"/>
<rect x="464.35" y="632.1" width="17.1" height="16.5" fill="#c3c0de"/>
<rect x="491.05" y="572.3" width="17.1" height="76.3" fill="#a0daa6"/>
<line x1="420.6" y1="554.9" x2="420.6" y2="574.3" stroke="#c8102e" stroke-width="0.95"/>
<line x1="416.5" y1="554.9" x2="424.7" y2="554.9" stroke="#c8102e" stroke-width="0.95"/>
<line x1="416.5" y1="574.3" x2="424.7" y2="574.3" stroke="#c8102e" stroke-width="0.95"/>
<circle cx="420.5" cy="545.8" r="1.95" fill="#c8102e"/>
<circle cx="420.5" cy="571.5" r="1.95" fill="#c8102e"/>
<circle cx="420.5" cy="577.2" r="1.95" fill="#c8102e"/>
<line x1="446.8" y1="626" x2="446.8" y2="642.4" stroke="#174f8a" stroke-width="0.95"/>
<line x1="442.7" y1="626" x2="450.9" y2="626" stroke="#174f8a" stroke-width="0.95"/>
<line x1="442.7" y1="642.4" x2="450.9" y2="642.4" stroke="#174f8a" stroke-width="0.95"/>
<rect x="445.4" y="616" width="3.2" height="3.2" fill="#174f8a"/>
<rect x="438.2" y="642.4" width="3.2" height="3.2" fill="#174f8a"/>
<rect x="452.1" y="639.4" width="3.2" height="3.2" fill="#174f8a"/>
<line x1="472.9" y1="625.6" x2="472.9" y2="637.6" stroke="#7b6ec3" stroke-width="0.95"/>
<line x1="468.8" y1="625.6" x2="477" y2="625.6" stroke="#7b6ec3" stroke-width="0.95"/>
<line x1="468.8" y1="637.6" x2="477" y2="637.6" stroke="#7b6ec3" stroke-width="0.95"/>
<polygon points="473,621.1 475.2,624.8 470.8,624.8" fill="#7b6ec3"/>
<polygon points="473,625.9 475.2,629.6 470.8,629.6" fill="#7b6ec3"/>
<polygon points="473,641.9 475.2,645.6 470.8,645.6" fill="#7b6ec3"/>
<line x1="499.6" y1="561.2" x2="499.6" y2="583.4" stroke="#2db14a" stroke-width="0.95"/>
<line x1="495.5" y1="561.2" x2="503.7" y2="561.2" stroke="#2db14a" stroke-width="0.95"/>
<line x1="495.5" y1="583.4" x2="503.7" y2="583.4" stroke="#2db14a" stroke-width="0.95"/>
<polygon points="499.2,548.65 501.35,550.8 499.2,552.95 497.05,550.8" fill="#2db14a"/>
<polygon points="499.2,577.05 501.35,579.2 499.2,581.35 497.05,579.2" fill="#2db14a"/>
<polygon points="499.2,584.75 501.35,586.9 499.2,589.05 497.05,586.9" fill="#2db14a"/>
<line x1="398.2" y1="648.6" x2="512.5" y2="648.6" stroke="#231f20" stroke-width="1.2"/>
<line x1="420.6" y1="648.6" x2="420.6" y2="651.8" stroke="#231f20" stroke-width="1"/>
<line x1="446.8" y1="648.6" x2="446.8" y2="651.8" stroke="#231f20" stroke-width="1"/>
<line x1="472.9" y1="648.6" x2="472.9" y2="651.8" stroke="#231f20" stroke-width="1"/>
<line x1="499.6" y1="648.6" x2="499.6" y2="651.8" stroke="#231f20" stroke-width="1"/>
<line x1="417" y1="520.5" x2="474.2" y2="520.5" stroke="#3a3a3a" stroke-width="1.05"/>
<circle cx="443.97" cy="517.6" r="1.05" fill="#2a2a2a"/>
<circle cx="447.24" cy="517.6" r="1.05" fill="#2a2a2a"/>
<line x1="443.8" y1="532.3" x2="500.8" y2="532.3" stroke="#3a3a3a" stroke-width="1.05"/>
<circle cx="470.67" cy="529.4" r="1.05" fill="#2a2a2a"/>
<circle cx="473.94" cy="529.4" r="1.05" fill="#2a2a2a"/>
<line x1="418.2" y1="541.5" x2="447.7" y2="541.5" stroke="#3a3a3a" stroke-width="1.05"/>
<circle cx="431.31" cy="538.6" r="1.05" fill="#2a2a2a"/>
<circle cx="434.58" cy="538.6" r="1.05" fill="#2a2a2a"/>
<line x1="470.8" y1="542.3" x2="500.8" y2="542.3" stroke="#3a3a3a" stroke-width="1.05"/>
<circle cx="484.17" cy="539.4" r="1.05" fill="#2a2a2a"/>
<circle cx="487.44" cy="539.4" r="1.05" fill="#2a2a2a"/>
<g transform="translate(424.5 660.5) rotate(-45)">
<text x="-7.4" y="0" font-size="8.8" text-anchor="end" textLength="23.5" lengthAdjust="spacingAndGlyphs">ERp57</text>
<text x="0" y="-3.4" font-size="5.6" text-anchor="end" textLength="7.4" lengthAdjust="spacingAndGlyphs">fl/fl</text>
</g>
<g transform="translate(476.4 659.6) rotate(-45)">
<text x="0" y="0" font-size="8.8" text-anchor="end" textLength="22" lengthAdjust="spacingAndGlyphs">ERp46</text>
</g>
<g transform="translate(503.1 659.6) rotate(-45)">
<text x="0" y="0" font-size="8.8" text-anchor="end" textLength="22" lengthAdjust="spacingAndGlyphs">ERp57</text>
</g>
<line x1="443.6" y1="678.9" x2="512.4" y2="678.9" stroke="#3a3a3a" stroke-width="1.2"/>
<text x="450.1" y="690" font-size="9.4" textLength="47.6" lengthAdjust="spacingAndGlyphs">Pf4-Cre/ERp57</text>
<text x="498" y="686.6" font-size="6.5" textLength="9.1" lengthAdjust="spacingAndGlyphs">fl/fl</text></svg></body></html>
